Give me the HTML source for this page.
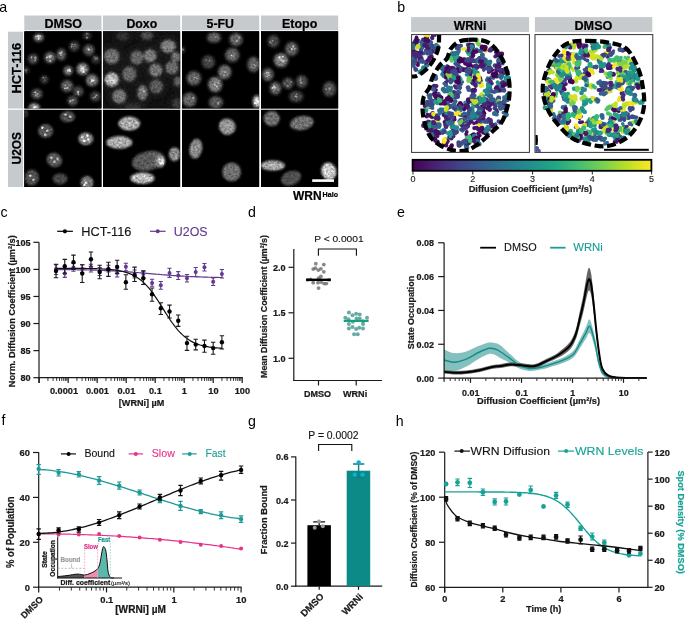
<!DOCTYPE html>
<html><head><meta charset="utf-8"><title>Figure</title>
<style>html,body{margin:0;padding:0;background:#fff;overflow:hidden}svg{display:block;will-change:transform}
text{font-family:"Liberation Sans",sans-serif}</style></head>
<body><svg width="685" height="622" viewBox="0 0 685 622">
<rect width="685" height="622" fill="#fff"/>
<text x="-0.70" y="12.20" font-size="14.2" >a</text>
<rect x="24.30" y="15.5" width="77.20" height="14.8" fill="#c7cacd"/>
<text x="63.20" y="27.90" font-size="13.0" font-weight="bold" text-anchor="middle" stroke="#000" stroke-width="0.22" textLength="37.6" lengthAdjust="spacingAndGlyphs" >DMSO</text>
<rect x="103.00" y="15.5" width="77.20" height="14.8" fill="#c7cacd"/>
<text x="141.85" y="27.90" font-size="13.0" font-weight="bold" text-anchor="middle" stroke="#000" stroke-width="0.22" textLength="30.8" lengthAdjust="spacingAndGlyphs" >Doxo</text>
<rect x="182.00" y="15.5" width="77.20" height="14.8" fill="#c7cacd"/>
<text x="220.30" y="27.90" font-size="13.0" font-weight="bold" text-anchor="middle" stroke="#000" stroke-width="0.22" textLength="27.4" lengthAdjust="spacingAndGlyphs" >5-FU</text>
<rect x="261.00" y="15.5" width="77.20" height="14.8" fill="#c7cacd"/>
<text x="299.65" y="27.90" font-size="13.0" font-weight="bold" text-anchor="middle" stroke="#000" stroke-width="0.22" textLength="35.4" lengthAdjust="spacingAndGlyphs" >Etopo</text>
<rect x="8" y="31.70" width="15" height="76.80" fill="#c7cacd"/>
<rect x="8" y="109.80" width="15" height="77.20" fill="#c7cacd"/>
<text x="21.00" y="68.10" font-size="12.8" font-weight="bold" text-anchor="middle" stroke="#000" stroke-width="0.22" textLength="50.6" lengthAdjust="spacingAndGlyphs" transform="rotate(-90 21.00 68.10)" >HCT-116</text>
<text x="20.60" y="148.20" font-size="12.6" font-weight="bold" text-anchor="middle" stroke="#000" stroke-width="0.22" textLength="32.5" lengthAdjust="spacingAndGlyphs" transform="rotate(-90 20.60 148.20)" >U2OS</text>
<defs><filter id="bl" x="-50%" y="-50%" width="200%" height="200%"><feGaussianBlur stdDeviation="1.5"/></filter><filter id="tex" x="0" y="0" width="100%" height="100%" color-interpolation-filters="sRGB"><feTurbulence type="fractalNoise" baseFrequency="0.45" numOctaves="2" seed="7" result="n"/><feColorMatrix in="n" type="matrix" values="1 0 0 0 0  1 0 0 0 0  1 0 0 0 0  0 0 0 0 1" result="nm"/><feComposite in="SourceGraphic" in2="nm" operator="arithmetic" k1="0.95" k2="0.53" k3="0" k4="0"/></filter><filter id="blD" x="-50%" y="-50%" width="200%" height="200%"><feGaussianBlur stdDeviation="1.15"/></filter><filter id="blU" x="-50%" y="-50%" width="200%" height="200%"><feGaussianBlur stdDeviation="1.3"/></filter><filter id="bl2" x="-50%" y="-50%" width="200%" height="200%"><feGaussianBlur stdDeviation="0.7"/></filter><filter id="bl3" x="-50%" y="-50%" width="200%" height="200%"><feGaussianBlur stdDeviation="3"/></filter></defs>
<clipPath id="c00"><rect x="24.30" y="31.30" width="77.20" height="77.20"/></clipPath>
<rect x="24.30" y="31.30" width="77.20" height="77.20" fill="#000"/>
<g clip-path="url(#c00)"><g filter="url(#tex)"><rect x="24.30" y="31.30" width="77.20" height="77.20" fill="#000"/>
<g filter="url(#bl)"><ellipse cx="38.70" cy="37.60" rx="5.00" ry="4.00" fill="rgb(122,122,122)"/><ellipse cx="87.00" cy="35.70" rx="4.00" ry="3.50" fill="rgb(57,57,57)"/><ellipse cx="74.30" cy="46.30" rx="5.00" ry="5.00" fill="rgb(69,69,69)"/><ellipse cx="88.90" cy="50.10" rx="5.50" ry="5.50" fill="rgb(90,90,90)"/><ellipse cx="50.00" cy="57.60" rx="5.50" ry="5.50" fill="rgb(106,106,106)"/><ellipse cx="61.30" cy="54.50" rx="4.50" ry="6.00" fill="rgb(94,94,94)"/><ellipse cx="33.10" cy="58.90" rx="5.00" ry="5.00" fill="rgb(77,77,77)"/><ellipse cx="95.80" cy="59.50" rx="4.00" ry="4.00" fill="rgb(57,57,57)"/><ellipse cx="26.20" cy="70.20" rx="3.00" ry="3.50" fill="rgb(49,49,49)"/><ellipse cx="68.20" cy="70.80" rx="4.50" ry="4.50" fill="rgb(122,122,122)"/><ellipse cx="82.60" cy="68.90" rx="6.00" ry="6.00" fill="rgb(139,139,139)"/><ellipse cx="92.10" cy="80.20" rx="6.00" ry="6.00" fill="rgb(122,122,122)"/><ellipse cx="44.30" cy="79.60" rx="4.00" ry="4.00" fill="rgb(57,57,57)"/><ellipse cx="67.00" cy="85.90" rx="6.00" ry="6.00" fill="rgb(94,94,94)"/><ellipse cx="78.30" cy="91.50" rx="5.00" ry="5.00" fill="rgb(77,77,77)"/><ellipse cx="36.80" cy="94.00" rx="5.50" ry="5.00" fill="rgb(90,90,90)"/><ellipse cx="95.20" cy="96.50" rx="5.00" ry="5.00" fill="rgb(69,69,69)"/><ellipse cx="72.60" cy="100.90" rx="5.00" ry="5.00" fill="rgb(77,77,77)"/><ellipse cx="34.30" cy="107.30" rx="5.50" ry="4.00" fill="rgb(147,147,147)"/></g>
<g filter="url(#bl2)"><circle cx="40.08" cy="35.97" r="0.87" fill="rgb(255,255,255)" fill-opacity="0.7"/><circle cx="38.61" cy="38.93" r="0.86" fill="rgb(255,255,255)" fill-opacity="0.7"/><circle cx="38.91" cy="36.83" r="0.89" fill="rgb(255,255,255)" fill-opacity="0.7"/><circle cx="36.14" cy="36.42" r="0.90" fill="rgb(255,255,255)" fill-opacity="0.7"/><circle cx="86.61" cy="37.39" r="0.95" fill="rgb(133,133,133)" fill-opacity="0.7"/><circle cx="86.99" cy="37.77" r="1.09" fill="rgb(133,133,133)" fill-opacity="0.7"/><circle cx="87.87" cy="33.79" r="0.82" fill="rgb(133,133,133)" fill-opacity="0.7"/><circle cx="86.70" cy="33.67" r="0.97" fill="rgb(133,133,133)" fill-opacity="0.7"/><circle cx="73.98" cy="46.36" r="0.87" fill="rgb(161,161,161)" fill-opacity="0.7"/><circle cx="72.02" cy="44.40" r="1.09" fill="rgb(161,161,161)" fill-opacity="0.7"/><circle cx="71.52" cy="46.71" r="0.80" fill="rgb(161,161,161)" fill-opacity="0.7"/><circle cx="74.90" cy="44.62" r="0.71" fill="rgb(161,161,161)" fill-opacity="0.7"/><circle cx="88.63" cy="48.70" r="1.03" fill="rgb(209,209,209)" fill-opacity="0.7"/><circle cx="88.90" cy="50.10" r="0.90" fill="rgb(209,209,209)" fill-opacity="0.7"/><circle cx="89.49" cy="49.46" r="0.83" fill="rgb(209,209,209)" fill-opacity="0.7"/><circle cx="89.37" cy="49.60" r="0.93" fill="rgb(209,209,209)" fill-opacity="0.7"/><circle cx="50.25" cy="61.05" r="1.02" fill="rgb(247,247,247)" fill-opacity="0.7"/><circle cx="49.73" cy="57.69" r="0.83" fill="rgb(247,247,247)" fill-opacity="0.7"/><circle cx="46.67" cy="57.43" r="0.74" fill="rgb(247,247,247)" fill-opacity="0.7"/><circle cx="47.60" cy="56.80" r="0.92" fill="rgb(247,247,247)" fill-opacity="0.7"/><circle cx="61.92" cy="52.56" r="1.09" fill="rgb(218,218,218)" fill-opacity="0.7"/><circle cx="59.93" cy="53.12" r="0.88" fill="rgb(218,218,218)" fill-opacity="0.7"/><circle cx="60.37" cy="53.65" r="0.93" fill="rgb(218,218,218)" fill-opacity="0.7"/><circle cx="61.16" cy="55.22" r="0.77" fill="rgb(218,218,218)" fill-opacity="0.7"/><circle cx="31.48" cy="57.51" r="0.89" fill="rgb(180,180,180)" fill-opacity="0.7"/><circle cx="35.18" cy="60.22" r="1.05" fill="rgb(180,180,180)" fill-opacity="0.7"/><circle cx="35.53" cy="57.63" r="1.06" fill="rgb(180,180,180)" fill-opacity="0.7"/><circle cx="34.66" cy="58.08" r="0.86" fill="rgb(180,180,180)" fill-opacity="0.7"/><circle cx="95.60" cy="58.81" r="1.02" fill="rgb(133,133,133)" fill-opacity="0.7"/><circle cx="97.16" cy="57.61" r="0.94" fill="rgb(133,133,133)" fill-opacity="0.7"/><circle cx="97.23" cy="59.03" r="0.88" fill="rgb(133,133,133)" fill-opacity="0.7"/><circle cx="94.42" cy="57.31" r="1.07" fill="rgb(133,133,133)" fill-opacity="0.7"/><circle cx="26.24" cy="70.02" r="0.95" fill="rgb(114,114,114)" fill-opacity="0.7"/><circle cx="24.98" cy="70.32" r="1.04" fill="rgb(114,114,114)" fill-opacity="0.7"/><circle cx="26.26" cy="71.86" r="0.75" fill="rgb(114,114,114)" fill-opacity="0.7"/><circle cx="26.49" cy="71.98" r="0.83" fill="rgb(114,114,114)" fill-opacity="0.7"/><circle cx="68.32" cy="70.53" r="0.76" fill="rgb(255,255,255)" fill-opacity="0.7"/><circle cx="68.16" cy="70.67" r="0.93" fill="rgb(255,255,255)" fill-opacity="0.7"/><circle cx="69.52" cy="69.96" r="0.97" fill="rgb(255,255,255)" fill-opacity="0.7"/><circle cx="70.03" cy="71.11" r="0.94" fill="rgb(255,255,255)" fill-opacity="0.7"/><circle cx="81.24" cy="68.20" r="0.85" fill="rgb(255,255,255)" fill-opacity="0.7"/><circle cx="82.74" cy="68.88" r="0.71" fill="rgb(255,255,255)" fill-opacity="0.7"/><circle cx="83.30" cy="68.73" r="0.75" fill="rgb(255,255,255)" fill-opacity="0.7"/><circle cx="83.37" cy="71.93" r="1.07" fill="rgb(255,255,255)" fill-opacity="0.7"/><circle cx="93.74" cy="80.44" r="0.74" fill="rgb(255,255,255)" fill-opacity="0.7"/><circle cx="92.05" cy="81.06" r="0.96" fill="rgb(255,255,255)" fill-opacity="0.7"/><circle cx="91.69" cy="80.77" r="0.90" fill="rgb(255,255,255)" fill-opacity="0.7"/><circle cx="92.48" cy="80.30" r="1.10" fill="rgb(255,255,255)" fill-opacity="0.7"/><circle cx="44.59" cy="80.49" r="0.99" fill="rgb(133,133,133)" fill-opacity="0.7"/><circle cx="45.56" cy="77.57" r="0.77" fill="rgb(133,133,133)" fill-opacity="0.7"/><circle cx="43.13" cy="77.38" r="0.72" fill="rgb(133,133,133)" fill-opacity="0.7"/><circle cx="43.32" cy="77.63" r="0.84" fill="rgb(133,133,133)" fill-opacity="0.7"/><circle cx="66.99" cy="88.23" r="0.88" fill="rgb(218,218,218)" fill-opacity="0.7"/><circle cx="67.84" cy="87.54" r="0.86" fill="rgb(218,218,218)" fill-opacity="0.7"/><circle cx="65.20" cy="85.07" r="0.82" fill="rgb(218,218,218)" fill-opacity="0.7"/><circle cx="64.96" cy="88.45" r="0.80" fill="rgb(218,218,218)" fill-opacity="0.7"/><circle cx="78.26" cy="91.48" r="1.00" fill="rgb(180,180,180)" fill-opacity="0.7"/><circle cx="78.22" cy="91.63" r="0.81" fill="rgb(180,180,180)" fill-opacity="0.7"/><circle cx="78.49" cy="94.59" r="0.84" fill="rgb(180,180,180)" fill-opacity="0.7"/><circle cx="78.02" cy="92.63" r="1.08" fill="rgb(180,180,180)" fill-opacity="0.7"/><circle cx="35.32" cy="92.50" r="0.99" fill="rgb(209,209,209)" fill-opacity="0.7"/><circle cx="35.67" cy="94.87" r="0.96" fill="rgb(209,209,209)" fill-opacity="0.7"/><circle cx="37.49" cy="94.01" r="0.83" fill="rgb(209,209,209)" fill-opacity="0.7"/><circle cx="36.95" cy="96.07" r="0.85" fill="rgb(209,209,209)" fill-opacity="0.7"/><circle cx="96.51" cy="95.20" r="0.87" fill="rgb(161,161,161)" fill-opacity="0.7"/><circle cx="93.34" cy="97.81" r="0.87" fill="rgb(161,161,161)" fill-opacity="0.7"/><circle cx="95.12" cy="96.37" r="0.88" fill="rgb(161,161,161)" fill-opacity="0.7"/><circle cx="95.17" cy="97.01" r="0.91" fill="rgb(161,161,161)" fill-opacity="0.7"/><circle cx="70.78" cy="101.05" r="1.00" fill="rgb(180,180,180)" fill-opacity="0.7"/><circle cx="73.80" cy="99.83" r="0.82" fill="rgb(180,180,180)" fill-opacity="0.7"/><circle cx="70.03" cy="101.44" r="1.05" fill="rgb(180,180,180)" fill-opacity="0.7"/><circle cx="72.83" cy="100.34" r="1.10" fill="rgb(180,180,180)" fill-opacity="0.7"/><circle cx="34.10" cy="107.14" r="0.99" fill="rgb(255,255,255)" fill-opacity="0.7"/><circle cx="35.73" cy="107.21" r="0.97" fill="rgb(255,255,255)" fill-opacity="0.7"/><circle cx="33.99" cy="107.81" r="0.99" fill="rgb(255,255,255)" fill-opacity="0.7"/><circle cx="37.24" cy="107.33" r="0.91" fill="rgb(255,255,255)" fill-opacity="0.7"/><circle cx="82.30" cy="67.30" r="1.3" fill="rgb(220,220,220)" fill-opacity="0.95"/><circle cx="84.30" cy="70.30" r="1.3" fill="rgb(210,210,210)" fill-opacity="0.95"/><circle cx="81.30" cy="70.30" r="1.3" fill="rgb(200,200,200)" fill-opacity="0.95"/><circle cx="92.30" cy="80.30" r="1.3" fill="rgb(200,200,200)" fill-opacity="0.95"/><circle cx="68.30" cy="70.30" r="1.3" fill="rgb(200,200,200)" fill-opacity="0.95"/><circle cx="50.30" cy="56.30" r="1.3" fill="rgb(190,190,190)" fill-opacity="0.95"/><circle cx="38.30" cy="36.30" r="1.3" fill="rgb(190,190,190)" fill-opacity="0.95"/><circle cx="35.30" cy="107.30" r="1.3" fill="rgb(230,230,230)" fill-opacity="0.95"/></g>
</g></g>
<clipPath id="c10"><rect x="103.00" y="31.30" width="77.20" height="77.20"/></clipPath>
<rect x="103.00" y="31.30" width="77.20" height="77.20" fill="#101010"/>
<g clip-path="url(#c10)"><g filter="url(#tex)"><rect x="103.00" y="31.30" width="77.20" height="77.20" fill="#101010"/>
<g filter="url(#bl3)"><ellipse cx="111.80" cy="56.40" rx="11.25" ry="11.25" fill="rgb(30,30,30)"/><ellipse cx="136.90" cy="57.60" rx="9.75" ry="10.50" fill="rgb(30,30,30)"/><ellipse cx="150.00" cy="55.80" rx="9.75" ry="9.75" fill="rgb(30,30,30)"/><ellipse cx="168.20" cy="46.30" rx="11.25" ry="9.75" fill="rgb(30,30,30)"/><ellipse cx="175.80" cy="57.00" rx="6.75" ry="7.50" fill="rgb(30,30,30)"/><ellipse cx="146.90" cy="35.70" rx="9.00" ry="6.00" fill="rgb(30,30,30)"/><ellipse cx="123.00" cy="36.30" rx="9.00" ry="6.00" fill="rgb(30,30,30)"/><ellipse cx="155.70" cy="70.20" rx="9.75" ry="9.75" fill="rgb(30,30,30)"/><ellipse cx="172.00" cy="67.70" rx="9.75" ry="9.75" fill="rgb(30,30,30)"/><ellipse cx="129.30" cy="74.00" rx="10.50" ry="11.25" fill="rgb(30,30,30)"/><ellipse cx="111.80" cy="79.60" rx="10.50" ry="10.50" fill="rgb(30,30,30)"/><ellipse cx="156.30" cy="86.50" rx="9.75" ry="10.50" fill="rgb(30,30,30)"/><ellipse cx="177.70" cy="81.50" rx="6.00" ry="7.50" fill="rgb(30,30,30)"/><ellipse cx="142.50" cy="92.80" rx="7.50" ry="11.25" fill="rgb(30,30,30)"/><ellipse cx="119.30" cy="96.50" rx="10.50" ry="10.50" fill="rgb(30,30,30)"/><ellipse cx="177.00" cy="103.30" rx="7.50" ry="7.50" fill="rgb(30,30,30)"/><ellipse cx="133.00" cy="107.30" rx="12.00" ry="6.00" fill="rgb(30,30,30)"/></g>
<g filter="url(#blD)"><ellipse cx="111.80" cy="56.40" rx="7.50" ry="7.50" fill="rgb(110,110,110)"/><ellipse cx="136.90" cy="57.60" rx="6.50" ry="7.00" fill="rgb(100,100,100)"/><ellipse cx="150.00" cy="55.80" rx="6.50" ry="6.50" fill="rgb(120,120,120)"/><ellipse cx="168.20" cy="46.30" rx="7.50" ry="6.50" fill="rgb(125,125,125)"/><ellipse cx="175.80" cy="57.00" rx="4.50" ry="5.00" fill="rgb(110,110,110)"/><ellipse cx="146.90" cy="35.70" rx="6.00" ry="4.00" fill="rgb(75,75,75)"/><ellipse cx="123.00" cy="36.30" rx="6.00" ry="4.00" fill="rgb(50,50,50)"/><ellipse cx="155.70" cy="70.20" rx="6.50" ry="6.50" fill="rgb(115,115,115)"/><ellipse cx="172.00" cy="67.70" rx="6.50" ry="6.50" fill="rgb(105,105,105)"/><ellipse cx="129.30" cy="74.00" rx="7.00" ry="7.50" fill="rgb(100,100,100)"/><ellipse cx="111.80" cy="79.60" rx="7.00" ry="7.00" fill="rgb(180,180,180)"/><ellipse cx="156.30" cy="86.50" rx="6.50" ry="7.00" fill="rgb(90,90,90)"/><ellipse cx="177.70" cy="81.50" rx="4.00" ry="5.00" fill="rgb(90,90,90)"/><ellipse cx="142.50" cy="92.80" rx="5.00" ry="7.50" fill="rgb(115,115,115)"/><ellipse cx="119.30" cy="96.50" rx="7.00" ry="7.00" fill="rgb(115,115,115)"/><ellipse cx="177.00" cy="103.30" rx="5.00" ry="5.00" fill="rgb(55,55,55)"/><ellipse cx="133.00" cy="107.30" rx="8.00" ry="4.00" fill="rgb(45,45,45)"/></g>
<g filter="url(#bl2)"><circle cx="112.00" cy="80.30" r="1.3" fill="rgb(220,220,220)" fill-opacity="0.95"/><circle cx="111.00" cy="78.30" r="1.3" fill="rgb(210,210,210)" fill-opacity="0.95"/><circle cx="144.00" cy="91.30" r="1.3" fill="rgb(170,170,170)" fill-opacity="0.95"/></g>
</g></g>
<clipPath id="c20"><rect x="182.00" y="31.30" width="77.20" height="77.20"/></clipPath>
<rect x="182.00" y="31.30" width="77.20" height="77.20" fill="#000"/>
<g clip-path="url(#c20)"><g filter="url(#tex)"><rect x="182.00" y="31.30" width="77.20" height="77.20" fill="#000"/>
<g filter="url(#bl)"><ellipse cx="214.00" cy="37.60" rx="7.00" ry="5.00" fill="rgb(95,95,95)"/><ellipse cx="236.00" cy="39.50" rx="6.50" ry="6.50" fill="rgb(100,100,100)"/><ellipse cx="232.20" cy="55.10" rx="7.00" ry="7.00" fill="rgb(100,100,100)"/><ellipse cx="208.30" cy="62.00" rx="6.50" ry="6.50" fill="rgb(70,70,70)"/><ellipse cx="253.50" cy="64.50" rx="6.00" ry="7.50" fill="rgb(100,100,100)"/><ellipse cx="224.70" cy="72.10" rx="6.50" ry="7.00" fill="rgb(115,115,115)"/><ellipse cx="193.90" cy="78.30" rx="7.00" ry="7.00" fill="rgb(100,100,100)"/><ellipse cx="215.20" cy="84.60" rx="7.00" ry="7.50" fill="rgb(125,125,125)"/><ellipse cx="189.50" cy="99.70" rx="7.00" ry="7.00" fill="rgb(100,100,100)"/><ellipse cx="215.90" cy="102.20" rx="7.00" ry="6.00" fill="rgb(90,90,90)"/><ellipse cx="257.00" cy="101.60" rx="4.00" ry="6.00" fill="rgb(210,210,210)"/><ellipse cx="182.60" cy="50.10" rx="2.00" ry="3.00" fill="rgb(70,70,70)"/></g>
<g filter="url(#bl2)"><circle cx="216.59" cy="36.35" r="1.01" fill="rgb(180,180,180)" fill-opacity="0.7"/><circle cx="214.98" cy="37.12" r="0.95" fill="rgb(180,180,180)" fill-opacity="0.7"/><circle cx="239.05" cy="37.43" r="0.93" fill="rgb(190,190,190)" fill-opacity="0.7"/><circle cx="236.84" cy="41.02" r="1.10" fill="rgb(190,190,190)" fill-opacity="0.7"/><circle cx="233.36" cy="55.98" r="1.08" fill="rgb(190,190,190)" fill-opacity="0.7"/><circle cx="231.30" cy="55.40" r="0.83" fill="rgb(190,190,190)" fill-opacity="0.7"/><circle cx="209.49" cy="61.23" r="0.87" fill="rgb(133,133,133)" fill-opacity="0.7"/><circle cx="205.93" cy="59.55" r="0.90" fill="rgb(133,133,133)" fill-opacity="0.7"/><circle cx="255.45" cy="65.87" r="0.71" fill="rgb(190,190,190)" fill-opacity="0.7"/><circle cx="254.12" cy="65.02" r="0.98" fill="rgb(190,190,190)" fill-opacity="0.7"/><circle cx="224.09" cy="75.17" r="0.77" fill="rgb(218,218,218)" fill-opacity="0.7"/><circle cx="224.77" cy="72.17" r="0.98" fill="rgb(218,218,218)" fill-opacity="0.7"/><circle cx="194.53" cy="77.53" r="0.80" fill="rgb(190,190,190)" fill-opacity="0.7"/><circle cx="196.82" cy="78.54" r="0.82" fill="rgb(190,190,190)" fill-opacity="0.7"/><circle cx="217.12" cy="86.99" r="0.94" fill="rgb(237,237,237)" fill-opacity="0.7"/><circle cx="214.54" cy="84.84" r="0.96" fill="rgb(237,237,237)" fill-opacity="0.7"/><circle cx="187.65" cy="99.02" r="0.77" fill="rgb(190,190,190)" fill-opacity="0.7"/><circle cx="193.04" cy="98.00" r="0.98" fill="rgb(190,190,190)" fill-opacity="0.7"/><circle cx="218.54" cy="102.14" r="0.84" fill="rgb(171,171,171)" fill-opacity="0.7"/><circle cx="217.96" cy="103.78" r="0.91" fill="rgb(171,171,171)" fill-opacity="0.7"/><circle cx="254.62" cy="103.11" r="1.04" fill="rgb(255,255,255)" fill-opacity="0.7"/><circle cx="258.73" cy="103.88" r="0.70" fill="rgb(255,255,255)" fill-opacity="0.7"/><circle cx="182.36" cy="49.60" r="0.99" fill="rgb(133,133,133)" fill-opacity="0.7"/><circle cx="183.26" cy="49.80" r="1.01" fill="rgb(133,133,133)" fill-opacity="0.7"/><circle cx="258.00" cy="101.30" r="1.3" fill="rgb(240,240,240)" fill-opacity="0.95"/><circle cx="215.00" cy="83.30" r="1.3" fill="rgb(160,160,160)" fill-opacity="0.95"/></g>
</g></g>
<clipPath id="c30"><rect x="261.00" y="31.30" width="77.20" height="77.20"/></clipPath>
<rect x="261.00" y="31.30" width="77.20" height="77.20" fill="#000"/>
<g clip-path="url(#c30)"><g filter="url(#tex)"><rect x="261.00" y="31.30" width="77.20" height="77.20" fill="#000"/>
<g filter="url(#bl)"><ellipse cx="273.50" cy="41.30" rx="5.60" ry="6.30" fill="rgb(70,70,70)"/><ellipse cx="291.70" cy="48.90" rx="6.50" ry="7.00" fill="rgb(96,96,96)"/><ellipse cx="281.00" cy="60.20" rx="7.00" ry="7.00" fill="rgb(127,127,127)"/><ellipse cx="267.90" cy="74.60" rx="5.60" ry="6.30" fill="rgb(105,105,105)"/><ellipse cx="288.00" cy="83.30" rx="5.60" ry="5.60" fill="rgb(79,79,79)"/><ellipse cx="301.80" cy="81.50" rx="5.60" ry="6.30" fill="rgb(79,79,79)"/><ellipse cx="275.40" cy="88.30" rx="5.60" ry="6.30" fill="rgb(105,105,105)"/><ellipse cx="296.10" cy="96.50" rx="7.00" ry="5.60" fill="rgb(70,70,70)"/><ellipse cx="329.40" cy="89.00" rx="6.50" ry="7.50" fill="rgb(79,79,79)"/></g>
<g filter="url(#bl2)"><circle cx="272.48" cy="41.01" r="0.71" fill="rgb(152,152,152)" fill-opacity="0.7"/><circle cx="273.06" cy="40.59" r="0.80" fill="rgb(152,152,152)" fill-opacity="0.7"/><circle cx="271.64" cy="42.88" r="1.10" fill="rgb(152,152,152)" fill-opacity="0.7"/><circle cx="269.99" cy="42.27" r="1.10" fill="rgb(152,152,152)" fill-opacity="0.7"/><circle cx="291.71" cy="49.23" r="0.76" fill="rgb(209,209,209)" fill-opacity="0.7"/><circle cx="293.08" cy="46.61" r="1.07" fill="rgb(209,209,209)" fill-opacity="0.7"/><circle cx="294.42" cy="48.38" r="0.91" fill="rgb(209,209,209)" fill-opacity="0.7"/><circle cx="291.79" cy="48.94" r="1.02" fill="rgb(209,209,209)" fill-opacity="0.7"/><circle cx="279.36" cy="57.14" r="0.93" fill="rgb(255,255,255)" fill-opacity="0.7"/><circle cx="279.66" cy="57.62" r="1.06" fill="rgb(255,255,255)" fill-opacity="0.7"/><circle cx="282.72" cy="61.65" r="0.82" fill="rgb(255,255,255)" fill-opacity="0.7"/><circle cx="282.91" cy="56.69" r="0.80" fill="rgb(255,255,255)" fill-opacity="0.7"/><circle cx="268.67" cy="75.08" r="0.83" fill="rgb(228,228,228)" fill-opacity="0.7"/><circle cx="268.08" cy="72.93" r="1.00" fill="rgb(228,228,228)" fill-opacity="0.7"/><circle cx="267.30" cy="76.64" r="0.77" fill="rgb(228,228,228)" fill-opacity="0.7"/><circle cx="266.76" cy="72.94" r="1.05" fill="rgb(228,228,228)" fill-opacity="0.7"/><circle cx="289.79" cy="82.70" r="0.73" fill="rgb(171,171,171)" fill-opacity="0.7"/><circle cx="291.18" cy="81.98" r="0.89" fill="rgb(171,171,171)" fill-opacity="0.7"/><circle cx="284.62" cy="83.61" r="0.80" fill="rgb(171,171,171)" fill-opacity="0.7"/><circle cx="287.91" cy="85.83" r="0.97" fill="rgb(171,171,171)" fill-opacity="0.7"/><circle cx="300.62" cy="78.38" r="0.90" fill="rgb(171,171,171)" fill-opacity="0.7"/><circle cx="301.08" cy="81.94" r="0.79" fill="rgb(171,171,171)" fill-opacity="0.7"/><circle cx="300.73" cy="82.79" r="1.00" fill="rgb(171,171,171)" fill-opacity="0.7"/><circle cx="300.44" cy="80.07" r="0.85" fill="rgb(171,171,171)" fill-opacity="0.7"/><circle cx="274.42" cy="87.19" r="1.02" fill="rgb(228,228,228)" fill-opacity="0.7"/><circle cx="273.83" cy="86.07" r="0.85" fill="rgb(228,228,228)" fill-opacity="0.7"/><circle cx="272.79" cy="87.97" r="1.08" fill="rgb(228,228,228)" fill-opacity="0.7"/><circle cx="274.25" cy="88.06" r="0.98" fill="rgb(228,228,228)" fill-opacity="0.7"/><circle cx="297.21" cy="97.33" r="0.71" fill="rgb(152,152,152)" fill-opacity="0.7"/><circle cx="295.01" cy="96.20" r="0.86" fill="rgb(152,152,152)" fill-opacity="0.7"/><circle cx="296.77" cy="94.25" r="0.71" fill="rgb(152,152,152)" fill-opacity="0.7"/><circle cx="296.07" cy="96.51" r="1.03" fill="rgb(152,152,152)" fill-opacity="0.7"/><circle cx="325.81" cy="89.09" r="0.81" fill="rgb(171,171,171)" fill-opacity="0.7"/><circle cx="329.66" cy="88.39" r="1.05" fill="rgb(171,171,171)" fill-opacity="0.7"/><circle cx="329.16" cy="89.23" r="1.07" fill="rgb(171,171,171)" fill-opacity="0.7"/><circle cx="329.82" cy="88.19" r="0.93" fill="rgb(171,171,171)" fill-opacity="0.7"/><circle cx="281.00" cy="59.30" r="1.3" fill="rgb(190,190,190)" fill-opacity="0.95"/><circle cx="283.00" cy="61.30" r="1.3" fill="rgb(180,180,180)" fill-opacity="0.95"/><circle cx="268.00" cy="74.30" r="1.3" fill="rgb(170,170,170)" fill-opacity="0.95"/><circle cx="275.00" cy="88.30" r="1.3" fill="rgb(170,170,170)" fill-opacity="0.95"/></g>
</g></g>
<clipPath id="c01"><rect x="24.30" y="109.80" width="77.20" height="77.20"/></clipPath>
<rect x="24.30" y="109.80" width="77.20" height="77.20" fill="#000"/>
<g clip-path="url(#c01)"><g filter="url(#tex)"><rect x="24.30" y="109.80" width="77.20" height="77.20" fill="#000"/>
<g filter="url(#blU)"><ellipse cx="67.60" cy="116.70" rx="7.50" ry="5.60" fill="rgb(80,80,80)"/><ellipse cx="45.60" cy="131.10" rx="7.50" ry="7.00" fill="rgb(84,84,84)"/><ellipse cx="85.80" cy="138.70" rx="7.50" ry="6.30" fill="rgb(136,136,136)"/><ellipse cx="54.40" cy="160.00" rx="8.00" ry="7.00" fill="rgb(88,88,88)" transform="rotate(30 54.40 160.00)"/><ellipse cx="31.80" cy="177.60" rx="7.00" ry="8.00" fill="rgb(80,80,80)"/><ellipse cx="60.10" cy="178.80" rx="7.50" ry="5.60" fill="rgb(68,68,68)"/><ellipse cx="87.00" cy="182.60" rx="6.50" ry="6.50" fill="rgb(120,120,120)"/><ellipse cx="25.60" cy="113.60" rx="2.50" ry="4.00" fill="rgb(48,48,48)"/></g>
<g filter="url(#bl2)"><circle cx="82.30" cy="136.80" r="1.3" fill="rgb(250,250,250)" fill-opacity="0.95"/><circle cx="87.30" cy="135.80" r="1.3" fill="rgb(250,250,250)" fill-opacity="0.95"/><circle cx="84.30" cy="140.80" r="1.3" fill="rgb(240,240,240)" fill-opacity="0.95"/><circle cx="88.30" cy="139.80" r="1.3" fill="rgb(235,235,235)" fill-opacity="0.95"/><circle cx="42.30" cy="127.80" r="1.3" fill="rgb(220,220,220)" fill-opacity="0.95"/><circle cx="47.30" cy="130.80" r="1.3" fill="rgb(210,210,210)" fill-opacity="0.95"/><circle cx="45.30" cy="134.80" r="1.3" fill="rgb(200,200,200)" fill-opacity="0.95"/><circle cx="51.30" cy="157.80" r="1.3" fill="rgb(210,210,210)" fill-opacity="0.95"/><circle cx="54.30" cy="161.80" r="1.3" fill="rgb(210,210,210)" fill-opacity="0.95"/><circle cx="57.30" cy="158.80" r="1.3" fill="rgb(190,190,190)" fill-opacity="0.95"/><circle cx="86.30" cy="182.80" r="1.3" fill="rgb(230,230,230)" fill-opacity="0.95"/><circle cx="84.30" cy="184.80" r="1.3" fill="rgb(220,220,220)" fill-opacity="0.95"/><circle cx="30.30" cy="175.80" r="1.3" fill="rgb(200,200,200)" fill-opacity="0.95"/><circle cx="33.30" cy="179.80" r="1.3" fill="rgb(190,190,190)" fill-opacity="0.95"/><circle cx="65.30" cy="114.80" r="1.3" fill="rgb(200,200,200)" fill-opacity="0.95"/><circle cx="70.30" cy="116.80" r="1.3" fill="rgb(190,190,190)" fill-opacity="0.95"/></g>
</g></g>
<clipPath id="c11"><rect x="103.00" y="109.80" width="77.20" height="77.20"/></clipPath>
<rect x="103.00" y="109.80" width="77.20" height="77.20" fill="#000"/>
<g clip-path="url(#c11)"><g filter="url(#tex)"><rect x="103.00" y="109.80" width="77.20" height="77.20" fill="#000"/>
<g filter="url(#blU)"><ellipse cx="129.30" cy="123.60" rx="11.00" ry="7.00" fill="rgb(170,170,170)"/><ellipse cx="119.30" cy="142.40" rx="13.00" ry="6.30" fill="rgb(170,170,170)"/><ellipse cx="174.50" cy="154.30" rx="5.60" ry="7.00" fill="rgb(140,140,140)"/><ellipse cx="148.20" cy="160.80" rx="16.50" ry="9.60" fill="rgb(88,88,88)" transform="rotate(-12 148.20 160.80)"/><ellipse cx="159.50" cy="161.30" rx="5.50" ry="6.50" fill="rgb(120,120,120)"/><ellipse cx="161.50" cy="161.40" rx="3.20" ry="3.80" fill="rgb(215,215,215)"/><ellipse cx="142.50" cy="178.20" rx="12.00" ry="5.60" fill="rgb(185,185,185)"/></g>
<g filter="url(#bl2)"><circle cx="160.00" cy="159.80" r="1.3" fill="rgb(240,240,240)" fill-opacity="0.95"/><circle cx="162.50" cy="163.30" r="1.3" fill="rgb(235,235,235)" fill-opacity="0.95"/></g>
</g></g>
<clipPath id="c21"><rect x="182.00" y="109.80" width="77.20" height="77.20"/></clipPath>
<rect x="182.00" y="109.80" width="77.20" height="77.20" fill="#000"/>
<g clip-path="url(#c21)"><g filter="url(#tex)"><rect x="182.00" y="109.80" width="77.20" height="77.20" fill="#000"/>
<g filter="url(#blU)"><ellipse cx="227.20" cy="126.70" rx="8.50" ry="8.00" fill="rgb(150,150,150)" transform="rotate(30 227.20 126.70)"/><ellipse cx="195.80" cy="148.70" rx="6.30" ry="10.00" fill="rgb(140,140,140)" transform="rotate(10 195.80 148.70)"/><ellipse cx="231.60" cy="171.90" rx="9.40" ry="9.40" fill="rgb(110,110,110)"/></g>
</g></g>
<clipPath id="c31"><rect x="261.00" y="109.80" width="77.20" height="77.20"/></clipPath>
<rect x="261.00" y="109.80" width="77.20" height="77.20" fill="#000"/>
<g clip-path="url(#c31)"><g filter="url(#tex)"><rect x="261.00" y="109.80" width="77.20" height="77.20" fill="#000"/>
<g filter="url(#blU)"><ellipse cx="271.70" cy="118.60" rx="8.00" ry="7.50" fill="rgb(110,110,110)"/><ellipse cx="301.80" cy="123.00" rx="12.00" ry="7.00" fill="rgb(110,110,110)" transform="rotate(-10 301.80 123.00)"/><ellipse cx="272.90" cy="165.60" rx="12.00" ry="5.00" fill="rgb(170,170,170)"/><ellipse cx="291.10" cy="178.20" rx="10.50" ry="7.00" fill="rgb(80,80,80)" transform="rotate(-20 291.10 178.20)"/><ellipse cx="328.80" cy="171.30" rx="7.50" ry="8.80" fill="rgb(200,200,200)" transform="rotate(-20 328.80 171.30)"/></g>
<g filter="url(#bl2)"><circle cx="329.00" cy="171.80" r="1.3" fill="rgb(230,230,230)" fill-opacity="0.95"/></g>
</g></g>
<rect x="312.2" y="179.3" width="21.8" height="2.6" fill="#fff"/>
<text x="293.00" y="200.40" font-size="12.6" font-weight="bold" stroke="#000" stroke-width="0.22" textLength="28.6" lengthAdjust="spacingAndGlyphs" >WRN</text>
<text x="322.60" y="196.60" font-size="7.4" font-weight="bold" stroke="#000" stroke-width="0.22" textLength="15.4" lengthAdjust="spacingAndGlyphs" >Halo</text>
<text x="397.20" y="11.90" font-size="14.2" >b</text>
<rect x="411.1" y="17.1" width="118" height="14.9" fill="#c7cacd"/>
<rect x="534.9" y="17.1" width="117.4" height="14.9" fill="#c7cacd"/>
<text x="470.00" y="30.00" font-size="13.0" font-weight="bold" text-anchor="middle" stroke="#000" stroke-width="0.22" textLength="32.6" lengthAdjust="spacingAndGlyphs" >WRNi</text>
<text x="593.45" y="30.00" font-size="13.0" font-weight="bold" text-anchor="middle" stroke="#000" stroke-width="0.22" textLength="38.0" lengthAdjust="spacingAndGlyphs" >DMSO</text>
<rect x="411.6" y="34.6" width="117.8" height="117.8" fill="#fff" stroke="#333" stroke-width="1"/>
<rect x="535.0" y="34.6" width="117.8" height="117.8" fill="#fff" stroke="#333" stroke-width="1"/>
<clipPath id="bx1"><rect x="412.1" y="35.1" width="116.8" height="116.8"/></clipPath>
<clipPath id="bx2"><rect x="535.5" y="35.1" width="116.8" height="116.8"/></clipPath>
<g clip-path="url(#bx1)">
<g fill="#26838d"><circle cx="435.2" cy="132.6" r="2.4"/><circle cx="432.9" cy="133.0" r="2.0"/><circle cx="433.5" cy="135.3" r="2.1"/></g><g fill="#21978a"><circle cx="456.6" cy="106.8" r="2.3"/><circle cx="457.0" cy="109.1" r="2.5"/><circle cx="458.8" cy="107.8" r="1.6"/></g><g fill="#3f4888"><circle cx="469.4" cy="142.5" r="2.3"/><circle cx="467.1" cy="142.1" r="2.4"/><circle cx="469.3" cy="141.3" r="2.2"/></g><g fill="#f8e625"><circle cx="480.8" cy="123.3" r="2.4"/><circle cx="478.6" cy="122.5" r="2.2"/><circle cx="479.5" cy="124.7" r="2.6"/></g><g fill="#34628d"><circle cx="434.1" cy="77.3" r="2.1"/><circle cx="436.0" cy="76.0" r="1.8"/><circle cx="435.5" cy="78.3" r="2.6"/></g><g fill="#228e8c"><circle cx="502.9" cy="83.8" r="2.4"/><circle cx="501.0" cy="85.0" r="1.8"/><circle cx="498.8" cy="84.3" r="2.3"/><circle cx="497.7" cy="82.2" r="2.0"/></g><g fill="#3b518a"><circle cx="466.6" cy="125.2" r="2.3"/><circle cx="464.4" cy="125.7" r="1.9"/><circle cx="465.7" cy="123.8" r="2.2"/></g><g fill="#440255"><circle cx="478.3" cy="59.6" r="2.1"/><circle cx="479.7" cy="57.9" r="1.8"/></g><g fill="#3e4a88"><circle cx="503.9" cy="103.6" r="2.2"/><circle cx="503.6" cy="101.4" r="2.0"/><circle cx="505.0" cy="99.6" r="2.6"/><circle cx="507.2" cy="98.7" r="2.1"/></g><g fill="#dce326"><circle cx="489.2" cy="63.6" r="2.2"/><circle cx="489.9" cy="65.8" r="2.1"/><circle cx="487.6" cy="66.0" r="2.0"/></g><g fill="#3a558b"><circle cx="469.1" cy="108.6" r="2.4"/><circle cx="467.6" cy="106.8" r="2.2"/></g><g fill="#22a187"><circle cx="431.6" cy="100.8" r="2.4"/><circle cx="430.5" cy="98.7" r="1.7"/></g><g fill="#45085b"><circle cx="476.4" cy="78.5" r="2.6"/><circle cx="475.1" cy="76.6" r="2.2"/><circle cx="474.5" cy="78.8" r="2.3"/><circle cx="472.2" cy="78.9" r="1.7"/></g><g fill="#450d5f"><circle cx="452.7" cy="127.1" r="2.1"/><circle cx="453.3" cy="129.4" r="2.2"/><circle cx="454.3" cy="127.3" r="1.6"/><circle cx="456.6" cy="127.5" r="1.7"/></g><g fill="#38598c"><circle cx="437.4" cy="117.3" r="2.6"/><circle cx="435.8" cy="115.6" r="2.3"/></g><g fill="#32678d"><circle cx="467.9" cy="44.8" r="2.2"/><circle cx="470.1" cy="45.6" r="1.9"/><circle cx="472.3" cy="45.2" r="2.5"/><circle cx="471.5" cy="47.3" r="2.5"/></g><g fill="#472978"><circle cx="458.9" cy="68.6" r="2.2"/><circle cx="459.3" cy="70.9" r="2.5"/></g><g fill="#450a5d"><circle cx="489.4" cy="108.5" r="1.8"/><circle cx="488.4" cy="106.5" r="2.0"/></g><g fill="#471869"><circle cx="432.7" cy="113.1" r="2.2"/><circle cx="430.8" cy="114.4" r="1.9"/><circle cx="432.1" cy="116.4" r="2.5"/></g><g fill="#3e4a88"><circle cx="471.2" cy="56.0" r="2.4"/><circle cx="473.3" cy="55.1" r="1.9"/></g><g fill="#cce126"><circle cx="481.6" cy="93.6" r="1.6"/><circle cx="483.2" cy="95.3" r="1.8"/><circle cx="480.9" cy="94.8" r="1.9"/><circle cx="479.8" cy="96.8" r="2.1"/></g><g fill="#462b79"><circle cx="452.4" cy="53.7" r="2.5"/><circle cx="453.9" cy="55.5" r="2.2"/><circle cx="455.7" cy="56.9" r="1.6"/><circle cx="457.8" cy="57.9" r="2.5"/></g><g fill="#32668d"><circle cx="493.5" cy="78.2" r="1.7"/><circle cx="491.3" cy="77.4" r="2.2"/><circle cx="493.5" cy="76.8" r="2.0"/></g><g fill="#30b27c"><circle cx="468.8" cy="53.8" r="2.4"/><circle cx="471.1" cy="54.0" r="2.3"/></g><g fill="#450c5e"><circle cx="433.6" cy="136.7" r="2.0"/><circle cx="435.3" cy="138.2" r="1.8"/><circle cx="435.4" cy="140.5" r="2.3"/><circle cx="437.3" cy="141.9" r="2.5"/></g><g fill="#424185"><circle cx="448.6" cy="68.7" r="1.9"/><circle cx="450.9" cy="69.1" r="2.4"/><circle cx="452.9" cy="68.1" r="2.3"/><circle cx="451.9" cy="70.2" r="2.0"/></g><g fill="#482575"><circle cx="474.4" cy="90.5" r="2.5"/><circle cx="472.2" cy="91.0" r="2.0"/><circle cx="473.1" cy="93.1" r="1.8"/><circle cx="473.8" cy="95.3" r="2.0"/></g><g fill="#471b6d"><circle cx="431.4" cy="122.5" r="2.5"/><circle cx="429.6" cy="124.0" r="1.9"/><circle cx="428.6" cy="126.0" r="1.9"/></g><g fill="#471a6b"><circle cx="499.0" cy="74.1" r="2.4"/><circle cx="500.9" cy="75.3" r="1.8"/><circle cx="501.7" cy="73.2" r="2.0"/><circle cx="501.4" cy="75.5" r="2.5"/></g><g fill="#30698d"><circle cx="487.0" cy="80.1" r="2.1"/><circle cx="487.6" cy="77.9" r="1.7"/></g><g fill="#f2e625"><circle cx="438.5" cy="125.0" r="1.9"/><circle cx="437.9" cy="122.8" r="2.4"/><circle cx="436.0" cy="121.4" r="1.7"/></g><g fill="#219c88"><circle cx="469.7" cy="119.2" r="2.4"/><circle cx="471.6" cy="118.0" r="2.4"/><circle cx="471.6" cy="115.7" r="2.3"/><circle cx="472.6" cy="117.7" r="2.0"/></g><g fill="#440457"><circle cx="483.9" cy="113.3" r="2.4"/><circle cx="481.8" cy="112.6" r="2.1"/><circle cx="483.1" cy="110.8" r="2.1"/></g><g fill="#471e70"><circle cx="452.4" cy="69.2" r="2.6"/><circle cx="454.6" cy="69.5" r="2.3"/><circle cx="452.6" cy="68.4" r="2.2"/></g><g fill="#471769"><circle cx="471.3" cy="60.0" r="2.1"/><circle cx="469.0" cy="60.0" r="2.2"/></g><g fill="#471869"><circle cx="481.6" cy="120.2" r="2.6"/><circle cx="481.0" cy="117.9" r="1.9"/><circle cx="479.3" cy="116.4" r="2.3"/></g><g fill="#32668d"><circle cx="478.1" cy="81.1" r="1.9"/><circle cx="477.3" cy="79.0" r="2.4"/></g><g fill="#30698d"><circle cx="482.8" cy="120.7" r="2.6"/><circle cx="480.7" cy="119.7" r="1.8"/><circle cx="480.7" cy="122.0" r="1.8"/><circle cx="478.6" cy="121.0" r="2.4"/></g><g fill="#47186a"><circle cx="481.2" cy="118.6" r="2.1"/><circle cx="483.5" cy="118.5" r="2.1"/></g><g fill="#fbe725"><circle cx="485.8" cy="50.5" r="2.4"/><circle cx="484.6" cy="48.6" r="2.3"/><circle cx="482.4" cy="49.3" r="2.5"/><circle cx="484.7" cy="48.9" r="2.0"/></g><g fill="#450759"><circle cx="460.3" cy="59.2" r="2.6"/><circle cx="462.0" cy="60.8" r="2.2"/><circle cx="460.0" cy="62.0" r="1.7"/></g><g fill="#450a5c"><circle cx="444.8" cy="122.1" r="2.2"/><circle cx="447.0" cy="122.6" r="2.6"/><circle cx="447.1" cy="124.9" r="1.9"/></g><g fill="#238c8c"><circle cx="450.0" cy="123.0" r="2.1"/><circle cx="447.7" cy="123.1" r="2.5"/></g><g fill="#450659"><circle cx="471.8" cy="82.7" r="1.7"/><circle cx="471.8" cy="80.4" r="2.1"/></g><g fill="#3d4d89"><circle cx="435.4" cy="95.3" r="2.3"/><circle cx="435.5" cy="93.0" r="1.9"/><circle cx="437.1" cy="94.6" r="2.3"/><circle cx="435.8" cy="96.5" r="2.1"/></g><g fill="#472a78"><circle cx="485.3" cy="103.0" r="1.8"/><circle cx="487.6" cy="103.0" r="1.9"/><circle cx="485.7" cy="101.7" r="2.5"/></g><g fill="#31688d"><circle cx="466.8" cy="147.7" r="2.5"/><circle cx="466.3" cy="145.4" r="2.6"/><circle cx="465.6" cy="143.2" r="2.0"/></g><g fill="#375b8c"><circle cx="440.5" cy="98.1" r="1.9"/><circle cx="438.8" cy="96.5" r="2.6"/><circle cx="438.1" cy="94.3" r="2.6"/></g><g fill="#482273"><circle cx="505.1" cy="72.8" r="2.2"/><circle cx="507.3" cy="71.9" r="2.4"/></g><g fill="#3c4f89"><circle cx="488.4" cy="129.2" r="2.4"/><circle cx="486.4" cy="130.4" r="2.3"/><circle cx="485.7" cy="132.6" r="2.1"/></g><g fill="#450558"><circle cx="438.2" cy="96.4" r="2.0"/><circle cx="436.7" cy="98.2" r="2.3"/><circle cx="439.0" cy="98.5" r="2.1"/><circle cx="441.2" cy="97.7" r="2.3"/></g><g fill="#450a5d"><circle cx="481.8" cy="106.6" r="1.9"/><circle cx="483.8" cy="107.6" r="2.4"/><circle cx="481.5" cy="107.3" r="2.0"/></g><g fill="#34628d"><circle cx="485.8" cy="59.6" r="1.9"/><circle cx="484.0" cy="58.2" r="1.8"/><circle cx="481.9" cy="57.3" r="1.8"/><circle cx="482.4" cy="55.1" r="2.5"/></g><g fill="#472978"><circle cx="483.3" cy="132.3" r="2.0"/><circle cx="485.3" cy="131.2" r="2.5"/><circle cx="485.4" cy="133.5" r="1.9"/><circle cx="487.4" cy="134.6" r="2.3"/></g><g fill="#33b37a"><circle cx="472.6" cy="104.0" r="2.1"/><circle cx="473.8" cy="106.0" r="2.4"/><circle cx="475.6" cy="104.6" r="2.0"/></g><g fill="#482071"><circle cx="457.6" cy="53.9" r="1.7"/><circle cx="455.7" cy="55.3" r="2.1"/></g><g fill="#440355"><circle cx="474.1" cy="137.1" r="2.1"/><circle cx="473.7" cy="134.8" r="2.5"/><circle cx="471.6" cy="135.7" r="2.3"/><circle cx="471.2" cy="137.9" r="2.2"/></g><g fill="#33648d"><circle cx="442.6" cy="66.6" r="1.8"/><circle cx="442.1" cy="68.8" r="2.1"/></g><g fill="#424286"><circle cx="461.8" cy="69.2" r="2.6"/><circle cx="464.0" cy="69.9" r="2.4"/></g><g fill="#2f6c8e"><circle cx="450.7" cy="82.7" r="1.8"/><circle cx="451.8" cy="80.6" r="2.2"/><circle cx="452.4" cy="78.4" r="1.6"/></g><g fill="#3e4a88"><circle cx="497.5" cy="99.9" r="2.1"/><circle cx="498.7" cy="97.9" r="2.5"/></g><g fill="#21968a"><circle cx="426.2" cy="110.1" r="2.3"/><circle cx="424.5" cy="111.5" r="2.2"/></g><g fill="#462b79"><circle cx="477.8" cy="67.6" r="1.8"/><circle cx="475.7" cy="68.6" r="2.3"/><circle cx="474.2" cy="66.9" r="2.6"/><circle cx="476.1" cy="65.6" r="2.1"/></g><g fill="#2eb07d"><circle cx="483.7" cy="99.2" r="2.3"/><circle cx="483.3" cy="96.9" r="2.4"/><circle cx="483.2" cy="99.2" r="2.6"/></g><g fill="#3c508a"><circle cx="431.6" cy="128.9" r="1.6"/><circle cx="429.3" cy="128.5" r="2.0"/><circle cx="430.9" cy="130.2" r="2.0"/></g><g fill="#297c8e"><circle cx="468.0" cy="51.2" r="2.5"/><circle cx="470.1" cy="52.0" r="1.9"/></g><g fill="#482071"><circle cx="445.8" cy="82.4" r="2.0"/><circle cx="445.8" cy="84.7" r="2.2"/></g><g fill="#e2e425"><circle cx="452.4" cy="125.8" r="1.7"/><circle cx="453.3" cy="123.7" r="2.1"/></g><g fill="#433c83"><circle cx="494.8" cy="104.0" r="2.3"/><circle cx="495.5" cy="106.2" r="2.0"/><circle cx="494.5" cy="108.3" r="2.0"/></g><g fill="#3d4d89"><circle cx="491.0" cy="98.9" r="1.9"/><circle cx="491.0" cy="96.6" r="2.1"/><circle cx="488.7" cy="96.2" r="1.7"/></g><g fill="#462d7a"><circle cx="451.3" cy="76.7" r="2.1"/><circle cx="449.7" cy="78.5" r="2.3"/><circle cx="448.1" cy="80.0" r="2.5"/></g><g fill="#471769"><circle cx="472.5" cy="47.5" r="2.4"/><circle cx="471.9" cy="45.3" r="2.3"/><circle cx="470.4" cy="47.1" r="2.5"/></g><g fill="#dfe325"><circle cx="457.7" cy="91.5" r="1.6"/><circle cx="457.7" cy="93.8" r="1.8"/></g><g fill="#5cc762"><circle cx="433.4" cy="123.9" r="2.6"/><circle cx="432.4" cy="121.8" r="2.3"/></g><g fill="#30698d"><circle cx="429.5" cy="102.9" r="2.2"/><circle cx="430.6" cy="105.0" r="2.5"/></g><g fill="#3e4b89"><circle cx="454.8" cy="132.7" r="2.2"/><circle cx="456.3" cy="130.9" r="2.5"/></g><g fill="#f0e525"><circle cx="480.7" cy="100.1" r="1.7"/><circle cx="481.9" cy="98.1" r="2.6"/><circle cx="480.0" cy="99.4" r="1.6"/><circle cx="477.7" cy="98.9" r="2.0"/></g><g fill="#375b8c"><circle cx="430.3" cy="107.7" r="1.6"/><circle cx="431.7" cy="105.9" r="2.1"/><circle cx="432.5" cy="108.0" r="1.9"/></g><g fill="#22a286"><circle cx="449.3" cy="136.9" r="2.2"/><circle cx="451.6" cy="136.8" r="1.9"/><circle cx="449.7" cy="138.0" r="2.5"/><circle cx="451.7" cy="137.0" r="2.1"/></g><g fill="#461567"><circle cx="472.7" cy="90.2" r="2.1"/><circle cx="475.0" cy="89.8" r="1.8"/></g><g fill="#2f6d8e"><circle cx="471.4" cy="81.1" r="1.6"/><circle cx="473.4" cy="82.4" r="1.7"/><circle cx="475.7" cy="82.4" r="1.9"/><circle cx="475.4" cy="84.7" r="2.4"/></g><g fill="#32678d"><circle cx="495.5" cy="124.2" r="2.0"/><circle cx="493.5" cy="125.3" r="1.6"/><circle cx="494.6" cy="127.4" r="1.9"/></g><g fill="#cee126"><circle cx="473.4" cy="72.4" r="1.9"/><circle cx="471.4" cy="73.5" r="1.9"/><circle cx="470.2" cy="75.4" r="2.5"/><circle cx="470.7" cy="77.7" r="2.4"/></g><g fill="#450a5d"><circle cx="457.7" cy="87.2" r="1.8"/><circle cx="459.9" cy="87.6" r="1.9"/></g><g fill="#31688d"><circle cx="503.9" cy="84.4" r="2.0"/><circle cx="506.1" cy="83.8" r="1.7"/></g><g fill="#2f6d8e"><circle cx="459.3" cy="46.5" r="2.2"/><circle cx="457.3" cy="47.7" r="2.3"/><circle cx="459.0" cy="49.2" r="1.9"/><circle cx="458.6" cy="51.5" r="2.1"/></g><g fill="#35608d"><circle cx="480.8" cy="50.9" r="2.3"/><circle cx="478.5" cy="50.9" r="2.0"/><circle cx="476.6" cy="49.5" r="2.1"/></g><g fill="#450d5f"><circle cx="475.4" cy="117.0" r="2.5"/><circle cx="477.7" cy="116.9" r="1.9"/><circle cx="475.4" cy="117.0" r="2.5"/><circle cx="473.2" cy="116.4" r="1.8"/></g><g fill="#462d7a"><circle cx="452.2" cy="93.8" r="1.9"/><circle cx="453.9" cy="92.2" r="2.3"/><circle cx="456.1" cy="93.0" r="2.2"/><circle cx="455.4" cy="95.2" r="2.5"/></g><g fill="#45085a"><circle cx="466.6" cy="70.6" r="1.8"/><circle cx="464.4" cy="69.7" r="2.2"/><circle cx="466.7" cy="69.1" r="2.1"/></g><g fill="#482172"><circle cx="436.4" cy="86.0" r="2.1"/><circle cx="434.1" cy="86.0" r="2.2"/><circle cx="434.2" cy="88.3" r="1.8"/></g><g fill="#414487"><circle cx="486.0" cy="103.9" r="1.9"/><circle cx="485.2" cy="101.8" r="2.2"/><circle cx="486.0" cy="99.7" r="2.5"/><circle cx="485.1" cy="101.8" r="2.1"/></g><g fill="#34618d"><circle cx="469.2" cy="117.1" r="2.2"/><circle cx="466.9" cy="117.1" r="2.3"/></g><g fill="#219c88"><circle cx="451.4" cy="124.7" r="1.7"/><circle cx="451.8" cy="127.0" r="2.3"/></g><g fill="#433c82"><circle cx="452.6" cy="106.2" r="1.9"/><circle cx="454.3" cy="107.7" r="2.5"/><circle cx="455.7" cy="109.5" r="2.2"/></g><g fill="#3c4f8a"><circle cx="449.1" cy="68.3" r="1.7"/><circle cx="447.2" cy="69.6" r="2.5"/></g><g fill="#47186a"><circle cx="444.2" cy="114.6" r="2.6"/><circle cx="446.0" cy="116.1" r="2.5"/><circle cx="446.6" cy="113.9" r="2.3"/></g><g fill="#471b6d"><circle cx="501.8" cy="70.6" r="2.1"/><circle cx="499.7" cy="69.7" r="2.1"/><circle cx="497.9" cy="71.2" r="2.5"/><circle cx="496.3" cy="69.5" r="2.1"/></g><g fill="#461567"><circle cx="466.6" cy="60.3" r="1.6"/><circle cx="464.4" cy="59.8" r="2.5"/><circle cx="464.2" cy="62.1" r="1.7"/><circle cx="463.6" cy="59.8" r="2.3"/></g><g fill="#32678d"><circle cx="506.0" cy="80.6" r="2.3"/><circle cx="508.3" cy="81.0" r="1.9"/><circle cx="507.3" cy="78.9" r="1.8"/><circle cx="509.3" cy="77.7" r="1.7"/></g><g fill="#25878d"><circle cx="442.1" cy="132.0" r="1.8"/><circle cx="443.4" cy="130.1" r="2.0"/><circle cx="441.3" cy="131.0" r="1.7"/></g><g fill="#21938b"><circle cx="446.6" cy="113.2" r="2.1"/><circle cx="448.9" cy="113.4" r="2.4"/></g><g fill="#461264"><circle cx="460.2" cy="114.6" r="2.2"/><circle cx="462.4" cy="115.3" r="2.1"/><circle cx="464.6" cy="115.8" r="2.3"/></g><g fill="#450d60"><circle cx="435.6" cy="96.1" r="2.5"/><circle cx="434.3" cy="94.2" r="2.4"/><circle cx="435.3" cy="92.2" r="1.8"/><circle cx="436.1" cy="90.0" r="1.8"/></g><g fill="#22a087"><circle cx="454.0" cy="58.6" r="2.0"/><circle cx="453.6" cy="56.3" r="1.9"/><circle cx="452.0" cy="54.6" r="2.5"/></g><g fill="#482374"><circle cx="475.7" cy="86.1" r="2.0"/><circle cx="475.0" cy="83.9" r="2.2"/><circle cx="472.7" cy="83.7" r="1.7"/></g><g fill="#39568b"><circle cx="498.8" cy="60.0" r="2.4"/><circle cx="500.4" cy="61.6" r="2.2"/><circle cx="498.2" cy="61.9" r="1.8"/></g><g fill="#450c5f"><circle cx="504.0" cy="84.2" r="2.3"/><circle cx="504.5" cy="82.0" r="2.1"/><circle cx="502.2" cy="82.4" r="2.1"/></g><g fill="#38598c"><circle cx="484.7" cy="62.3" r="2.1"/><circle cx="484.4" cy="64.6" r="1.7"/><circle cx="486.7" cy="64.8" r="2.0"/><circle cx="487.4" cy="62.6" r="2.3"/></g><g fill="#31678d"><circle cx="462.4" cy="82.0" r="1.8"/><circle cx="460.2" cy="81.7" r="1.7"/></g><g fill="#32668d"><circle cx="462.9" cy="128.7" r="2.1"/><circle cx="461.1" cy="130.2" r="1.6"/></g><g fill="#482475"><circle cx="479.5" cy="78.3" r="2.6"/><circle cx="480.6" cy="80.4" r="2.2"/><circle cx="478.3" cy="80.2" r="2.0"/><circle cx="478.9" cy="78.0" r="2.5"/></g><g fill="#38598c"><circle cx="482.7" cy="115.8" r="2.0"/><circle cx="480.5" cy="116.3" r="2.2"/></g><g fill="#472877"><circle cx="467.5" cy="125.1" r="1.9"/><circle cx="465.5" cy="126.3" r="2.2"/><circle cx="467.8" cy="126.1" r="2.3"/></g><g fill="#3b528a"><circle cx="468.8" cy="89.8" r="2.3"/><circle cx="468.1" cy="87.6" r="2.4"/></g><g fill="#450e60"><circle cx="447.3" cy="141.3" r="2.4"/><circle cx="445.6" cy="139.7" r="2.3"/></g><g fill="#414487"><circle cx="453.2" cy="71.5" r="2.6"/><circle cx="453.6" cy="73.8" r="1.7"/></g><g fill="#3f4988"><circle cx="475.9" cy="99.9" r="2.2"/><circle cx="474.1" cy="101.4" r="1.8"/></g><g fill="#482374"><circle cx="430.4" cy="126.1" r="2.0"/><circle cx="431.9" cy="127.8" r="2.2"/><circle cx="430.8" cy="125.8" r="2.1"/></g><g fill="#482273"><circle cx="495.3" cy="56.5" r="2.0"/><circle cx="496.5" cy="54.5" r="1.8"/><circle cx="495.9" cy="52.3" r="1.9"/></g><g fill="#461668"><circle cx="431.3" cy="130.5" r="2.4"/><circle cx="429.7" cy="128.9" r="1.7"/><circle cx="428.1" cy="130.5" r="2.0"/></g><g fill="#45075a"><circle cx="428.3" cy="125.5" r="2.4"/><circle cx="430.0" cy="127.0" r="2.0"/><circle cx="428.1" cy="125.8" r="2.3"/><circle cx="425.8" cy="125.8" r="2.0"/></g><g fill="#31678d"><circle cx="503.5" cy="112.6" r="1.9"/><circle cx="505.8" cy="112.6" r="1.7"/><circle cx="506.5" cy="114.8" r="2.4"/><circle cx="504.8" cy="116.4" r="2.1"/></g><g fill="#2f6d8e"><circle cx="446.4" cy="110.2" r="1.8"/><circle cx="444.4" cy="111.4" r="1.9"/><circle cx="443.2" cy="109.4" r="2.0"/><circle cx="440.9" cy="109.5" r="2.3"/></g><g fill="#33638d"><circle cx="487.2" cy="94.0" r="2.5"/><circle cx="489.1" cy="95.3" r="2.3"/><circle cx="491.3" cy="95.9" r="2.0"/></g><g fill="#47186a"><circle cx="504.3" cy="105.5" r="2.0"/><circle cx="504.5" cy="107.8" r="2.3"/><circle cx="502.6" cy="106.6" r="2.4"/><circle cx="504.8" cy="106.4" r="1.9"/></g><g fill="#75cf54"><circle cx="427.6" cy="107.2" r="2.1"/><circle cx="425.6" cy="106.0" r="1.7"/><circle cx="427.2" cy="104.3" r="2.2"/></g><g fill="#3d4c89"><circle cx="457.5" cy="96.5" r="2.5"/><circle cx="455.2" cy="97.0" r="2.5"/><circle cx="453.1" cy="96.2" r="2.5"/></g><g fill="#45085a"><circle cx="459.8" cy="104.8" r="2.2"/><circle cx="462.1" cy="104.8" r="1.7"/><circle cx="460.3" cy="103.3" r="2.4"/><circle cx="458.8" cy="105.1" r="2.0"/></g><g fill="#47196b"><circle cx="425.9" cy="104.1" r="2.5"/><circle cx="424.7" cy="106.0" r="2.0"/></g><g fill="#355e8d"><circle cx="477.5" cy="104.2" r="2.0"/><circle cx="475.2" cy="104.2" r="2.4"/><circle cx="477.4" cy="104.2" r="1.8"/><circle cx="476.4" cy="106.3" r="1.8"/></g><g fill="#22a386"><circle cx="450.5" cy="96.2" r="2.2"/><circle cx="452.8" cy="96.7" r="1.7"/><circle cx="451.2" cy="95.1" r="2.4"/></g><g fill="#365d8d"><circle cx="505.3" cy="100.7" r="2.3"/><circle cx="507.2" cy="99.4" r="2.6"/></g><g fill="#3f4988"><circle cx="434.5" cy="100.7" r="1.9"/><circle cx="432.2" cy="101.0" r="2.3"/></g><g fill="#472b79"><circle cx="493.0" cy="49.6" r="1.7"/><circle cx="490.8" cy="50.4" r="2.0"/><circle cx="490.8" cy="48.1" r="1.6"/><circle cx="489.8" cy="50.2" r="2.3"/></g><g fill="#306a8d"><circle cx="427.3" cy="104.8" r="1.8"/><circle cx="429.2" cy="103.5" r="1.8"/><circle cx="427.2" cy="102.3" r="2.6"/></g><g fill="#24888d"><circle cx="484.5" cy="90.8" r="1.9"/><circle cx="486.8" cy="90.3" r="2.3"/><circle cx="487.2" cy="92.5" r="2.5"/></g><g fill="#482475"><circle cx="445.2" cy="100.9" r="2.1"/><circle cx="446.2" cy="102.9" r="2.5"/></g><g fill="#3d4d89"><circle cx="461.1" cy="67.6" r="1.7"/><circle cx="459.2" cy="66.3" r="1.8"/><circle cx="457.6" cy="64.7" r="2.6"/><circle cx="455.6" cy="63.6" r="2.2"/></g><g fill="#375b8c"><circle cx="464.8" cy="141.5" r="2.6"/><circle cx="462.7" cy="142.5" r="2.3"/><circle cx="461.5" cy="144.4" r="1.7"/><circle cx="459.5" cy="145.5" r="2.3"/></g><g fill="#39568b"><circle cx="471.2" cy="100.7" r="2.3"/><circle cx="473.2" cy="99.4" r="2.4"/><circle cx="471.3" cy="98.0" r="1.8"/><circle cx="471.1" cy="100.3" r="2.4"/></g><g fill="#3e4a88"><circle cx="488.2" cy="84.1" r="2.2"/><circle cx="490.4" cy="84.8" r="2.1"/></g><g fill="#2f6d8e"><circle cx="443.4" cy="89.3" r="2.6"/><circle cx="444.8" cy="91.1" r="2.5"/><circle cx="447.0" cy="91.8" r="1.7"/><circle cx="448.6" cy="90.2" r="2.5"/></g><g fill="#461062"><circle cx="469.4" cy="47.3" r="2.2"/><circle cx="469.9" cy="45.1" r="2.5"/><circle cx="470.5" cy="47.3" r="1.7"/></g><g fill="#e4e425"><circle cx="434.7" cy="115.8" r="1.6"/><circle cx="433.3" cy="114.0" r="2.3"/></g><g fill="#3d4c89"><circle cx="487.5" cy="122.1" r="2.0"/><circle cx="485.2" cy="121.8" r="2.1"/><circle cx="486.7" cy="120.1" r="1.7"/></g><g fill="#355e8d"><circle cx="502.7" cy="106.9" r="2.3"/><circle cx="501.0" cy="108.5" r="2.2"/></g><g fill="#482173"><circle cx="449.0" cy="118.8" r="1.9"/><circle cx="446.7" cy="118.8" r="2.3"/><circle cx="449.0" cy="119.3" r="2.0"/><circle cx="446.8" cy="118.5" r="2.5"/></g><g fill="#3e4c89"><circle cx="450.6" cy="106.4" r="2.3"/><circle cx="448.5" cy="107.4" r="2.4"/><circle cx="448.5" cy="105.1" r="2.2"/><circle cx="450.3" cy="106.6" r="1.8"/></g><g fill="#297a8e"><circle cx="501.8" cy="88.5" r="2.1"/><circle cx="499.5" cy="88.3" r="1.7"/><circle cx="501.5" cy="87.2" r="2.6"/><circle cx="503.6" cy="88.2" r="1.6"/></g><g fill="#440154"><circle cx="485.4" cy="133.2" r="1.9"/><circle cx="485.9" cy="131.0" r="2.2"/><circle cx="483.7" cy="130.1" r="2.1"/><circle cx="483.5" cy="132.4" r="2.2"/></g><g fill="#423e84"><circle cx="498.6" cy="61.1" r="2.3"/><circle cx="500.8" cy="61.6" r="1.9"/><circle cx="502.5" cy="63.2" r="2.2"/><circle cx="500.2" cy="63.1" r="1.7"/></g><g fill="#297b8e"><circle cx="442.8" cy="74.2" r="2.5"/><circle cx="444.2" cy="76.0" r="2.4"/><circle cx="445.5" cy="77.9" r="1.6"/></g><g fill="#32668d"><circle cx="452.8" cy="104.9" r="1.8"/><circle cx="455.0" cy="105.7" r="1.7"/><circle cx="454.7" cy="103.4" r="1.7"/><circle cx="455.2" cy="101.2" r="2.3"/></g><g fill="#21988a"><circle cx="483.9" cy="98.2" r="1.9"/><circle cx="484.7" cy="100.4" r="1.9"/><circle cx="482.5" cy="101.0" r="2.5"/><circle cx="481.2" cy="99.1" r="2.2"/></g><g fill="#472776"><circle cx="456.4" cy="87.3" r="2.5"/><circle cx="454.6" cy="85.9" r="1.7"/><circle cx="456.6" cy="86.9" r="2.4"/></g><g fill="#6acc5a"><circle cx="468.6" cy="140.5" r="2.0"/><circle cx="467.1" cy="142.3" r="1.9"/><circle cx="469.3" cy="141.7" r="2.1"/></g><g fill="#471a6c"><circle cx="449.3" cy="74.0" r="1.7"/><circle cx="447.1" cy="74.6" r="2.2"/><circle cx="448.6" cy="76.3" r="1.7"/><circle cx="446.9" cy="74.8" r="1.8"/></g><g fill="#461466"><circle cx="438.3" cy="133.6" r="2.0"/><circle cx="436.1" cy="134.3" r="1.7"/><circle cx="437.4" cy="136.2" r="1.9"/><circle cx="436.5" cy="134.1" r="2.1"/></g><g fill="#462b79"><circle cx="478.5" cy="120.6" r="2.5"/><circle cx="478.9" cy="118.3" r="2.2"/><circle cx="477.8" cy="116.4" r="1.9"/></g><g fill="#cae126"><circle cx="446.7" cy="107.5" r="2.4"/><circle cx="445.9" cy="109.7" r="2.2"/></g><g fill="#471b6c"><circle cx="488.8" cy="66.4" r="1.7"/><circle cx="490.3" cy="68.1" r="2.0"/></g><g fill="#53c467"><circle cx="450.1" cy="96.4" r="2.4"/><circle cx="451.6" cy="94.7" r="2.0"/><circle cx="449.3" cy="94.5" r="1.8"/><circle cx="450.8" cy="92.8" r="1.8"/></g><g fill="#482475"><circle cx="447.2" cy="66.1" r="1.8"/><circle cx="445.7" cy="67.9" r="1.6"/></g><g fill="#297c8e"><circle cx="475.1" cy="114.4" r="2.3"/><circle cx="473.3" cy="113.0" r="1.8"/><circle cx="472.4" cy="110.9" r="2.4"/><circle cx="471.8" cy="108.7" r="2.5"/></g><g fill="#75cf54"><circle cx="498.6" cy="100.9" r="2.2"/><circle cx="500.2" cy="102.6" r="1.7"/><circle cx="499.2" cy="104.7" r="2.3"/></g><g fill="#3b528a"><circle cx="498.7" cy="103.1" r="1.9"/><circle cx="501.0" cy="103.0" r="2.2"/></g><g fill="#229e87"><circle cx="442.9" cy="69.7" r="2.0"/><circle cx="445.2" cy="69.9" r="1.8"/><circle cx="444.6" cy="72.1" r="1.7"/></g><g fill="#21988a"><circle cx="475.4" cy="71.4" r="2.2"/><circle cx="473.6" cy="70.0" r="2.3"/><circle cx="472.6" cy="72.0" r="2.0"/></g><g fill="#248a8d"><circle cx="467.8" cy="102.5" r="1.8"/><circle cx="465.5" cy="102.8" r="2.3"/><circle cx="467.7" cy="103.3" r="2.2"/></g><g fill="#39568b"><circle cx="429.8" cy="97.4" r="2.5"/><circle cx="430.5" cy="95.1" r="2.2"/><circle cx="428.2" cy="95.2" r="1.6"/></g><g fill="#471c6d"><circle cx="471.1" cy="121.3" r="2.4"/><circle cx="469.6" cy="123.0" r="2.0"/></g><g fill="#238c8c"><circle cx="478.1" cy="100.3" r="1.8"/><circle cx="479.6" cy="102.0" r="2.5"/><circle cx="481.8" cy="102.7" r="2.0"/></g><g fill="#375b8c"><circle cx="491.8" cy="102.7" r="1.7"/><circle cx="490.5" cy="100.8" r="2.1"/><circle cx="492.8" cy="100.6" r="2.6"/><circle cx="494.4" cy="102.2" r="1.9"/></g><g fill="#5bc763"><circle cx="451.6" cy="60.9" r="1.8"/><circle cx="451.0" cy="58.7" r="2.1"/><circle cx="448.7" cy="58.5" r="1.9"/></g><g fill="#27818d"><circle cx="466.5" cy="74.7" r="1.8"/><circle cx="468.8" cy="74.8" r="2.6"/><circle cx="470.5" cy="76.4" r="2.0"/><circle cx="469.2" cy="74.5" r="2.3"/></g><g fill="#31688d"><circle cx="460.8" cy="129.2" r="1.7"/><circle cx="462.6" cy="130.6" r="2.1"/></g><g fill="#365c8c"><circle cx="457.3" cy="92.6" r="1.8"/><circle cx="459.5" cy="92.2" r="2.0"/><circle cx="457.8" cy="93.7" r="2.5"/><circle cx="458.1" cy="91.4" r="1.8"/></g><g fill="#32668d"><circle cx="439.1" cy="124.9" r="2.6"/><circle cx="436.9" cy="124.2" r="2.0"/></g><g fill="#33648d"><circle cx="452.1" cy="121.7" r="2.5"/><circle cx="449.8" cy="122.2" r="2.1"/><circle cx="451.0" cy="124.2" r="2.1"/></g><g fill="#414487"><circle cx="498.5" cy="121.2" r="1.9"/><circle cx="500.0" cy="122.9" r="1.8"/></g><g fill="#3a538a"><circle cx="478.5" cy="58.2" r="1.8"/><circle cx="476.8" cy="59.9" r="1.9"/><circle cx="476.4" cy="62.1" r="1.6"/></g><g fill="#471b6d"><circle cx="461.3" cy="121.2" r="2.4"/><circle cx="460.7" cy="123.4" r="1.7"/><circle cx="461.7" cy="125.5" r="1.8"/></g><g fill="#2f6d8e"><circle cx="507.5" cy="94.7" r="2.3"/><circle cx="506.5" cy="96.7" r="2.2"/><circle cx="504.2" cy="97.3" r="2.1"/></g><g fill="#450a5d"><circle cx="468.9" cy="65.0" r="2.5"/><circle cx="471.1" cy="65.7" r="1.9"/><circle cx="469.4" cy="64.1" r="1.7"/><circle cx="467.4" cy="65.2" r="1.6"/></g><g fill="#27818d"><circle cx="474.3" cy="136.2" r="2.5"/><circle cx="473.4" cy="138.4" r="2.6"/><circle cx="471.7" cy="139.9" r="2.4"/></g><g fill="#306b8d"><circle cx="453.3" cy="125.8" r="1.7"/><circle cx="451.6" cy="124.3" r="2.0"/></g><g fill="#287c8e"><circle cx="448.6" cy="88.2" r="2.6"/><circle cx="450.3" cy="89.7" r="2.4"/><circle cx="451.3" cy="87.6" r="1.8"/></g><g fill="#22a186"><circle cx="455.5" cy="76.5" r="2.6"/><circle cx="457.6" cy="75.7" r="1.8"/><circle cx="458.9" cy="77.6" r="2.6"/><circle cx="460.1" cy="79.6" r="2.6"/></g><g fill="#461062"><circle cx="473.0" cy="55.5" r="2.3"/><circle cx="472.1" cy="57.6" r="1.7"/><circle cx="470.6" cy="59.3" r="1.8"/><circle cx="470.9" cy="61.6" r="2.1"/></g><g fill="#461163"><circle cx="468.7" cy="102.2" r="1.9"/><circle cx="468.5" cy="99.9" r="2.6"/></g><g fill="#32668d"><circle cx="440.5" cy="67.4" r="2.3"/><circle cx="442.7" cy="68.0" r="2.4"/><circle cx="443.5" cy="70.1" r="2.4"/><circle cx="444.4" cy="68.0" r="2.4"/></g><g fill="#2d708e"><circle cx="457.5" cy="52.8" r="2.3"/><circle cx="455.2" cy="53.0" r="1.9"/><circle cx="453.2" cy="54.0" r="2.2"/><circle cx="455.2" cy="53.0" r="2.0"/></g><g fill="#32668d"><circle cx="444.1" cy="67.4" r="2.2"/><circle cx="446.2" cy="68.2" r="2.4"/><circle cx="447.2" cy="66.1" r="1.6"/></g><g fill="#21978a"><circle cx="489.9" cy="86.2" r="2.0"/><circle cx="487.9" cy="87.4" r="1.9"/><circle cx="487.9" cy="85.1" r="2.1"/><circle cx="489.5" cy="86.7" r="2.5"/></g><g fill="#462c79"><circle cx="496.3" cy="109.9" r="2.0"/><circle cx="497.6" cy="111.7" r="1.6"/></g><g fill="#e3e425"><circle cx="464.5" cy="122.2" r="2.1"/><circle cx="462.6" cy="120.8" r="1.7"/></g><g fill="#2f6c8e"><circle cx="477.9" cy="100.1" r="2.0"/><circle cx="479.1" cy="98.1" r="1.9"/><circle cx="480.8" cy="99.6" r="1.8"/><circle cx="479.0" cy="98.2" r="2.3"/></g><g fill="#482072"><circle cx="453.7" cy="136.5" r="1.7"/><circle cx="451.4" cy="136.3" r="2.5"/><circle cx="451.6" cy="138.6" r="1.9"/><circle cx="449.9" cy="137.1" r="2.2"/></g><g fill="#3e4b89"><circle cx="456.8" cy="45.9" r="2.1"/><circle cx="457.3" cy="48.1" r="2.5"/><circle cx="458.8" cy="46.5" r="2.4"/><circle cx="461.0" cy="45.7" r="2.0"/></g><g fill="#3e4c89"><circle cx="467.1" cy="121.6" r="1.8"/><circle cx="464.8" cy="121.5" r="2.3"/><circle cx="464.9" cy="119.2" r="2.3"/><circle cx="462.9" cy="120.4" r="2.3"/></g><g fill="#440457"><circle cx="464.0" cy="109.3" r="2.1"/><circle cx="465.0" cy="107.2" r="1.7"/></g><g fill="#f5e625"><circle cx="494.9" cy="74.8" r="1.7"/><circle cx="497.2" cy="74.7" r="2.6"/></g><g fill="#53c467"><circle cx="461.3" cy="120.0" r="2.3"/><circle cx="463.6" cy="120.2" r="1.8"/></g><g fill="#471e70"><circle cx="492.0" cy="125.9" r="2.6"/><circle cx="491.1" cy="123.8" r="2.2"/><circle cx="492.9" cy="125.3" r="2.3"/><circle cx="491.1" cy="123.9" r="2.2"/></g><g fill="#38598c"><circle cx="501.8" cy="89.6" r="2.5"/><circle cx="504.1" cy="90.2" r="1.8"/><circle cx="502.4" cy="88.7" r="2.4"/><circle cx="504.1" cy="90.2" r="2.1"/></g><g fill="#450b5d"><circle cx="440.7" cy="98.9" r="2.0"/><circle cx="439.9" cy="96.7" r="2.2"/><circle cx="439.7" cy="99.0" r="1.7"/><circle cx="437.6" cy="97.9" r="1.8"/></g><g fill="#471d6e"><circle cx="446.2" cy="141.9" r="2.4"/><circle cx="444.1" cy="142.9" r="2.4"/><circle cx="446.2" cy="143.9" r="1.8"/></g><g fill="#414487"><circle cx="458.7" cy="142.7" r="2.4"/><circle cx="459.0" cy="145.0" r="2.5"/></g><g fill="#450d5f"><circle cx="496.8" cy="76.1" r="2.5"/><circle cx="496.1" cy="73.9" r="2.0"/><circle cx="493.9" cy="74.2" r="2.3"/><circle cx="495.9" cy="73.2" r="2.2"/></g><g fill="#462d7a"><circle cx="446.0" cy="126.8" r="2.4"/><circle cx="445.1" cy="124.7" r="2.0"/></g><g fill="#287e8e"><circle cx="488.4" cy="90.7" r="2.2"/><circle cx="490.2" cy="89.1" r="2.3"/><circle cx="488.0" cy="90.0" r="2.1"/></g><g fill="#461163"><circle cx="444.3" cy="103.3" r="2.5"/><circle cx="442.7" cy="101.6" r="2.2"/><circle cx="440.9" cy="103.0" r="2.6"/><circle cx="442.1" cy="101.0" r="1.6"/></g><g fill="#461365"><circle cx="496.9" cy="87.3" r="2.2"/><circle cx="497.6" cy="89.5" r="1.9"/><circle cx="495.7" cy="88.2" r="1.9"/></g><g fill="#482173"><circle cx="432.9" cy="125.7" r="2.5"/><circle cx="434.7" cy="124.3" r="1.6"/><circle cx="433.5" cy="122.4" r="2.5"/></g><g fill="#482576"><circle cx="462.1" cy="122.2" r="2.3"/><circle cx="460.4" cy="123.8" r="2.1"/><circle cx="459.9" cy="121.5" r="2.4"/></g><g fill="#228f8c"><circle cx="456.8" cy="127.7" r="2.4"/><circle cx="454.8" cy="128.9" r="1.7"/><circle cx="453.8" cy="126.9" r="2.5"/></g><g fill="#440457"><circle cx="475.2" cy="78.9" r="2.2"/><circle cx="473.8" cy="80.7" r="1.7"/></g><g fill="#229f87"><circle cx="453.9" cy="76.7" r="2.5"/><circle cx="453.9" cy="79.0" r="2.2"/><circle cx="456.2" cy="78.8" r="2.2"/></g><g fill="#440154"><circle cx="493.7" cy="76.2" r="1.9"/><circle cx="492.5" cy="74.3" r="1.8"/><circle cx="494.7" cy="73.9" r="2.5"/></g><g fill="#22a286"><circle cx="457.4" cy="56.3" r="1.7"/><circle cx="455.7" cy="57.8" r="2.3"/><circle cx="456.9" cy="59.7" r="2.0"/><circle cx="455.0" cy="61.1" r="1.7"/></g><g fill="#462d7a"><circle cx="488.7" cy="119.1" r="2.0"/><circle cx="490.7" cy="120.2" r="1.7"/><circle cx="491.0" cy="122.5" r="2.1"/><circle cx="490.5" cy="120.3" r="2.2"/></g><g fill="#404688"><circle cx="504.0" cy="90.8" r="1.9"/><circle cx="501.7" cy="90.5" r="1.9"/></g><g fill="#472877"><circle cx="501.2" cy="70.1" r="2.4"/><circle cx="503.5" cy="69.7" r="1.6"/><circle cx="505.5" cy="70.8" r="2.1"/><circle cx="504.8" cy="73.0" r="1.8"/></g><g fill="#35608d"><circle cx="500.0" cy="108.5" r="2.0"/><circle cx="499.7" cy="106.2" r="2.2"/></g><g fill="#38b777"><circle cx="438.4" cy="98.7" r="1.6"/><circle cx="439.9" cy="100.5" r="2.5"/></g><g fill="#450e60"><circle cx="469.2" cy="62.4" r="2.6"/><circle cx="467.5" cy="64.0" r="2.0"/><circle cx="465.2" cy="63.6" r="2.1"/></g><g fill="#471d6f"><circle cx="487.7" cy="102.0" r="1.6"/><circle cx="489.9" cy="102.8" r="1.9"/><circle cx="490.4" cy="105.0" r="2.0"/><circle cx="492.0" cy="103.4" r="2.3"/></g><g fill="#461466"><circle cx="429.4" cy="115.6" r="2.1"/><circle cx="427.4" cy="114.4" r="1.8"/><circle cx="426.7" cy="116.5" r="2.0"/></g><g fill="#47196b"><circle cx="467.4" cy="141.8" r="2.1"/><circle cx="468.6" cy="143.8" r="1.7"/><circle cx="466.3" cy="144.0" r="1.7"/><circle cx="467.6" cy="142.1" r="2.5"/></g><g fill="#404587"><circle cx="427.2" cy="104.6" r="2.2"/><circle cx="428.1" cy="102.5" r="2.5"/></g><g fill="#461062"><circle cx="479.6" cy="135.4" r="2.1"/><circle cx="478.3" cy="133.4" r="2.0"/><circle cx="479.8" cy="131.6" r="1.8"/></g><g fill="#32678d"><circle cx="445.7" cy="85.0" r="2.0"/><circle cx="444.1" cy="83.4" r="1.7"/></g><g fill="#461466"><circle cx="474.3" cy="128.1" r="2.1"/><circle cx="476.6" cy="127.8" r="2.1"/><circle cx="478.3" cy="129.3" r="2.2"/><circle cx="480.5" cy="128.5" r="1.8"/></g><g fill="#471b6d"><circle cx="467.9" cy="107.6" r="2.3"/><circle cx="467.4" cy="105.4" r="2.3"/><circle cx="465.1" cy="105.6" r="2.0"/></g><g fill="#440558"><circle cx="445.3" cy="72.3" r="2.1"/><circle cx="446.3" cy="74.4" r="1.9"/><circle cx="448.3" cy="75.5" r="2.1"/><circle cx="446.4" cy="76.9" r="2.4"/></g><g fill="#31698d"><circle cx="496.6" cy="114.4" r="2.2"/><circle cx="494.5" cy="113.6" r="2.5"/></g><g fill="#34618d"><circle cx="450.0" cy="99.3" r="2.1"/><circle cx="448.8" cy="101.2" r="2.4"/></g><g fill="#433d83"><circle cx="462.1" cy="129.3" r="1.8"/><circle cx="464.2" cy="128.4" r="2.3"/><circle cx="466.4" cy="128.0" r="2.0"/></g><g fill="#38588b"><circle cx="474.7" cy="118.4" r="2.0"/><circle cx="472.6" cy="117.5" r="1.6"/><circle cx="470.4" cy="117.9" r="2.3"/></g><g fill="#32658d"><circle cx="499.3" cy="58.7" r="2.1"/><circle cx="500.4" cy="60.8" r="2.6"/><circle cx="500.3" cy="58.5" r="1.9"/><circle cx="499.0" cy="60.4" r="2.3"/></g><g fill="#471a6b"><circle cx="470.2" cy="72.3" r="2.3"/><circle cx="470.6" cy="74.6" r="1.6"/><circle cx="469.3" cy="72.6" r="1.9"/><circle cx="471.0" cy="71.0" r="1.8"/></g><g fill="#482676"><circle cx="491.2" cy="68.6" r="1.8"/><circle cx="492.9" cy="70.1" r="1.7"/></g><g fill="#433c82"><circle cx="463.3" cy="120.0" r="1.7"/><circle cx="461.0" cy="120.4" r="2.3"/><circle cx="461.6" cy="122.6" r="2.2"/></g><g fill="#482676"><circle cx="502.6" cy="83.3" r="2.2"/><circle cx="504.9" cy="83.2" r="2.0"/><circle cx="506.8" cy="81.9" r="2.3"/></g><g fill="#461163"><circle cx="439.6" cy="133.7" r="1.7"/><circle cx="437.7" cy="132.4" r="2.6"/><circle cx="435.6" cy="131.4" r="2.6"/></g><g fill="#450a5d"><circle cx="484.3" cy="132.0" r="1.8"/><circle cx="482.6" cy="130.4" r="2.5"/><circle cx="482.1" cy="128.2" r="2.4"/><circle cx="481.4" cy="130.4" r="2.4"/></g><g fill="#433d83"><circle cx="457.5" cy="94.1" r="1.6"/><circle cx="457.5" cy="96.4" r="1.8"/></g><g fill="#3c4e89"><circle cx="466.8" cy="70.8" r="2.5"/><circle cx="468.8" cy="71.9" r="2.2"/><circle cx="469.2" cy="69.7" r="2.5"/></g><g fill="#440255"><circle cx="463.4" cy="60.4" r="1.8"/><circle cx="461.1" cy="61.0" r="2.3"/><circle cx="458.9" cy="60.8" r="2.3"/></g><g fill="#21978a"><circle cx="481.1" cy="101.4" r="1.8"/><circle cx="480.8" cy="99.1" r="1.9"/><circle cx="479.9" cy="97.0" r="1.6"/></g><g fill="#229e88"><circle cx="477.4" cy="72.7" r="2.3"/><circle cx="475.3" cy="73.6" r="2.2"/></g><g fill="#21978a"><circle cx="450.4" cy="136.5" r="1.7"/><circle cx="451.3" cy="134.4" r="2.0"/><circle cx="450.4" cy="132.3" r="2.3"/><circle cx="448.4" cy="133.3" r="2.3"/></g><g fill="#461365"><circle cx="473.9" cy="123.5" r="1.7"/><circle cx="476.1" cy="122.6" r="1.9"/></g><g fill="#228d8c"><circle cx="458.4" cy="110.9" r="2.2"/><circle cx="460.7" cy="110.6" r="1.9"/><circle cx="459.7" cy="108.5" r="2.4"/></g><g fill="#45095b"><circle cx="502.9" cy="85.8" r="2.2"/><circle cx="504.9" cy="84.8" r="2.2"/><circle cx="507.2" cy="84.3" r="1.7"/></g><g fill="#3e4a88"><circle cx="430.5" cy="104.8" r="2.3"/><circle cx="431.3" cy="102.6" r="2.3"/><circle cx="432.5" cy="104.5" r="2.2"/></g><g fill="#450659"><circle cx="446.9" cy="69.0" r="2.5"/><circle cx="448.2" cy="67.0" r="2.1"/><circle cx="449.5" cy="68.9" r="1.8"/><circle cx="449.7" cy="71.2" r="1.8"/></g><g fill="#45085a"><circle cx="472.5" cy="53.8" r="1.7"/><circle cx="473.8" cy="51.8" r="2.5"/><circle cx="476.1" cy="51.5" r="2.2"/></g><g fill="#229e88"><circle cx="437.3" cy="103.2" r="2.0"/><circle cx="435.5" cy="101.8" r="2.4"/></g><g fill="#423f84"><circle cx="471.4" cy="59.9" r="2.4"/><circle cx="473.6" cy="60.6" r="1.6"/><circle cx="471.5" cy="59.6" r="1.7"/><circle cx="473.5" cy="60.8" r="2.5"/></g><g fill="#80d24d"><circle cx="447.5" cy="74.3" r="2.1"/><circle cx="449.2" cy="75.8" r="2.6"/><circle cx="449.6" cy="78.1" r="2.2"/></g><g fill="#42bd71"><circle cx="466.7" cy="136.7" r="2.0"/><circle cx="469.0" cy="136.6" r="2.4"/><circle cx="470.3" cy="138.5" r="1.7"/><circle cx="470.3" cy="140.8" r="2.4"/></g><g fill="#bddf26"><circle cx="476.0" cy="101.5" r="2.4"/><circle cx="474.6" cy="103.3" r="1.7"/><circle cx="473.5" cy="101.3" r="2.0"/><circle cx="471.8" cy="99.7" r="1.7"/></g><g fill="#450a5d"><circle cx="448.7" cy="96.9" r="1.8"/><circle cx="447.4" cy="98.8" r="2.5"/><circle cx="449.7" cy="98.8" r="2.4"/><circle cx="451.2" cy="100.5" r="2.4"/></g><g fill="#461466"><circle cx="491.1" cy="71.2" r="1.7"/><circle cx="488.9" cy="72.0" r="2.1"/></g><g fill="#450c5f"><circle cx="454.6" cy="117.1" r="1.6"/><circle cx="454.5" cy="119.4" r="2.1"/></g><g fill="#73cf55"><circle cx="468.9" cy="78.3" r="2.3"/><circle cx="468.8" cy="80.6" r="2.5"/></g><g fill="#482676"><circle cx="481.7" cy="115.5" r="1.7"/><circle cx="484.0" cy="115.6" r="2.0"/></g><g fill="#f0e525"><circle cx="481.4" cy="85.6" r="2.5"/><circle cx="481.4" cy="83.3" r="1.9"/><circle cx="480.0" cy="85.2" r="1.7"/></g><g fill="#3c4f89"><circle cx="494.9" cy="65.5" r="2.3"/><circle cx="496.7" cy="66.9" r="2.1"/><circle cx="498.8" cy="67.7" r="2.2"/></g><g fill="#461365"><circle cx="497.9" cy="88.7" r="1.7"/><circle cx="499.2" cy="90.6" r="2.2"/></g><g fill="#3b528a"><circle cx="463.7" cy="141.9" r="2.5"/><circle cx="465.6" cy="140.6" r="2.3"/><circle cx="466.1" cy="142.8" r="1.9"/><circle cx="464.0" cy="142.0" r="1.6"/></g><g fill="#3d4c89"><circle cx="490.1" cy="68.5" r="2.0"/><circle cx="487.8" cy="68.2" r="1.8"/></g><g fill="#460f61"><circle cx="466.1" cy="134.1" r="1.9"/><circle cx="466.8" cy="131.9" r="1.9"/></g><g fill="#f2e625"><circle cx="456.4" cy="113.9" r="2.3"/><circle cx="458.2" cy="112.5" r="2.0"/><circle cx="460.2" cy="113.8" r="1.8"/></g><g fill="#482576"><circle cx="428.2" cy="121.7" r="2.2"/><circle cx="427.2" cy="123.8" r="2.5"/><circle cx="425.9" cy="125.7" r="2.2"/><circle cx="423.6" cy="125.4" r="2.5"/></g><g fill="#78d052"><circle cx="478.7" cy="44.3" r="2.4"/><circle cx="477.0" cy="42.7" r="1.8"/><circle cx="477.6" cy="40.5" r="1.9"/></g><g fill="#2f6c8e"><circle cx="479.3" cy="82.4" r="1.9"/><circle cx="477.4" cy="81.2" r="2.1"/></g><g fill="#238a8d"><circle cx="466.9" cy="51.1" r="1.8"/><circle cx="469.0" cy="50.3" r="2.1"/><circle cx="470.2" cy="48.3" r="2.5"/><circle cx="471.7" cy="46.6" r="2.4"/></g><g fill="#440255"><circle cx="457.1" cy="69.0" r="1.8"/><circle cx="457.1" cy="71.3" r="2.0"/></g><g fill="#31678d"><circle cx="432.3" cy="126.4" r="1.8"/><circle cx="434.6" cy="127.0" r="2.0"/><circle cx="436.8" cy="127.1" r="2.1"/><circle cx="439.1" cy="127.1" r="2.0"/></g><g fill="#482475"><circle cx="437.5" cy="116.4" r="2.2"/><circle cx="435.9" cy="118.0" r="2.2"/><circle cx="438.1" cy="118.4" r="2.5"/><circle cx="437.2" cy="116.3" r="2.3"/></g><g fill="#27808d"><circle cx="488.1" cy="127.3" r="2.5"/><circle cx="486.3" cy="128.7" r="2.0"/><circle cx="487.5" cy="130.7" r="1.7"/><circle cx="485.4" cy="131.3" r="2.1"/></g><g fill="#31688d"><circle cx="479.7" cy="62.1" r="2.3"/><circle cx="478.0" cy="60.6" r="2.5"/></g><g fill="#3e4b89"><circle cx="483.7" cy="70.1" r="1.8"/><circle cx="485.2" cy="68.3" r="2.1"/><circle cx="487.5" cy="68.6" r="1.8"/><circle cx="488.6" cy="70.6" r="1.9"/></g><g fill="#3e4a88"><circle cx="478.1" cy="106.9" r="1.9"/><circle cx="480.3" cy="107.5" r="1.6"/><circle cx="481.6" cy="109.4" r="2.1"/><circle cx="479.5" cy="110.3" r="2.6"/></g><g fill="#472a78"><circle cx="489.3" cy="79.8" r="2.1"/><circle cx="490.6" cy="81.7" r="2.2"/><circle cx="492.1" cy="83.5" r="1.7"/></g><g fill="#297a8e"><circle cx="489.0" cy="63.9" r="2.4"/><circle cx="490.1" cy="61.9" r="2.3"/><circle cx="487.8" cy="61.9" r="2.0"/></g><g fill="#67cb5c"><circle cx="460.1" cy="122.6" r="2.3"/><circle cx="461.6" cy="120.9" r="1.9"/></g><g fill="#3b518a"><circle cx="452.2" cy="80.8" r="1.7"/><circle cx="450.4" cy="79.3" r="1.7"/><circle cx="450.7" cy="81.6" r="2.3"/></g><g fill="#461163"><circle cx="481.5" cy="65.2" r="2.0"/><circle cx="481.8" cy="62.9" r="1.8"/><circle cx="480.3" cy="61.2" r="2.1"/><circle cx="482.5" cy="60.6" r="1.6"/></g><g fill="#461264"><circle cx="446.9" cy="143.1" r="1.7"/><circle cx="446.0" cy="145.2" r="2.3"/></g><g fill="#482676"><circle cx="484.2" cy="104.9" r="2.5"/><circle cx="486.2" cy="103.8" r="1.8"/></g><g fill="#365c8c"><circle cx="489.6" cy="99.7" r="1.8"/><circle cx="491.6" cy="100.7" r="1.8"/><circle cx="493.5" cy="99.4" r="2.2"/></g><g fill="#22a087"><circle cx="429.4" cy="124.3" r="2.0"/><circle cx="429.0" cy="126.5" r="2.3"/></g><g fill="#471c6d"><circle cx="483.6" cy="65.2" r="2.3"/><circle cx="482.0" cy="66.9" r="2.0"/><circle cx="479.9" cy="66.1" r="2.0"/></g><g fill="#39558b"><circle cx="496.4" cy="91.3" r="2.0"/><circle cx="494.2" cy="91.9" r="2.1"/><circle cx="491.9" cy="91.4" r="2.2"/></g><g fill="#228f8c"><circle cx="479.7" cy="112.1" r="2.4"/><circle cx="477.4" cy="112.2" r="1.7"/><circle cx="478.1" cy="114.4" r="2.3"/><circle cx="477.3" cy="116.5" r="1.9"/></g><g fill="#47186a"><circle cx="451.3" cy="67.7" r="2.0"/><circle cx="452.4" cy="69.7" r="2.4"/><circle cx="450.2" cy="69.5" r="2.5"/><circle cx="448.6" cy="71.2" r="2.5"/></g><g fill="#3f4988"><circle cx="478.1" cy="113.1" r="2.2"/><circle cx="480.3" cy="113.8" r="2.4"/></g><g fill="#f7e625"><circle cx="478.3" cy="75.4" r="2.4"/><circle cx="479.3" cy="77.5" r="1.7"/><circle cx="479.2" cy="79.8" r="2.1"/></g><g fill="#f3e625"><circle cx="466.9" cy="49.1" r="1.8"/><circle cx="464.7" cy="48.7" r="1.8"/><circle cx="462.4" cy="49.0" r="1.8"/></g><g fill="#3d4c89"><circle cx="468.4" cy="113.3" r="2.4"/><circle cx="469.2" cy="111.1" r="2.2"/><circle cx="470.0" cy="109.0" r="1.8"/></g><g fill="#47196b"><circle cx="487.7" cy="108.5" r="2.1"/><circle cx="489.7" cy="109.6" r="2.3"/></g><g fill="#33648d"><circle cx="500.3" cy="75.9" r="2.6"/><circle cx="501.2" cy="78.0" r="2.0"/><circle cx="502.4" cy="76.1" r="1.7"/></g><g fill="#424085"><circle cx="453.8" cy="131.2" r="1.9"/><circle cx="454.9" cy="133.2" r="2.3"/><circle cx="457.0" cy="132.4" r="1.8"/></g><g fill="#440255"><circle cx="451.8" cy="145.5" r="2.2"/><circle cx="450.8" cy="147.6" r="2.3"/></g><g fill="#440457"><circle cx="473.8" cy="138.7" r="1.8"/><circle cx="475.7" cy="137.4" r="1.6"/><circle cx="478.0" cy="137.3" r="2.0"/><circle cx="477.7" cy="139.5" r="2.5"/></g><g fill="#3f4988"><circle cx="456.3" cy="74.3" r="2.2"/><circle cx="454.2" cy="73.4" r="1.6"/><circle cx="455.0" cy="71.2" r="2.6"/><circle cx="452.7" cy="71.6" r="2.4"/></g><g fill="#471e70"><circle cx="474.1" cy="141.4" r="1.8"/><circle cx="475.7" cy="143.1" r="1.7"/><circle cx="474.9" cy="140.9" r="2.6"/><circle cx="475.7" cy="143.1" r="1.7"/></g><g fill="#450e60"><circle cx="497.7" cy="55.2" r="2.0"/><circle cx="499.5" cy="53.8" r="2.3"/><circle cx="501.8" cy="53.9" r="2.4"/></g><g fill="#3b518a"><circle cx="460.3" cy="84.3" r="2.4"/><circle cx="458.9" cy="86.1" r="2.5"/><circle cx="459.8" cy="88.2" r="1.9"/></g><g fill="#440154"><circle cx="482.3" cy="47.2" r="2.6"/><circle cx="484.6" cy="47.2" r="2.4"/><circle cx="484.7" cy="49.5" r="2.3"/><circle cx="485.4" cy="47.4" r="2.3"/></g><g fill="#404687"><circle cx="442.6" cy="133.2" r="1.8"/><circle cx="444.3" cy="131.6" r="2.5"/></g><g fill="#471a6c"><circle cx="499.1" cy="66.3" r="2.4"/><circle cx="498.5" cy="64.1" r="2.0"/><circle cx="497.1" cy="65.9" r="2.5"/></g><g fill="#2f6d8e"><circle cx="432.4" cy="133.9" r="1.7"/><circle cx="430.2" cy="134.5" r="1.8"/><circle cx="432.3" cy="135.4" r="2.2"/><circle cx="431.2" cy="137.5" r="2.4"/></g><g fill="#404687"><circle cx="460.1" cy="108.2" r="1.9"/><circle cx="459.9" cy="106.0" r="1.9"/><circle cx="461.6" cy="107.5" r="1.9"/></g><g fill="#404687"><circle cx="449.4" cy="113.4" r="2.1"/><circle cx="451.7" cy="114.0" r="2.4"/><circle cx="450.8" cy="116.2" r="2.6"/><circle cx="452.6" cy="117.6" r="2.2"/></g><g fill="#2f6c8e"><circle cx="439.0" cy="110.4" r="2.0"/><circle cx="440.5" cy="112.1" r="2.4"/><circle cx="439.0" cy="113.9" r="1.9"/></g><g fill="#34618d"><circle cx="431.4" cy="88.5" r="2.0"/><circle cx="433.5" cy="89.4" r="2.3"/></g><g fill="#404687"><circle cx="468.6" cy="61.4" r="1.8"/><circle cx="468.0" cy="59.2" r="2.1"/><circle cx="466.1" cy="60.4" r="2.0"/></g><g fill="#471a6c"><circle cx="468.6" cy="47.6" r="1.7"/><circle cx="468.4" cy="49.9" r="2.0"/></g><g fill="#21918c"><circle cx="505.6" cy="79.7" r="2.1"/><circle cx="505.3" cy="77.5" r="1.9"/><circle cx="507.4" cy="76.5" r="2.3"/><circle cx="507.3" cy="74.2" r="2.0"/></g><g fill="#34618d"><circle cx="464.4" cy="113.8" r="2.3"/><circle cx="462.4" cy="114.9" r="1.8"/></g><g fill="#fbe725"><circle cx="444.5" cy="139.7" r="2.5"/><circle cx="444.0" cy="142.0" r="2.1"/></g><g fill="#3c508a"><circle cx="472.0" cy="96.3" r="1.6"/><circle cx="474.3" cy="95.8" r="2.3"/><circle cx="472.6" cy="94.2" r="1.8"/><circle cx="472.0" cy="96.4" r="2.5"/></g><g fill="#31698d"><circle cx="477.9" cy="140.8" r="2.1"/><circle cx="477.9" cy="143.1" r="2.1"/><circle cx="477.3" cy="145.3" r="2.1"/><circle cx="479.1" cy="143.9" r="2.5"/></g><g fill="#27828d"><circle cx="473.7" cy="116.0" r="2.0"/><circle cx="471.7" cy="117.1" r="2.5"/><circle cx="472.8" cy="115.1" r="2.6"/></g><g fill="#440457"><circle cx="456.4" cy="81.7" r="2.3"/><circle cx="458.6" cy="82.3" r="2.4"/><circle cx="458.7" cy="80.0" r="2.1"/><circle cx="458.3" cy="77.8" r="2.3"/></g>
<g fill="#365d8c"><circle cx="427.5" cy="44.6" r="2.3"/><circle cx="429.8" cy="44.6" r="2.2"/><circle cx="430.6" cy="42.4" r="2.5"/><circle cx="428.3" cy="42.3" r="2.0"/></g><g fill="#24888d"><circle cx="422.1" cy="70.8" r="2.5"/><circle cx="420.0" cy="71.9" r="2.5"/><circle cx="421.2" cy="73.8" r="1.8"/></g><g fill="#375a8c"><circle cx="422.3" cy="46.9" r="2.4"/><circle cx="422.1" cy="44.6" r="2.5"/><circle cx="422.3" cy="42.3" r="2.4"/></g><g fill="#39568b"><circle cx="429.0" cy="51.4" r="2.1"/><circle cx="430.1" cy="49.4" r="2.0"/><circle cx="431.8" cy="47.8" r="2.5"/></g><g fill="#461062"><circle cx="429.3" cy="52.5" r="2.4"/><circle cx="430.9" cy="50.9" r="2.2"/><circle cx="431.2" cy="48.6" r="2.1"/><circle cx="430.5" cy="50.8" r="2.4"/></g><g fill="#3b528a"><circle cx="424.0" cy="53.4" r="1.8"/><circle cx="421.7" cy="53.2" r="2.5"/><circle cx="420.1" cy="51.6" r="1.7"/><circle cx="421.1" cy="49.6" r="2.3"/></g><g fill="#287d8e"><circle cx="414.6" cy="41.0" r="1.7"/><circle cx="414.4" cy="43.3" r="2.4"/><circle cx="416.6" cy="42.5" r="1.7"/><circle cx="418.4" cy="41.1" r="2.4"/></g><g fill="#450659"><circle cx="417.5" cy="42.0" r="1.6"/><circle cx="417.2" cy="39.7" r="1.6"/></g><g fill="#482072"><circle cx="432.2" cy="37.9" r="2.2"/><circle cx="432.8" cy="35.7" r="1.8"/><circle cx="435.1" cy="35.3" r="1.6"/></g><g fill="#471769"><circle cx="426.1" cy="64.0" r="2.0"/><circle cx="426.4" cy="61.7" r="2.3"/><circle cx="428.3" cy="60.4" r="2.4"/></g><g fill="#471f70"><circle cx="428.7" cy="51.9" r="2.4"/><circle cx="430.9" cy="52.2" r="2.4"/><circle cx="433.1" cy="51.5" r="2.1"/></g><g fill="#24878d"><circle cx="421.6" cy="45.5" r="2.2"/><circle cx="419.6" cy="46.6" r="1.6"/><circle cx="417.4" cy="45.8" r="1.7"/></g><g fill="#471c6d"><circle cx="413.3" cy="50.6" r="2.4"/><circle cx="411.7" cy="49.0" r="2.0"/><circle cx="410.7" cy="46.9" r="1.9"/><circle cx="410.8" cy="44.6" r="1.8"/></g><g fill="#3b508a"><circle cx="427.5" cy="51.0" r="2.5"/><circle cx="429.7" cy="50.5" r="2.3"/><circle cx="427.6" cy="51.5" r="2.1"/><circle cx="425.6" cy="50.3" r="1.7"/></g><g fill="#482576"><circle cx="422.8" cy="39.0" r="1.6"/><circle cx="425.0" cy="38.4" r="1.7"/><circle cx="423.5" cy="40.2" r="2.3"/></g><g fill="#424185"><circle cx="415.8" cy="69.6" r="2.4"/><circle cx="414.7" cy="67.6" r="1.6"/></g><g fill="#471c6d"><circle cx="419.1" cy="52.5" r="1.6"/><circle cx="421.4" cy="52.8" r="1.9"/></g><g fill="#461264"><circle cx="412.9" cy="52.7" r="2.1"/><circle cx="412.9" cy="50.4" r="2.0"/><circle cx="414.6" cy="52.0" r="1.7"/><circle cx="416.6" cy="53.1" r="2.5"/></g><g fill="#32668d"><circle cx="421.9" cy="46.8" r="2.1"/><circle cx="423.5" cy="45.1" r="2.3"/><circle cx="423.1" cy="42.8" r="2.0"/></g><g fill="#471c6e"><circle cx="427.9" cy="48.4" r="2.0"/><circle cx="426.9" cy="46.4" r="2.5"/><circle cx="424.9" cy="45.2" r="2.4"/><circle cx="426.8" cy="46.5" r="2.0"/></g><g fill="#450c5e"><circle cx="426.8" cy="36.7" r="2.5"/><circle cx="425.7" cy="38.7" r="1.8"/><circle cx="425.2" cy="40.9" r="1.8"/><circle cx="427.5" cy="40.7" r="2.6"/></g><g fill="#414587"><circle cx="416.4" cy="42.0" r="2.1"/><circle cx="415.8" cy="39.8" r="2.0"/></g><g fill="#461567"><circle cx="431.2" cy="56.3" r="2.4"/><circle cx="429.5" cy="57.9" r="2.3"/></g><g fill="#355f8d"><circle cx="414.0" cy="63.3" r="2.6"/><circle cx="412.9" cy="65.3" r="2.3"/><circle cx="411.6" cy="63.4" r="2.4"/></g><g fill="#35608d"><circle cx="413.1" cy="58.4" r="2.5"/><circle cx="412.2" cy="60.6" r="2.1"/><circle cx="414.1" cy="59.3" r="2.1"/><circle cx="415.1" cy="61.4" r="1.7"/></g><g fill="#3f4888"><circle cx="412.8" cy="56.1" r="2.0"/><circle cx="410.6" cy="55.3" r="2.4"/></g><g fill="#482071"><circle cx="421.7" cy="58.0" r="1.9"/><circle cx="419.6" cy="57.1" r="2.1"/><circle cx="420.2" cy="59.3" r="2.6"/></g><g fill="#3d4e89"><circle cx="430.3" cy="52.4" r="2.5"/><circle cx="428.0" cy="53.0" r="2.6"/><circle cx="426.3" cy="51.5" r="1.9"/></g><g fill="#21988a"><circle cx="414.0" cy="58.6" r="1.8"/><circle cx="412.4" cy="60.2" r="2.1"/></g><g fill="#3b518a"><circle cx="437.2" cy="47.2" r="1.8"/><circle cx="436.1" cy="45.1" r="2.1"/><circle cx="437.7" cy="46.8" r="2.3"/></g><g fill="#461062"><circle cx="415.6" cy="42.4" r="2.3"/><circle cx="413.8" cy="43.8" r="2.4"/><circle cx="415.7" cy="45.1" r="2.2"/></g><g fill="#21948b"><circle cx="423.0" cy="68.6" r="1.6"/><circle cx="425.2" cy="67.9" r="2.2"/><circle cx="422.9" cy="67.5" r="1.7"/></g><g fill="#27828d"><circle cx="427.7" cy="65.8" r="1.7"/><circle cx="425.5" cy="66.4" r="1.8"/><circle cx="423.3" cy="67.2" r="1.9"/></g><g fill="#2f6d8e"><circle cx="435.7" cy="50.5" r="1.8"/><circle cx="437.4" cy="49.0" r="2.1"/><circle cx="437.5" cy="46.7" r="2.4"/></g><g fill="#482676"><circle cx="414.5" cy="55.3" r="1.9"/><circle cx="416.1" cy="53.7" r="2.5"/><circle cx="413.8" cy="53.7" r="2.3"/><circle cx="416.0" cy="53.0" r="2.3"/></g><g fill="#3c508a"><circle cx="415.2" cy="58.5" r="2.1"/><circle cx="415.1" cy="60.8" r="2.5"/><circle cx="413.0" cy="61.6" r="1.7"/></g><g fill="#c4e026"><circle cx="416.0" cy="47.7" r="2.0"/><circle cx="418.0" cy="46.6" r="2.5"/></g><g fill="#472777"><circle cx="419.9" cy="55.0" r="2.1"/><circle cx="417.7" cy="55.4" r="2.5"/><circle cx="416.2" cy="57.2" r="1.8"/></g><g fill="#440558"><circle cx="416.5" cy="37.2" r="1.8"/><circle cx="416.7" cy="39.5" r="2.2"/></g><g fill="#45085a"><circle cx="417.9" cy="64.9" r="2.0"/><circle cx="418.3" cy="62.7" r="1.7"/></g><g fill="#21938b"><circle cx="433.2" cy="45.9" r="1.8"/><circle cx="435.4" cy="46.7" r="2.4"/><circle cx="433.1" cy="46.8" r="2.5"/></g><g fill="#3b528a"><circle cx="422.3" cy="60.4" r="2.1"/><circle cx="420.4" cy="61.6" r="2.1"/><circle cx="422.6" cy="62.2" r="1.7"/><circle cx="424.9" cy="62.2" r="1.7"/></g><g fill="#e7e425"><circle cx="427.5" cy="35.1" r="2.5"/><circle cx="425.2" cy="35.4" r="1.7"/></g><g fill="#3f4988"><circle cx="432.2" cy="45.9" r="2.1"/><circle cx="433.8" cy="47.6" r="1.7"/><circle cx="435.5" cy="49.1" r="1.8"/></g><g fill="#30698d"><circle cx="412.7" cy="47.7" r="2.1"/><circle cx="413.2" cy="45.5" r="2.3"/><circle cx="410.9" cy="45.3" r="2.4"/><circle cx="412.2" cy="47.2" r="2.6"/></g>
<path d="M468.4,39.8 C472.3,39.6 478.1,39.6 482.0,40.4 C485.9,41.2 488.8,42.4 491.7,44.7 C494.6,47.0 497.2,50.9 499.5,54.4 C501.8,57.9 503.7,61.5 505.3,66.0 C506.9,70.5 508.6,76.4 509.2,81.6 C509.8,86.8 509.7,92.3 509.2,97.2 C508.7,102.1 507.6,106.6 506.3,110.8 C505.0,115.0 503.8,118.9 501.4,122.5 C499.0,126.1 494.9,129.1 491.7,132.2 C488.5,135.3 485.9,138.1 482.0,141.0 C478.1,143.9 472.9,148.1 468.4,149.7 C463.8,151.3 459.2,151.3 454.7,150.7 C450.1,150.0 445.0,147.9 441.1,145.8 C437.2,143.7 434.0,141.2 431.4,138.0 C428.8,134.8 427.1,130.9 425.6,126.4 C424.1,121.9 422.9,115.7 422.6,110.8 C422.3,105.9 422.5,101.1 423.6,97.2 C424.8,93.3 428.0,90.8 429.5,87.5 C431.0,84.2 430.8,81.3 432.4,77.7 C434.0,74.1 436.8,69.2 439.2,66.0 C441.6,62.8 445.1,61.2 447.0,58.3 C448.9,55.4 449.0,51.4 450.9,48.6 C452.8,45.9 455.7,43.3 458.6,41.8 C461.5,40.3 464.5,40.0 468.4,39.8 Z" fill="none" stroke="#000" stroke-width="4.2" stroke-dasharray="9 3.6"/>
<path d="M439.2,33.5 C439.0,36.0 439.2,44.1 438.2,48.6 C437.2,53.1 435.4,56.6 433.3,60.2 C431.2,63.8 428.4,67.4 425.6,70.0 C422.9,72.6 419.3,74.7 416.8,75.8 C414.3,76.9 411.6,76.4 410.5,76.5" fill="none" stroke="#000" stroke-width="4.2" stroke-dasharray="9 3.6"/>
</g>
<g clip-path="url(#bx2)">
<g fill="#365d8c"><circle cx="567.6" cy="97.8" r="2.2"/><circle cx="565.8" cy="96.4" r="2.5"/><circle cx="563.5" cy="96.8" r="2.2"/><circle cx="564.3" cy="99.0" r="2.3"/></g><g fill="#414487"><circle cx="598.2" cy="82.8" r="2.0"/><circle cx="600.5" cy="83.0" r="2.4"/><circle cx="601.7" cy="85.0" r="2.6"/><circle cx="603.9" cy="85.6" r="2.4"/></g><g fill="#cee126"><circle cx="570.7" cy="102.9" r="2.0"/><circle cx="571.4" cy="100.8" r="2.0"/><circle cx="573.5" cy="99.9" r="2.5"/></g><g fill="#d2e226"><circle cx="557.6" cy="64.5" r="2.5"/><circle cx="555.5" cy="65.6" r="2.4"/><circle cx="553.5" cy="64.5" r="2.1"/><circle cx="551.6" cy="65.8" r="1.8"/></g><g fill="#70ce57"><circle cx="571.7" cy="104.1" r="2.6"/><circle cx="573.6" cy="102.8" r="2.2"/><circle cx="573.0" cy="100.5" r="1.8"/></g><g fill="#472877"><circle cx="600.5" cy="71.4" r="1.7"/><circle cx="601.2" cy="69.2" r="2.0"/><circle cx="602.6" cy="71.1" r="1.9"/></g><g fill="#43be71"><circle cx="604.5" cy="46.9" r="2.1"/><circle cx="606.8" cy="46.9" r="1.9"/><circle cx="608.9" cy="48.0" r="2.2"/></g><g fill="#26848d"><circle cx="563.6" cy="83.9" r="2.6"/><circle cx="562.4" cy="85.9" r="2.0"/></g><g fill="#cee126"><circle cx="628.8" cy="80.7" r="2.3"/><circle cx="630.6" cy="82.1" r="2.6"/><circle cx="631.5" cy="80.0" r="1.9"/><circle cx="630.0" cy="78.3" r="2.3"/></g><g fill="#3c4e89"><circle cx="587.2" cy="68.7" r="2.6"/><circle cx="586.2" cy="70.8" r="2.0"/><circle cx="584.3" cy="69.6" r="1.7"/></g><g fill="#dfe325"><circle cx="576.8" cy="78.3" r="2.3"/><circle cx="579.1" cy="78.6" r="1.7"/><circle cx="578.1" cy="76.6" r="2.6"/></g><g fill="#365c8c"><circle cx="579.9" cy="74.2" r="2.4"/><circle cx="581.8" cy="75.6" r="2.4"/><circle cx="584.0" cy="75.2" r="2.3"/></g><g fill="#30b27c"><circle cx="576.4" cy="111.4" r="1.9"/><circle cx="575.2" cy="113.4" r="2.4"/><circle cx="573.1" cy="114.3" r="2.5"/><circle cx="574.2" cy="116.3" r="1.9"/></g><g fill="#414286"><circle cx="631.1" cy="88.3" r="2.6"/><circle cx="630.2" cy="90.4" r="2.4"/><circle cx="628.1" cy="89.4" r="2.5"/><circle cx="626.9" cy="91.3" r="2.4"/></g><g fill="#219989"><circle cx="595.1" cy="128.9" r="2.0"/><circle cx="593.2" cy="130.2" r="2.5"/><circle cx="594.4" cy="132.1" r="1.6"/></g><g fill="#c1e026"><circle cx="586.8" cy="139.1" r="2.1"/><circle cx="586.9" cy="136.8" r="2.3"/><circle cx="589.1" cy="136.3" r="2.1"/><circle cx="590.9" cy="134.8" r="2.5"/></g><g fill="#d8e226"><circle cx="568.2" cy="45.9" r="2.5"/><circle cx="570.1" cy="44.6" r="2.2"/></g><g fill="#35608d"><circle cx="617.4" cy="59.9" r="2.1"/><circle cx="619.5" cy="60.6" r="2.5"/><circle cx="621.3" cy="62.1" r="1.7"/><circle cx="623.5" cy="61.7" r="2.1"/></g><g fill="#306b8d"><circle cx="555.9" cy="66.8" r="2.4"/><circle cx="558.2" cy="66.9" r="2.2"/></g><g fill="#38588c"><circle cx="549.1" cy="70.0" r="1.7"/><circle cx="548.1" cy="72.1" r="2.4"/><circle cx="549.5" cy="70.3" r="2.4"/></g><g fill="#482173"><circle cx="549.1" cy="91.5" r="2.1"/><circle cx="548.2" cy="93.6" r="1.9"/><circle cx="546.8" cy="95.5" r="2.2"/><circle cx="544.8" cy="94.3" r="2.0"/></g><g fill="#219c88"><circle cx="576.5" cy="55.0" r="2.4"/><circle cx="574.4" cy="54.0" r="1.6"/><circle cx="572.2" cy="54.6" r="2.3"/></g><g fill="#b4dd2c"><circle cx="606.7" cy="46.8" r="2.1"/><circle cx="606.0" cy="44.6" r="2.0"/><circle cx="605.2" cy="42.4" r="2.1"/><circle cx="605.3" cy="44.7" r="2.1"/></g><g fill="#22a386"><circle cx="551.2" cy="85.6" r="2.0"/><circle cx="553.1" cy="84.3" r="2.4"/><circle cx="552.9" cy="86.6" r="2.1"/></g><g fill="#ede525"><circle cx="624.0" cy="109.8" r="1.7"/><circle cx="623.1" cy="111.9" r="2.1"/><circle cx="623.9" cy="109.8" r="2.3"/><circle cx="621.7" cy="110.2" r="1.8"/></g><g fill="#31678d"><circle cx="596.0" cy="99.8" r="2.4"/><circle cx="597.6" cy="101.4" r="2.4"/><circle cx="596.6" cy="99.4" r="2.4"/></g><g fill="#482475"><circle cx="601.1" cy="123.7" r="2.1"/><circle cx="601.2" cy="126.0" r="2.2"/><circle cx="603.1" cy="127.4" r="2.2"/><circle cx="600.9" cy="126.7" r="2.5"/></g><g fill="#c4e026"><circle cx="607.6" cy="88.6" r="2.0"/><circle cx="606.3" cy="90.5" r="2.0"/><circle cx="608.3" cy="91.6" r="2.1"/><circle cx="610.5" cy="91.2" r="2.0"/></g><g fill="#6ccc59"><circle cx="560.0" cy="112.7" r="2.3"/><circle cx="561.3" cy="114.6" r="2.0"/><circle cx="563.0" cy="113.1" r="1.8"/><circle cx="560.7" cy="113.2" r="2.1"/></g><g fill="#bbde28"><circle cx="637.5" cy="102.1" r="1.7"/><circle cx="635.2" cy="101.9" r="2.5"/></g><g fill="#85d34a"><circle cx="597.0" cy="121.8" r="2.5"/><circle cx="595.0" cy="120.6" r="1.9"/><circle cx="595.5" cy="122.8" r="1.6"/><circle cx="593.2" cy="123.1" r="2.0"/></g><g fill="#34b479"><circle cx="579.6" cy="75.2" r="2.1"/><circle cx="577.7" cy="73.8" r="2.1"/><circle cx="578.9" cy="71.8" r="2.4"/><circle cx="576.7" cy="71.0" r="2.1"/></g><g fill="#95d73f"><circle cx="628.3" cy="83.1" r="2.5"/><circle cx="630.1" cy="81.7" r="2.2"/><circle cx="630.5" cy="79.4" r="1.7"/></g><g fill="#34b47a"><circle cx="569.2" cy="133.0" r="2.3"/><circle cx="570.6" cy="131.2" r="2.5"/><circle cx="570.5" cy="133.5" r="2.5"/><circle cx="569.6" cy="135.7" r="2.0"/></g><g fill="#375b8c"><circle cx="626.1" cy="72.1" r="1.9"/><circle cx="628.3" cy="72.5" r="1.9"/><circle cx="626.7" cy="74.1" r="1.7"/><circle cx="625.2" cy="72.3" r="2.3"/></g><g fill="#b6dd2b"><circle cx="556.5" cy="74.8" r="1.7"/><circle cx="558.3" cy="73.3" r="2.5"/><circle cx="560.2" cy="74.7" r="2.5"/></g><g fill="#34608d"><circle cx="620.0" cy="119.5" r="2.5"/><circle cx="621.0" cy="117.4" r="1.7"/><circle cx="623.1" cy="116.6" r="1.9"/><circle cx="621.0" cy="115.7" r="2.1"/></g><g fill="#33638d"><circle cx="594.1" cy="48.4" r="1.8"/><circle cx="592.7" cy="46.6" r="2.2"/><circle cx="593.7" cy="48.7" r="2.5"/><circle cx="592.4" cy="46.8" r="1.7"/></g><g fill="#63c95e"><circle cx="558.1" cy="76.1" r="1.9"/><circle cx="559.0" cy="78.3" r="2.1"/><circle cx="559.4" cy="76.0" r="2.3"/><circle cx="561.2" cy="77.4" r="1.8"/></g><g fill="#461769"><circle cx="570.8" cy="47.8" r="1.8"/><circle cx="571.1" cy="45.5" r="2.0"/><circle cx="569.9" cy="47.5" r="2.0"/></g><g fill="#b9de29"><circle cx="620.0" cy="78.3" r="2.2"/><circle cx="619.0" cy="76.2" r="2.2"/><circle cx="620.9" cy="75.0" r="1.7"/></g><g fill="#dae326"><circle cx="603.9" cy="129.9" r="2.2"/><circle cx="604.6" cy="132.1" r="1.9"/></g><g fill="#98d73e"><circle cx="581.8" cy="98.6" r="2.3"/><circle cx="583.6" cy="97.2" r="2.3"/><circle cx="585.9" cy="97.7" r="1.8"/><circle cx="584.4" cy="96.0" r="1.7"/></g><g fill="#38b777"><circle cx="567.2" cy="60.0" r="1.8"/><circle cx="568.0" cy="57.9" r="2.5"/><circle cx="570.2" cy="57.1" r="1.7"/><circle cx="569.7" cy="59.4" r="2.3"/></g><g fill="#b2dd2d"><circle cx="590.1" cy="51.4" r="1.8"/><circle cx="592.1" cy="52.5" r="2.1"/><circle cx="594.2" cy="51.5" r="1.9"/><circle cx="595.8" cy="49.8" r="2.3"/></g><g fill="#e7e425"><circle cx="628.5" cy="103.6" r="2.6"/><circle cx="630.8" cy="103.6" r="1.8"/><circle cx="632.9" cy="104.5" r="1.8"/><circle cx="632.2" cy="102.3" r="1.8"/></g><g fill="#e6e425"><circle cx="621.5" cy="84.0" r="2.1"/><circle cx="620.7" cy="81.8" r="2.1"/><circle cx="618.7" cy="82.9" r="2.2"/></g><g fill="#25858d"><circle cx="589.8" cy="119.5" r="2.3"/><circle cx="588.3" cy="121.2" r="2.0"/></g><g fill="#450b5d"><circle cx="602.8" cy="65.2" r="1.7"/><circle cx="600.5" cy="65.7" r="1.8"/><circle cx="601.1" cy="68.0" r="1.8"/></g><g fill="#27808d"><circle cx="555.0" cy="59.5" r="2.0"/><circle cx="554.1" cy="61.6" r="1.6"/></g><g fill="#22a485"><circle cx="567.7" cy="46.4" r="1.8"/><circle cx="565.9" cy="47.8" r="1.8"/></g><g fill="#2e708e"><circle cx="602.6" cy="124.6" r="2.4"/><circle cx="604.8" cy="124.1" r="2.1"/><circle cx="602.7" cy="123.2" r="1.6"/></g><g fill="#471d6e"><circle cx="549.8" cy="86.7" r="1.6"/><circle cx="551.7" cy="87.9" r="1.8"/></g><g fill="#d5e226"><circle cx="632.6" cy="62.8" r="2.5"/><circle cx="634.7" cy="62.0" r="1.6"/><circle cx="633.9" cy="64.1" r="2.2"/></g><g fill="#b9de29"><circle cx="552.8" cy="72.3" r="2.1"/><circle cx="550.6" cy="71.7" r="2.4"/><circle cx="548.7" cy="73.0" r="2.4"/></g><g fill="#404687"><circle cx="582.1" cy="137.9" r="2.0"/><circle cx="579.9" cy="138.7" r="2.3"/><circle cx="578.6" cy="140.6" r="2.4"/></g><g fill="#94d640"><circle cx="618.1" cy="135.6" r="1.8"/><circle cx="617.5" cy="133.3" r="1.6"/></g><g fill="#450c5e"><circle cx="618.7" cy="111.4" r="1.7"/><circle cx="616.9" cy="109.9" r="1.6"/><circle cx="614.7" cy="110.3" r="2.5"/><circle cx="613.3" cy="108.5" r="2.6"/></g><g fill="#cae126"><circle cx="563.3" cy="122.5" r="1.7"/><circle cx="565.3" cy="123.6" r="2.2"/><circle cx="565.5" cy="125.9" r="1.6"/></g><g fill="#229f87"><circle cx="565.8" cy="99.7" r="1.9"/><circle cx="567.5" cy="98.1" r="2.4"/><circle cx="565.3" cy="98.6" r="2.2"/><circle cx="567.5" cy="99.2" r="2.4"/></g><g fill="#e4e425"><circle cx="554.9" cy="83.0" r="2.2"/><circle cx="555.1" cy="80.7" r="2.5"/></g><g fill="#c0df26"><circle cx="626.2" cy="102.9" r="1.6"/><circle cx="625.5" cy="105.1" r="2.2"/><circle cx="624.3" cy="107.0" r="1.8"/><circle cx="624.3" cy="104.7" r="2.5"/></g><g fill="#47196a"><circle cx="580.0" cy="122.2" r="2.0"/><circle cx="582.3" cy="122.2" r="1.9"/></g><g fill="#472b79"><circle cx="552.5" cy="64.6" r="1.8"/><circle cx="554.1" cy="62.9" r="2.3"/><circle cx="551.9" cy="63.5" r="2.3"/><circle cx="553.2" cy="61.6" r="2.0"/></g><g fill="#d4e226"><circle cx="605.4" cy="84.1" r="2.5"/><circle cx="604.8" cy="86.3" r="2.5"/><circle cx="605.8" cy="88.4" r="1.7"/><circle cx="605.4" cy="86.1" r="1.9"/></g><g fill="#3ebb73"><circle cx="607.0" cy="46.5" r="1.6"/><circle cx="604.7" cy="47.0" r="1.8"/><circle cx="605.2" cy="44.7" r="1.7"/></g><g fill="#39568b"><circle cx="633.4" cy="87.6" r="1.9"/><circle cx="631.8" cy="89.2" r="2.4"/><circle cx="630.2" cy="87.5" r="2.5"/><circle cx="628.1" cy="88.4" r="2.5"/></g><g fill="#31688d"><circle cx="547.1" cy="80.4" r="1.8"/><circle cx="547.9" cy="78.3" r="1.6"/><circle cx="549.5" cy="79.9" r="2.1"/><circle cx="547.2" cy="79.4" r="1.8"/></g><g fill="#22a784"><circle cx="564.2" cy="120.8" r="2.6"/><circle cx="566.5" cy="121.3" r="1.8"/><circle cx="568.8" cy="121.5" r="2.0"/></g><g fill="#460f61"><circle cx="549.2" cy="98.0" r="2.3"/><circle cx="546.9" cy="98.0" r="2.3"/></g><g fill="#e9e525"><circle cx="618.9" cy="99.8" r="2.1"/><circle cx="620.1" cy="97.8" r="2.2"/><circle cx="619.6" cy="100.0" r="1.8"/></g><g fill="#d4e226"><circle cx="607.3" cy="133.7" r="2.4"/><circle cx="608.8" cy="132.0" r="2.6"/><circle cx="606.5" cy="131.7" r="2.0"/><circle cx="605.0" cy="130.0" r="1.9"/></g><g fill="#3e4b89"><circle cx="587.8" cy="70.7" r="1.8"/><circle cx="586.9" cy="72.8" r="2.1"/><circle cx="584.9" cy="74.0" r="2.5"/><circle cx="586.0" cy="72.0" r="2.5"/></g><g fill="#21938b"><circle cx="547.2" cy="100.9" r="2.4"/><circle cx="547.3" cy="98.6" r="1.9"/><circle cx="545.2" cy="99.5" r="1.7"/></g><g fill="#d3e226"><circle cx="592.0" cy="119.0" r="2.5"/><circle cx="593.0" cy="121.1" r="2.0"/><circle cx="594.1" cy="119.1" r="1.9"/></g><g fill="#b6de2b"><circle cx="557.1" cy="67.9" r="2.6"/><circle cx="556.9" cy="65.6" r="2.3"/></g><g fill="#f4e625"><circle cx="606.3" cy="55.0" r="2.6"/><circle cx="605.5" cy="52.8" r="2.0"/><circle cx="607.7" cy="52.6" r="2.1"/></g><g fill="#25858d"><circle cx="599.1" cy="60.2" r="2.5"/><circle cx="600.1" cy="62.2" r="2.6"/></g><g fill="#482475"><circle cx="607.7" cy="56.9" r="1.9"/><circle cx="606.3" cy="55.0" r="1.7"/></g><g fill="#32658d"><circle cx="595.7" cy="57.8" r="2.0"/><circle cx="597.9" cy="57.7" r="1.9"/><circle cx="599.5" cy="59.4" r="1.7"/></g><g fill="#450a5c"><circle cx="578.8" cy="135.6" r="2.6"/><circle cx="581.1" cy="135.3" r="1.8"/><circle cx="579.7" cy="137.1" r="2.6"/></g><g fill="#461163"><circle cx="613.3" cy="74.3" r="2.5"/><circle cx="611.1" cy="75.1" r="2.0"/><circle cx="608.9" cy="74.5" r="1.9"/><circle cx="610.2" cy="76.4" r="2.1"/></g><g fill="#76d053"><circle cx="618.5" cy="72.5" r="2.6"/><circle cx="619.7" cy="70.5" r="1.8"/><circle cx="619.5" cy="72.8" r="1.8"/></g><g fill="#b9de29"><circle cx="640.2" cy="84.1" r="1.8"/><circle cx="641.9" cy="85.7" r="2.0"/></g><g fill="#21968a"><circle cx="602.2" cy="64.6" r="1.9"/><circle cx="600.7" cy="66.4" r="2.2"/><circle cx="603.0" cy="66.1" r="2.5"/><circle cx="604.5" cy="64.4" r="2.4"/></g><g fill="#43bf70"><circle cx="556.3" cy="93.4" r="1.8"/><circle cx="554.2" cy="94.3" r="1.9"/><circle cx="555.8" cy="96.0" r="1.9"/><circle cx="556.3" cy="93.7" r="1.8"/></g><g fill="#21988a"><circle cx="549.3" cy="84.9" r="1.7"/><circle cx="550.7" cy="83.1" r="2.0"/><circle cx="553.0" cy="82.8" r="2.0"/></g><g fill="#22a386"><circle cx="598.1" cy="132.4" r="2.2"/><circle cx="600.4" cy="132.6" r="2.0"/><circle cx="598.8" cy="134.2" r="2.0"/><circle cx="600.7" cy="133.0" r="2.3"/></g><g fill="#25868d"><circle cx="631.1" cy="63.7" r="2.1"/><circle cx="633.1" cy="62.6" r="2.1"/></g><g fill="#d2e226"><circle cx="625.5" cy="127.7" r="2.2"/><circle cx="623.2" cy="127.5" r="2.5"/><circle cx="623.6" cy="129.8" r="1.7"/><circle cx="622.8" cy="132.0" r="2.2"/></g><g fill="#39568b"><circle cx="586.5" cy="123.4" r="2.1"/><circle cx="588.0" cy="125.2" r="1.8"/></g><g fill="#3e4b89"><circle cx="601.7" cy="139.1" r="2.6"/><circle cx="600.9" cy="136.9" r="1.7"/><circle cx="598.8" cy="137.8" r="2.4"/><circle cx="601.1" cy="137.7" r="1.7"/></g><g fill="#cae126"><circle cx="591.3" cy="85.4" r="2.5"/><circle cx="591.7" cy="87.6" r="1.9"/><circle cx="590.3" cy="85.8" r="2.6"/></g><g fill="#24888d"><circle cx="595.1" cy="134.3" r="1.8"/><circle cx="596.1" cy="132.2" r="2.4"/></g><g fill="#c2e026"><circle cx="583.1" cy="77.4" r="1.9"/><circle cx="584.9" cy="76.0" r="1.7"/><circle cx="582.7" cy="75.6" r="2.2"/><circle cx="581.3" cy="77.4" r="2.4"/></g><g fill="#423e84"><circle cx="628.4" cy="117.5" r="2.5"/><circle cx="626.8" cy="115.9" r="2.1"/><circle cx="628.2" cy="114.0" r="1.8"/></g><g fill="#22a186"><circle cx="589.1" cy="136.9" r="1.8"/><circle cx="591.3" cy="137.4" r="2.1"/><circle cx="589.6" cy="139.0" r="2.5"/></g><g fill="#404587"><circle cx="549.8" cy="83.2" r="1.9"/><circle cx="552.0" cy="84.0" r="2.6"/><circle cx="551.7" cy="81.7" r="1.8"/></g><g fill="#25868d"><circle cx="561.2" cy="59.5" r="2.0"/><circle cx="561.4" cy="61.8" r="2.3"/><circle cx="559.2" cy="61.4" r="2.2"/><circle cx="557.1" cy="62.4" r="1.8"/></g><g fill="#21928c"><circle cx="581.0" cy="50.4" r="2.2"/><circle cx="580.7" cy="52.7" r="2.5"/></g><g fill="#cbe126"><circle cx="566.0" cy="125.6" r="2.1"/><circle cx="567.0" cy="127.7" r="2.3"/><circle cx="565.8" cy="129.6" r="2.3"/><circle cx="563.8" cy="128.5" r="1.7"/></g><g fill="#22a286"><circle cx="627.7" cy="91.0" r="2.0"/><circle cx="630.0" cy="91.6" r="1.9"/><circle cx="628.4" cy="89.9" r="2.2"/></g><g fill="#219b89"><circle cx="640.0" cy="102.8" r="2.1"/><circle cx="642.3" cy="102.6" r="2.4"/><circle cx="642.2" cy="100.3" r="1.9"/></g><g fill="#39568b"><circle cx="610.8" cy="117.2" r="1.8"/><circle cx="610.2" cy="119.4" r="1.8"/><circle cx="611.3" cy="117.5" r="2.3"/><circle cx="610.3" cy="119.5" r="1.8"/></g><g fill="#dbe326"><circle cx="591.9" cy="97.5" r="1.7"/><circle cx="594.1" cy="98.3" r="2.1"/><circle cx="594.8" cy="100.5" r="2.1"/></g><g fill="#f3e625"><circle cx="554.1" cy="97.1" r="1.9"/><circle cx="553.8" cy="99.4" r="2.1"/><circle cx="552.8" cy="97.3" r="1.8"/><circle cx="552.7" cy="99.6" r="1.8"/></g><g fill="#34618d"><circle cx="580.7" cy="57.4" r="2.2"/><circle cx="578.4" cy="57.2" r="1.8"/><circle cx="578.8" cy="59.5" r="2.6"/></g><g fill="#482172"><circle cx="616.2" cy="134.3" r="1.8"/><circle cx="614.0" cy="134.9" r="2.6"/></g><g fill="#3ebb74"><circle cx="619.0" cy="59.2" r="1.7"/><circle cx="620.9" cy="57.8" r="2.0"/><circle cx="618.8" cy="58.8" r="2.2"/><circle cx="616.8" cy="57.8" r="2.6"/></g><g fill="#bcdf27"><circle cx="573.2" cy="70.1" r="1.8"/><circle cx="571.7" cy="68.3" r="1.8"/></g><g fill="#e8e425"><circle cx="593.8" cy="139.4" r="1.9"/><circle cx="592.2" cy="137.8" r="2.2"/><circle cx="594.4" cy="137.3" r="2.0"/></g><g fill="#414286"><circle cx="551.5" cy="85.9" r="2.3"/><circle cx="549.6" cy="84.5" r="1.8"/><circle cx="551.1" cy="86.3" r="2.2"/></g><g fill="#24898d"><circle cx="582.6" cy="88.8" r="2.4"/><circle cx="584.7" cy="89.8" r="2.3"/><circle cx="582.7" cy="90.9" r="1.6"/><circle cx="581.5" cy="92.9" r="2.3"/></g><g fill="#433b82"><circle cx="579.7" cy="46.9" r="2.0"/><circle cx="578.6" cy="44.9" r="1.9"/><circle cx="579.0" cy="47.1" r="2.1"/><circle cx="579.7" cy="45.0" r="1.9"/></g><g fill="#375b8c"><circle cx="585.0" cy="52.1" r="2.3"/><circle cx="585.1" cy="54.4" r="1.7"/><circle cx="583.2" cy="55.7" r="2.2"/><circle cx="583.6" cy="58.0" r="2.1"/></g><g fill="#306b8d"><circle cx="607.0" cy="142.8" r="2.1"/><circle cx="605.0" cy="143.8" r="1.9"/></g><g fill="#472b79"><circle cx="622.2" cy="93.3" r="2.5"/><circle cx="623.6" cy="95.1" r="2.1"/><circle cx="622.7" cy="97.3" r="2.1"/><circle cx="623.1" cy="99.6" r="2.1"/></g><g fill="#2aae7f"><circle cx="623.0" cy="117.8" r="2.1"/><circle cx="625.3" cy="117.8" r="2.3"/></g><g fill="#238b8d"><circle cx="610.5" cy="73.4" r="2.4"/><circle cx="609.7" cy="75.5" r="2.2"/><circle cx="607.8" cy="76.8" r="2.2"/></g><g fill="#461365"><circle cx="611.1" cy="66.6" r="2.4"/><circle cx="608.8" cy="66.4" r="2.2"/><circle cx="610.7" cy="67.6" r="2.3"/><circle cx="608.5" cy="67.4" r="2.6"/></g><g fill="#d1e126"><circle cx="550.9" cy="111.2" r="1.9"/><circle cx="551.4" cy="109.0" r="2.0"/><circle cx="550.1" cy="110.9" r="2.5"/><circle cx="549.1" cy="113.0" r="2.1"/></g><g fill="#424185"><circle cx="621.4" cy="118.5" r="2.3"/><circle cx="623.7" cy="117.9" r="2.1"/><circle cx="624.3" cy="120.1" r="1.9"/></g><g fill="#24888d"><circle cx="567.7" cy="101.9" r="1.9"/><circle cx="566.4" cy="100.0" r="2.5"/></g><g fill="#31678d"><circle cx="586.6" cy="85.3" r="2.3"/><circle cx="586.6" cy="83.0" r="2.0"/><circle cx="586.2" cy="80.7" r="1.9"/></g><g fill="#219989"><circle cx="566.6" cy="62.4" r="2.4"/><circle cx="564.8" cy="61.0" r="2.0"/><circle cx="562.5" cy="61.3" r="2.1"/><circle cx="560.4" cy="60.5" r="2.2"/></g><g fill="#440255"><circle cx="549.9" cy="99.4" r="2.5"/><circle cx="550.6" cy="97.2" r="2.3"/><circle cx="552.9" cy="96.9" r="1.7"/><circle cx="553.3" cy="94.6" r="2.5"/></g><g fill="#30698d"><circle cx="602.6" cy="138.8" r="2.0"/><circle cx="604.0" cy="140.6" r="1.8"/><circle cx="605.1" cy="138.6" r="2.0"/></g><g fill="#433c82"><circle cx="587.7" cy="136.9" r="1.9"/><circle cx="586.0" cy="138.4" r="2.6"/><circle cx="585.5" cy="140.7" r="1.7"/></g><g fill="#c2e026"><circle cx="568.1" cy="64.9" r="1.9"/><circle cx="567.4" cy="67.1" r="1.8"/></g><g fill="#31688d"><circle cx="599.2" cy="82.9" r="2.4"/><circle cx="600.2" cy="80.9" r="1.7"/></g><g fill="#f6e625"><circle cx="564.2" cy="58.1" r="2.2"/><circle cx="565.9" cy="59.7" r="2.0"/><circle cx="568.1" cy="60.5" r="2.5"/><circle cx="567.9" cy="62.8" r="1.9"/></g><g fill="#472978"><circle cx="574.8" cy="110.1" r="2.3"/><circle cx="575.4" cy="107.9" r="2.4"/><circle cx="575.6" cy="110.2" r="2.3"/></g><g fill="#365c8c"><circle cx="556.2" cy="60.0" r="1.9"/><circle cx="557.9" cy="61.5" r="1.9"/></g><g fill="#229e87"><circle cx="592.0" cy="121.7" r="1.6"/><circle cx="592.4" cy="119.4" r="2.0"/><circle cx="593.8" cy="117.6" r="1.9"/></g><g fill="#219b88"><circle cx="563.6" cy="89.3" r="1.6"/><circle cx="561.4" cy="88.7" r="2.1"/><circle cx="559.1" cy="88.7" r="2.1"/><circle cx="556.9" cy="89.1" r="2.3"/></g><g fill="#c4e026"><circle cx="629.3" cy="60.2" r="2.0"/><circle cx="631.6" cy="60.3" r="1.8"/></g><g fill="#21918c"><circle cx="591.8" cy="43.2" r="2.1"/><circle cx="593.8" cy="44.4" r="2.5"/><circle cx="595.7" cy="45.6" r="1.7"/><circle cx="596.8" cy="43.6" r="1.9"/></g><g fill="#34628d"><circle cx="594.3" cy="137.8" r="2.6"/><circle cx="593.6" cy="140.0" r="1.9"/><circle cx="595.8" cy="139.4" r="2.5"/><circle cx="595.1" cy="137.2" r="2.2"/></g><g fill="#44bf70"><circle cx="618.3" cy="86.7" r="2.1"/><circle cx="617.2" cy="84.7" r="1.7"/><circle cx="616.9" cy="82.4" r="2.4"/><circle cx="618.3" cy="80.6" r="1.9"/></g><g fill="#42bd71"><circle cx="587.2" cy="82.1" r="1.9"/><circle cx="587.2" cy="79.8" r="1.8"/><circle cx="585.6" cy="81.4" r="1.8"/></g><g fill="#22a187"><circle cx="574.0" cy="88.8" r="2.2"/><circle cx="576.3" cy="88.9" r="2.3"/></g><g fill="#22a187"><circle cx="549.6" cy="107.6" r="2.2"/><circle cx="547.3" cy="107.7" r="2.1"/><circle cx="545.0" cy="107.8" r="2.4"/></g><g fill="#b5dd2b"><circle cx="621.3" cy="72.7" r="2.4"/><circle cx="619.5" cy="74.2" r="1.8"/><circle cx="620.9" cy="72.3" r="2.3"/></g><g fill="#f8e625"><circle cx="633.3" cy="69.0" r="2.6"/><circle cx="631.0" cy="69.7" r="2.2"/><circle cx="630.5" cy="71.9" r="2.3"/><circle cx="631.4" cy="69.8" r="2.3"/></g><g fill="#365e8d"><circle cx="621.8" cy="74.8" r="2.2"/><circle cx="620.9" cy="77.0" r="2.6"/><circle cx="618.6" cy="77.3" r="1.8"/><circle cx="619.3" cy="79.5" r="1.6"/></g><g fill="#414587"><circle cx="561.8" cy="90.6" r="2.2"/><circle cx="562.0" cy="92.9" r="2.3"/><circle cx="560.4" cy="91.2" r="1.7"/></g><g fill="#306a8d"><circle cx="558.1" cy="71.5" r="2.2"/><circle cx="559.5" cy="73.3" r="2.0"/><circle cx="558.8" cy="71.1" r="1.7"/></g><g fill="#c5e026"><circle cx="612.8" cy="105.3" r="2.0"/><circle cx="615.1" cy="105.4" r="2.6"/><circle cx="615.8" cy="103.2" r="2.0"/></g><g fill="#423f84"><circle cx="611.9" cy="85.5" r="1.6"/><circle cx="611.7" cy="87.8" r="2.0"/><circle cx="609.6" cy="88.8" r="2.3"/></g><g fill="#45bf6f"><circle cx="616.9" cy="137.0" r="1.8"/><circle cx="619.0" cy="136.3" r="2.0"/><circle cx="618.3" cy="134.1" r="1.9"/><circle cx="619.5" cy="136.0" r="2.0"/></g><g fill="#414387"><circle cx="568.2" cy="58.4" r="2.6"/><circle cx="568.4" cy="56.1" r="2.1"/><circle cx="569.4" cy="54.0" r="2.0"/></g><g fill="#3b518a"><circle cx="618.0" cy="83.6" r="2.0"/><circle cx="618.6" cy="85.8" r="2.3"/><circle cx="619.1" cy="88.0" r="2.4"/><circle cx="617.1" cy="87.0" r="2.4"/></g><g fill="#48c06e"><circle cx="574.0" cy="134.5" r="2.4"/><circle cx="575.3" cy="136.4" r="1.9"/><circle cx="577.3" cy="137.4" r="2.6"/><circle cx="576.3" cy="139.5" r="2.2"/></g><g fill="#4ac16c"><circle cx="615.6" cy="62.0" r="2.3"/><circle cx="616.1" cy="64.3" r="1.8"/></g><g fill="#b9de28"><circle cx="570.1" cy="67.5" r="1.7"/><circle cx="568.0" cy="66.5" r="2.5"/><circle cx="566.7" cy="64.6" r="2.2"/><circle cx="568.1" cy="62.7" r="1.6"/></g><g fill="#24898d"><circle cx="605.0" cy="55.1" r="2.4"/><circle cx="602.7" cy="55.5" r="2.4"/></g><g fill="#ebe525"><circle cx="595.6" cy="58.8" r="1.7"/><circle cx="596.6" cy="56.7" r="1.6"/><circle cx="594.5" cy="55.8" r="2.1"/></g><g fill="#41bd72"><circle cx="585.6" cy="132.7" r="2.0"/><circle cx="587.4" cy="131.3" r="2.0"/><circle cx="589.5" cy="132.4" r="2.6"/></g><g fill="#471a6b"><circle cx="569.1" cy="120.9" r="2.2"/><circle cx="567.7" cy="122.8" r="2.4"/></g><g fill="#c0df26"><circle cx="563.5" cy="65.3" r="2.1"/><circle cx="565.4" cy="66.5" r="2.0"/></g><g fill="#b8de29"><circle cx="576.0" cy="81.3" r="2.3"/><circle cx="573.9" cy="80.4" r="1.9"/></g><g fill="#461163"><circle cx="563.6" cy="87.7" r="2.1"/><circle cx="564.9" cy="89.6" r="1.8"/><circle cx="563.4" cy="87.7" r="1.9"/></g><g fill="#423f84"><circle cx="605.3" cy="126.1" r="1.8"/><circle cx="603.6" cy="124.5" r="2.0"/></g><g fill="#45075a"><circle cx="567.4" cy="53.4" r="2.3"/><circle cx="565.3" cy="52.6" r="2.0"/><circle cx="567.5" cy="52.9" r="1.7"/></g><g fill="#dce326"><circle cx="589.5" cy="54.7" r="2.2"/><circle cx="590.7" cy="56.6" r="2.3"/><circle cx="592.4" cy="55.1" r="2.1"/><circle cx="594.3" cy="56.4" r="2.1"/></g><g fill="#dae326"><circle cx="546.8" cy="81.7" r="1.8"/><circle cx="548.9" cy="82.7" r="2.1"/><circle cx="549.7" cy="80.6" r="1.8"/><circle cx="548.7" cy="82.7" r="2.2"/></g><g fill="#27808d"><circle cx="576.8" cy="135.5" r="2.4"/><circle cx="575.4" cy="137.3" r="2.2"/></g><g fill="#450659"><circle cx="579.4" cy="46.0" r="2.3"/><circle cx="577.8" cy="44.4" r="2.1"/><circle cx="580.1" cy="44.5" r="2.5"/></g><g fill="#355f8d"><circle cx="577.9" cy="128.3" r="1.9"/><circle cx="575.9" cy="127.2" r="2.1"/></g><g fill="#39b876"><circle cx="559.5" cy="68.5" r="2.1"/><circle cx="561.4" cy="69.7" r="1.9"/><circle cx="563.5" cy="70.7" r="2.5"/><circle cx="563.2" cy="68.4" r="2.1"/></g><g fill="#4ac16d"><circle cx="568.4" cy="64.9" r="2.2"/><circle cx="567.9" cy="67.1" r="2.3"/><circle cx="570.0" cy="66.4" r="1.8"/><circle cx="569.1" cy="64.3" r="2.3"/></g><g fill="#229d88"><circle cx="567.9" cy="93.9" r="2.2"/><circle cx="566.0" cy="95.3" r="2.0"/><circle cx="563.9" cy="94.4" r="2.6"/></g><g fill="#64ca5e"><circle cx="621.8" cy="73.3" r="1.9"/><circle cx="623.6" cy="74.7" r="2.5"/><circle cx="621.9" cy="76.2" r="2.0"/><circle cx="621.3" cy="74.0" r="1.9"/></g><g fill="#22a386"><circle cx="588.8" cy="100.4" r="2.0"/><circle cx="586.5" cy="100.5" r="2.3"/><circle cx="585.8" cy="102.7" r="2.3"/><circle cx="583.8" cy="101.5" r="1.9"/></g><g fill="#433d83"><circle cx="551.4" cy="102.7" r="2.0"/><circle cx="549.7" cy="104.2" r="2.4"/><circle cx="551.2" cy="102.4" r="2.0"/></g><g fill="#d3e226"><circle cx="618.3" cy="80.7" r="1.8"/><circle cx="617.6" cy="78.6" r="1.8"/></g><g fill="#94d641"><circle cx="610.7" cy="78.2" r="2.2"/><circle cx="609.0" cy="76.6" r="1.9"/><circle cx="607.6" cy="74.8" r="2.2"/><circle cx="605.6" cy="73.6" r="2.1"/></g><g fill="#b2dd2d"><circle cx="564.3" cy="115.0" r="2.5"/><circle cx="566.6" cy="115.1" r="1.8"/><circle cx="565.6" cy="117.2" r="2.1"/></g><g fill="#219a89"><circle cx="588.6" cy="141.0" r="1.8"/><circle cx="588.7" cy="138.7" r="1.7"/></g><g fill="#21958a"><circle cx="568.5" cy="75.3" r="1.8"/><circle cx="570.5" cy="76.3" r="1.7"/><circle cx="569.2" cy="74.4" r="2.3"/></g><g fill="#462b79"><circle cx="626.4" cy="126.7" r="2.0"/><circle cx="625.2" cy="128.7" r="1.7"/><circle cx="626.8" cy="127.1" r="2.0"/></g><g fill="#bade28"><circle cx="561.5" cy="65.4" r="1.9"/><circle cx="559.3" cy="65.9" r="1.9"/><circle cx="561.2" cy="67.2" r="1.7"/><circle cx="563.0" cy="68.6" r="1.7"/></g><g fill="#36b678"><circle cx="567.9" cy="74.6" r="2.3"/><circle cx="568.4" cy="72.3" r="2.1"/><circle cx="567.7" cy="70.1" r="2.5"/><circle cx="568.5" cy="72.3" r="2.2"/></g><g fill="#3cba75"><circle cx="609.7" cy="60.0" r="2.5"/><circle cx="611.9" cy="60.7" r="2.1"/><circle cx="613.8" cy="59.4" r="1.9"/></g><g fill="#f2e625"><circle cx="620.7" cy="87.3" r="2.3"/><circle cx="621.5" cy="89.5" r="2.3"/><circle cx="619.4" cy="88.4" r="2.1"/></g><g fill="#cce126"><circle cx="574.2" cy="62.5" r="2.1"/><circle cx="575.9" cy="64.1" r="2.1"/></g><g fill="#471d6e"><circle cx="609.3" cy="47.5" r="2.5"/><circle cx="608.6" cy="49.7" r="2.5"/></g><g fill="#47196a"><circle cx="587.8" cy="55.5" r="2.2"/><circle cx="585.5" cy="55.3" r="2.3"/><circle cx="587.1" cy="53.6" r="2.0"/></g><g fill="#bade28"><circle cx="621.8" cy="66.1" r="2.6"/><circle cx="623.6" cy="67.6" r="1.7"/><circle cx="625.9" cy="67.8" r="2.0"/><circle cx="627.4" cy="66.0" r="1.9"/></g><g fill="#471f70"><circle cx="622.6" cy="50.3" r="2.4"/><circle cx="624.7" cy="49.5" r="2.3"/></g><g fill="#3a538a"><circle cx="593.9" cy="66.9" r="2.0"/><circle cx="596.2" cy="67.0" r="2.4"/></g><g fill="#27808d"><circle cx="561.2" cy="122.7" r="2.0"/><circle cx="563.4" cy="122.1" r="2.6"/></g><g fill="#24898d"><circle cx="567.8" cy="75.7" r="1.6"/><circle cx="565.8" cy="74.5" r="2.2"/><circle cx="566.7" cy="72.4" r="2.2"/></g><g fill="#57c565"><circle cx="607.7" cy="107.4" r="1.9"/><circle cx="609.9" cy="106.8" r="2.4"/><circle cx="608.6" cy="108.6" r="1.6"/><circle cx="606.4" cy="109.5" r="2.0"/></g><g fill="#33658d"><circle cx="553.8" cy="101.1" r="1.7"/><circle cx="551.6" cy="101.9" r="1.9"/><circle cx="549.3" cy="102.1" r="2.1"/><circle cx="548.7" cy="104.3" r="2.0"/></g><g fill="#21968a"><circle cx="577.9" cy="131.7" r="2.2"/><circle cx="580.1" cy="132.0" r="2.1"/></g><g fill="#365c8c"><circle cx="609.1" cy="126.5" r="2.0"/><circle cx="608.6" cy="124.3" r="2.2"/><circle cx="609.8" cy="122.3" r="2.0"/></g><g fill="#423e84"><circle cx="601.7" cy="57.8" r="2.1"/><circle cx="601.9" cy="55.6" r="1.9"/><circle cx="604.1" cy="54.9" r="2.3"/></g><g fill="#355f8d"><circle cx="546.0" cy="88.3" r="2.5"/><circle cx="547.6" cy="90.0" r="2.3"/><circle cx="546.3" cy="91.9" r="1.7"/></g><g fill="#98d73e"><circle cx="633.4" cy="122.5" r="1.8"/><circle cx="631.1" cy="123.1" r="2.4"/><circle cx="633.4" cy="122.5" r="2.1"/><circle cx="635.3" cy="121.2" r="2.3"/></g><g fill="#375b8c"><circle cx="574.3" cy="107.2" r="2.3"/><circle cx="575.0" cy="109.3" r="2.4"/><circle cx="576.6" cy="111.0" r="2.5"/><circle cx="575.0" cy="109.4" r="1.9"/></g><g fill="#472877"><circle cx="603.1" cy="89.6" r="2.3"/><circle cx="600.9" cy="90.3" r="2.5"/><circle cx="598.6" cy="89.9" r="2.0"/></g><g fill="#472a78"><circle cx="579.5" cy="118.5" r="1.7"/><circle cx="580.8" cy="116.6" r="2.0"/></g><g fill="#32658d"><circle cx="601.9" cy="115.5" r="2.5"/><circle cx="602.5" cy="117.7" r="2.2"/></g><g fill="#32678d"><circle cx="634.2" cy="99.7" r="2.4"/><circle cx="634.6" cy="97.5" r="1.8"/><circle cx="634.7" cy="95.2" r="2.5"/></g><g fill="#32668d"><circle cx="620.3" cy="137.1" r="2.3"/><circle cx="621.9" cy="138.8" r="2.4"/><circle cx="623.7" cy="137.4" r="2.0"/></g><g fill="#22a386"><circle cx="590.1" cy="66.5" r="2.6"/><circle cx="590.0" cy="64.2" r="2.5"/></g><g fill="#f2e625"><circle cx="557.3" cy="81.7" r="2.4"/><circle cx="556.8" cy="79.4" r="2.4"/></g><g fill="#433b82"><circle cx="586.3" cy="45.8" r="2.2"/><circle cx="584.9" cy="47.6" r="2.5"/><circle cx="583.9" cy="45.5" r="2.2"/></g><g fill="#d5e226"><circle cx="613.9" cy="130.8" r="1.7"/><circle cx="616.0" cy="129.9" r="2.2"/><circle cx="614.7" cy="127.9" r="2.4"/><circle cx="617.0" cy="128.0" r="2.5"/></g><g fill="#3e4b89"><circle cx="605.9" cy="83.5" r="2.4"/><circle cx="603.7" cy="83.1" r="1.7"/></g><g fill="#b6de2a"><circle cx="624.1" cy="67.5" r="2.2"/><circle cx="624.9" cy="65.3" r="1.9"/><circle cx="626.4" cy="63.7" r="2.5"/><circle cx="624.2" cy="63.2" r="1.6"/></g><g fill="#58c665"><circle cx="618.5" cy="130.7" r="2.2"/><circle cx="620.8" cy="130.1" r="1.7"/><circle cx="620.0" cy="127.9" r="2.2"/><circle cx="617.7" cy="128.1" r="2.0"/></g><g fill="#f5e625"><circle cx="580.0" cy="117.0" r="2.0"/><circle cx="579.9" cy="114.7" r="2.4"/><circle cx="578.3" cy="116.4" r="2.4"/><circle cx="576.5" cy="117.9" r="1.8"/></g><g fill="#440457"><circle cx="615.3" cy="119.0" r="1.7"/><circle cx="613.1" cy="118.7" r="2.1"/><circle cx="612.8" cy="120.9" r="1.9"/></g><g fill="#22a685"><circle cx="609.4" cy="134.6" r="2.6"/><circle cx="609.4" cy="132.3" r="2.1"/><circle cx="607.1" cy="132.4" r="2.2"/></g><g fill="#b8de29"><circle cx="551.4" cy="97.9" r="2.1"/><circle cx="551.3" cy="100.2" r="2.2"/><circle cx="552.1" cy="98.0" r="2.2"/></g><g fill="#229e88"><circle cx="591.1" cy="123.8" r="2.4"/><circle cx="590.6" cy="126.0" r="2.4"/><circle cx="592.8" cy="125.3" r="2.2"/><circle cx="595.1" cy="125.5" r="1.8"/></g><g fill="#70ce57"><circle cx="585.9" cy="135.8" r="1.9"/><circle cx="585.4" cy="138.1" r="2.0"/></g><g fill="#dfe325"><circle cx="584.5" cy="125.2" r="2.3"/><circle cx="583.5" cy="127.2" r="2.3"/><circle cx="584.6" cy="125.2" r="2.4"/></g><g fill="#87d449"><circle cx="611.8" cy="123.7" r="2.2"/><circle cx="613.3" cy="121.9" r="2.1"/></g><g fill="#7bd150"><circle cx="577.2" cy="90.4" r="1.9"/><circle cx="577.3" cy="88.1" r="2.4"/><circle cx="579.5" cy="88.7" r="1.8"/></g><g fill="#24898d"><circle cx="607.2" cy="45.5" r="1.7"/><circle cx="609.3" cy="44.7" r="2.0"/></g><g fill="#38588b"><circle cx="587.6" cy="75.7" r="2.0"/><circle cx="585.7" cy="77.0" r="2.0"/><circle cx="583.8" cy="78.3" r="2.2"/><circle cx="585.7" cy="79.6" r="2.2"/></g><g fill="#fae725"><circle cx="564.1" cy="51.2" r="2.3"/><circle cx="564.2" cy="53.5" r="2.1"/></g><g fill="#c6e026"><circle cx="570.6" cy="96.6" r="2.4"/><circle cx="572.9" cy="96.9" r="1.9"/></g><g fill="#462e7a"><circle cx="617.7" cy="68.8" r="2.4"/><circle cx="620.0" cy="68.6" r="2.6"/><circle cx="620.4" cy="70.8" r="2.0"/></g><g fill="#238b8c"><circle cx="611.7" cy="135.3" r="1.9"/><circle cx="614.0" cy="134.7" r="2.1"/></g><g fill="#21968a"><circle cx="615.1" cy="138.2" r="2.1"/><circle cx="615.6" cy="135.9" r="1.9"/><circle cx="613.3" cy="135.7" r="2.1"/></g><g fill="#471d6f"><circle cx="583.9" cy="132.4" r="2.0"/><circle cx="585.9" cy="133.5" r="2.5"/></g><g fill="#40bc72"><circle cx="640.7" cy="87.5" r="2.3"/><circle cx="639.8" cy="85.3" r="1.9"/><circle cx="638.5" cy="83.5" r="2.3"/><circle cx="636.2" cy="84.0" r="2.5"/></g><g fill="#35608d"><circle cx="598.3" cy="100.3" r="2.1"/><circle cx="596.1" cy="99.9" r="1.9"/></g><g fill="#f7e625"><circle cx="618.1" cy="64.8" r="1.8"/><circle cx="616.1" cy="63.6" r="1.8"/><circle cx="614.2" cy="64.9" r="1.9"/><circle cx="613.6" cy="67.1" r="1.6"/></g><g fill="#21958b"><circle cx="612.4" cy="125.4" r="2.0"/><circle cx="611.5" cy="123.3" r="2.3"/><circle cx="611.1" cy="121.0" r="2.0"/></g><g fill="#35608d"><circle cx="618.6" cy="109.2" r="1.9"/><circle cx="620.6" cy="108.0" r="2.1"/></g><g fill="#31698d"><circle cx="565.5" cy="106.2" r="1.6"/><circle cx="565.0" cy="108.5" r="2.4"/><circle cx="563.1" cy="107.3" r="2.4"/><circle cx="565.3" cy="106.9" r="1.8"/></g><g fill="#404587"><circle cx="632.2" cy="108.5" r="2.5"/><circle cx="629.9" cy="108.4" r="2.3"/><circle cx="630.3" cy="110.7" r="1.8"/></g><g fill="#219a89"><circle cx="637.9" cy="78.6" r="2.5"/><circle cx="638.0" cy="76.3" r="2.0"/><circle cx="637.9" cy="74.0" r="2.3"/></g><g fill="#76d053"><circle cx="560.6" cy="80.8" r="2.0"/><circle cx="559.7" cy="78.7" r="1.8"/><circle cx="561.7" cy="77.6" r="2.3"/></g><g fill="#404687"><circle cx="558.2" cy="119.8" r="2.6"/><circle cx="559.0" cy="117.7" r="2.0"/><circle cx="559.3" cy="115.4" r="2.0"/><circle cx="558.2" cy="117.4" r="2.0"/></g><g fill="#d4e226"><circle cx="575.3" cy="99.4" r="2.4"/><circle cx="573.3" cy="98.2" r="1.9"/><circle cx="575.0" cy="96.6" r="2.5"/></g><g fill="#471769"><circle cx="617.5" cy="139.9" r="2.4"/><circle cx="616.8" cy="142.1" r="1.8"/><circle cx="614.6" cy="141.5" r="1.8"/></g><g fill="#3dba74"><circle cx="552.0" cy="82.2" r="2.4"/><circle cx="549.7" cy="81.8" r="1.6"/></g><g fill="#dae326"><circle cx="598.0" cy="123.0" r="1.7"/><circle cx="600.1" cy="122.0" r="2.1"/></g><g fill="#3e4b89"><circle cx="634.4" cy="116.9" r="1.9"/><circle cx="636.7" cy="117.2" r="1.7"/><circle cx="634.4" cy="117.3" r="2.0"/><circle cx="632.2" cy="116.7" r="2.5"/></g><g fill="#6fcd58"><circle cx="578.8" cy="112.5" r="2.1"/><circle cx="578.5" cy="110.3" r="1.8"/></g><g fill="#3d4c89"><circle cx="587.3" cy="60.4" r="2.0"/><circle cx="585.2" cy="59.5" r="1.8"/></g><g fill="#482676"><circle cx="563.4" cy="113.7" r="2.3"/><circle cx="563.5" cy="116.0" r="2.5"/><circle cx="561.2" cy="116.1" r="2.3"/></g><g fill="#287e8e"><circle cx="623.8" cy="125.8" r="1.6"/><circle cx="622.7" cy="123.8" r="1.8"/></g><g fill="#26828d"><circle cx="569.6" cy="133.4" r="2.5"/><circle cx="567.5" cy="134.3" r="2.2"/><circle cx="569.2" cy="135.8" r="2.4"/></g><g fill="#461365"><circle cx="584.0" cy="47.4" r="2.1"/><circle cx="585.5" cy="45.7" r="1.8"/></g><g fill="#cde126"><circle cx="567.4" cy="71.6" r="2.4"/><circle cx="566.5" cy="69.5" r="2.2"/><circle cx="566.5" cy="67.2" r="2.1"/></g><g fill="#22a685"><circle cx="590.6" cy="102.1" r="1.9"/><circle cx="589.6" cy="100.0" r="2.0"/><circle cx="591.1" cy="101.7" r="1.8"/></g><g fill="#21918c"><circle cx="636.2" cy="121.2" r="2.1"/><circle cx="638.5" cy="121.3" r="1.7"/><circle cx="636.9" cy="123.0" r="2.3"/></g><g fill="#2e708e"><circle cx="563.4" cy="120.2" r="2.2"/><circle cx="564.8" cy="118.4" r="2.5"/><circle cx="563.7" cy="116.3" r="2.5"/></g><g fill="#26848d"><circle cx="631.0" cy="93.7" r="2.2"/><circle cx="629.7" cy="91.8" r="1.9"/><circle cx="629.6" cy="94.1" r="1.6"/><circle cx="627.7" cy="92.8" r="2.3"/></g><g fill="#33b47a"><circle cx="567.9" cy="118.9" r="2.3"/><circle cx="567.4" cy="116.7" r="1.9"/><circle cx="569.6" cy="116.2" r="2.0"/><circle cx="568.1" cy="114.4" r="2.6"/></g><g fill="#414286"><circle cx="561.5" cy="55.6" r="2.1"/><circle cx="559.2" cy="56.0" r="2.0"/></g><g fill="#eae525"><circle cx="629.3" cy="128.5" r="1.7"/><circle cx="627.4" cy="129.9" r="1.7"/></g><g fill="#37b677"><circle cx="593.3" cy="85.9" r="2.0"/><circle cx="595.0" cy="87.4" r="2.0"/></g><g fill="#3a548b"><circle cx="622.2" cy="49.9" r="1.9"/><circle cx="620.0" cy="49.4" r="2.5"/></g><g fill="#461163"><circle cx="638.2" cy="88.0" r="1.9"/><circle cx="638.7" cy="85.8" r="2.3"/><circle cx="636.8" cy="87.0" r="1.6"/><circle cx="637.0" cy="84.7" r="1.9"/></g><g fill="#38598c"><circle cx="618.1" cy="134.6" r="2.1"/><circle cx="616.7" cy="136.5" r="1.8"/></g><g fill="#355f8d"><circle cx="631.7" cy="125.0" r="1.6"/><circle cx="629.8" cy="123.8" r="2.3"/></g><g fill="#31b27b"><circle cx="609.6" cy="76.1" r="1.9"/><circle cx="609.0" cy="73.9" r="2.3"/></g><g fill="#53c467"><circle cx="553.0" cy="63.4" r="2.4"/><circle cx="550.7" cy="63.7" r="2.1"/></g><g fill="#21968a"><circle cx="558.8" cy="89.2" r="2.4"/><circle cx="559.8" cy="87.1" r="2.5"/><circle cx="557.5" cy="87.7" r="1.7"/><circle cx="559.2" cy="86.1" r="2.4"/></g><g fill="#228d8c"><circle cx="589.3" cy="137.7" r="2.5"/><circle cx="587.8" cy="139.4" r="1.8"/><circle cx="586.6" cy="137.5" r="1.6"/><circle cx="585.2" cy="139.3" r="2.2"/></g><g fill="#b1dc2e"><circle cx="574.0" cy="47.7" r="2.0"/><circle cx="574.5" cy="45.4" r="2.3"/><circle cx="572.6" cy="44.1" r="1.9"/></g><g fill="#482575"><circle cx="617.2" cy="127.7" r="1.9"/><circle cx="616.0" cy="125.7" r="2.5"/><circle cx="616.3" cy="128.0" r="2.6"/><circle cx="615.8" cy="130.3" r="2.3"/></g><g fill="#3a538a"><circle cx="589.7" cy="137.2" r="2.2"/><circle cx="591.9" cy="138.0" r="1.7"/><circle cx="589.7" cy="137.5" r="1.9"/><circle cx="591.8" cy="138.3" r="2.4"/></g><g fill="#3a538a"><circle cx="632.9" cy="79.7" r="2.5"/><circle cx="630.8" cy="78.8" r="1.9"/></g><g fill="#440255"><circle cx="570.0" cy="79.2" r="2.4"/><circle cx="570.1" cy="81.5" r="2.2"/><circle cx="572.3" cy="82.0" r="2.4"/></g><g fill="#22a087"><circle cx="614.9" cy="86.1" r="2.6"/><circle cx="617.2" cy="86.2" r="1.8"/><circle cx="616.8" cy="83.9" r="1.8"/></g><g fill="#25868d"><circle cx="593.4" cy="48.6" r="2.0"/><circle cx="595.5" cy="47.6" r="2.5"/><circle cx="597.1" cy="45.9" r="1.6"/></g><g fill="#b9de28"><circle cx="599.2" cy="57.6" r="1.6"/><circle cx="601.2" cy="58.7" r="2.1"/><circle cx="599.5" cy="57.3" r="2.2"/></g><g fill="#2e6e8e"><circle cx="554.8" cy="116.3" r="1.7"/><circle cx="553.5" cy="118.2" r="1.8"/><circle cx="554.5" cy="116.1" r="1.9"/><circle cx="553.7" cy="113.9" r="1.9"/></g><g fill="#94d640"><circle cx="593.9" cy="122.8" r="2.0"/><circle cx="593.3" cy="120.6" r="2.3"/></g><g fill="#37b678"><circle cx="608.8" cy="127.5" r="1.8"/><circle cx="610.3" cy="125.8" r="2.4"/></g><g fill="#461567"><circle cx="561.2" cy="84.6" r="2.2"/><circle cx="563.4" cy="84.2" r="2.5"/><circle cx="565.7" cy="84.0" r="2.1"/></g><g fill="#34b479"><circle cx="608.8" cy="126.5" r="2.6"/><circle cx="607.2" cy="124.9" r="1.7"/></g><g fill="#3d4e89"><circle cx="610.7" cy="54.3" r="2.6"/><circle cx="612.4" cy="52.8" r="2.4"/><circle cx="613.6" cy="50.8" r="1.6"/></g><g fill="#471b6d"><circle cx="573.1" cy="58.2" r="2.1"/><circle cx="572.5" cy="56.0" r="2.2"/><circle cx="570.2" cy="56.0" r="1.9"/></g><g fill="#440356"><circle cx="588.2" cy="73.2" r="2.5"/><circle cx="589.2" cy="75.2" r="2.0"/><circle cx="587.3" cy="74.0" r="1.9"/></g><g fill="#229d88"><circle cx="622.0" cy="76.3" r="2.1"/><circle cx="623.5" cy="78.0" r="2.3"/><circle cx="625.7" cy="77.6" r="2.6"/><circle cx="628.0" cy="77.7" r="2.1"/></g><g fill="#472777"><circle cx="610.8" cy="85.3" r="2.1"/><circle cx="610.2" cy="83.1" r="2.3"/><circle cx="611.9" cy="84.7" r="2.0"/><circle cx="611.5" cy="82.4" r="1.7"/></g><g fill="#21958b"><circle cx="626.2" cy="77.9" r="1.6"/><circle cx="627.0" cy="80.0" r="2.0"/></g><g fill="#27808d"><circle cx="557.3" cy="86.7" r="1.8"/><circle cx="559.5" cy="87.1" r="1.8"/><circle cx="560.8" cy="85.2" r="1.9"/></g><g fill="#f8e625"><circle cx="576.1" cy="125.2" r="2.0"/><circle cx="577.1" cy="127.3" r="2.1"/></g><g fill="#22a585"><circle cx="614.5" cy="114.2" r="1.9"/><circle cx="616.5" cy="115.3" r="2.5"/><circle cx="618.1" cy="117.0" r="2.4"/></g><g fill="#24898d"><circle cx="634.2" cy="73.7" r="1.7"/><circle cx="634.0" cy="76.0" r="2.6"/><circle cx="634.0" cy="78.3" r="2.4"/></g><g fill="#ede525"><circle cx="573.4" cy="56.3" r="2.2"/><circle cx="573.3" cy="58.6" r="2.5"/><circle cx="573.0" cy="56.4" r="2.5"/><circle cx="573.3" cy="54.1" r="2.0"/></g><g fill="#228f8c"><circle cx="584.1" cy="104.4" r="2.3"/><circle cx="586.2" cy="103.6" r="1.8"/></g><g fill="#472777"><circle cx="607.6" cy="66.0" r="2.1"/><circle cx="608.8" cy="64.0" r="2.1"/></g><g fill="#35608d"><circle cx="600.6" cy="93.7" r="2.0"/><circle cx="602.5" cy="92.3" r="1.8"/><circle cx="603.9" cy="94.1" r="2.4"/><circle cx="606.0" cy="93.0" r="1.9"/></g><g fill="#ece525"><circle cx="566.8" cy="129.4" r="1.6"/><circle cx="565.1" cy="130.9" r="1.9"/></g><g fill="#27808d"><circle cx="626.1" cy="113.3" r="2.4"/><circle cx="624.3" cy="114.7" r="2.1"/><circle cx="622.6" cy="113.1" r="1.7"/><circle cx="623.3" cy="115.3" r="2.1"/></g><g fill="#41bd72"><circle cx="580.7" cy="130.0" r="1.9"/><circle cx="582.0" cy="131.9" r="1.6"/><circle cx="582.3" cy="129.7" r="1.9"/><circle cx="583.8" cy="127.9" r="2.5"/></g><g fill="#c9e026"><circle cx="605.4" cy="128.6" r="2.0"/><circle cx="606.9" cy="126.9" r="1.7"/><circle cx="605.4" cy="128.6" r="2.5"/></g><g fill="#238a8d"><circle cx="632.2" cy="73.2" r="2.2"/><circle cx="633.3" cy="71.2" r="2.2"/><circle cx="634.9" cy="69.5" r="2.6"/></g><g fill="#3e4a88"><circle cx="603.4" cy="83.0" r="2.2"/><circle cx="602.6" cy="85.1" r="2.3"/><circle cx="603.0" cy="87.4" r="2.2"/><circle cx="605.3" cy="87.6" r="2.5"/></g><g fill="#3e4b89"><circle cx="578.3" cy="67.6" r="2.0"/><circle cx="576.0" cy="68.0" r="1.9"/></g><g fill="#3bb975"><circle cx="556.8" cy="65.3" r="2.0"/><circle cx="559.0" cy="64.6" r="2.3"/></g><g fill="#21968a"><circle cx="597.7" cy="44.7" r="1.8"/><circle cx="598.5" cy="46.8" r="2.5"/></g><g fill="#b6de2b"><circle cx="546.1" cy="94.6" r="2.4"/><circle cx="548.3" cy="95.2" r="1.7"/><circle cx="548.7" cy="92.9" r="1.9"/></g><g fill="#3d4d89"><circle cx="623.6" cy="81.3" r="2.2"/><circle cx="622.8" cy="83.5" r="1.8"/><circle cx="620.6" cy="83.9" r="2.0"/><circle cx="618.6" cy="85.2" r="2.6"/></g><g fill="#50c369"><circle cx="628.2" cy="57.2" r="1.8"/><circle cx="626.8" cy="59.0" r="1.7"/><circle cx="625.1" cy="57.4" r="1.7"/></g><g fill="#34608d"><circle cx="548.7" cy="104.8" r="1.6"/><circle cx="550.7" cy="105.9" r="2.5"/></g><g fill="#21938b"><circle cx="582.0" cy="108.4" r="2.4"/><circle cx="582.9" cy="110.6" r="2.5"/><circle cx="584.8" cy="111.9" r="2.2"/></g><g fill="#e9e425"><circle cx="590.0" cy="69.7" r="2.3"/><circle cx="591.9" cy="71.1" r="2.5"/><circle cx="593.0" cy="73.1" r="1.9"/></g><g fill="#450659"><circle cx="565.8" cy="108.6" r="2.0"/><circle cx="565.7" cy="110.9" r="2.3"/></g><g fill="#22a087"><circle cx="629.1" cy="72.8" r="2.4"/><circle cx="631.4" cy="73.3" r="2.3"/></g><g fill="#4cc26c"><circle cx="608.1" cy="113.4" r="2.2"/><circle cx="610.2" cy="114.5" r="1.9"/></g><g fill="#22a485"><circle cx="617.3" cy="135.6" r="1.6"/><circle cx="615.1" cy="134.9" r="1.7"/><circle cx="617.1" cy="136.0" r="2.0"/></g><g fill="#21958b"><circle cx="561.8" cy="75.1" r="2.6"/><circle cx="563.1" cy="73.2" r="1.7"/></g><g fill="#21908c"><circle cx="629.1" cy="74.9" r="2.4"/><circle cx="631.2" cy="75.8" r="1.9"/></g><g fill="#472777"><circle cx="607.6" cy="129.5" r="1.8"/><circle cx="609.9" cy="129.6" r="2.0"/><circle cx="608.0" cy="130.8" r="2.4"/></g><g fill="#24888d"><circle cx="633.7" cy="99.0" r="2.1"/><circle cx="635.7" cy="100.1" r="2.5"/><circle cx="637.8" cy="101.2" r="1.6"/></g><g fill="#46c06f"><circle cx="577.1" cy="65.6" r="2.0"/><circle cx="578.8" cy="64.1" r="2.5"/><circle cx="576.8" cy="63.1" r="2.3"/><circle cx="578.9" cy="62.3" r="2.6"/></g><g fill="#40bc72"><circle cx="586.0" cy="49.8" r="2.2"/><circle cx="586.5" cy="52.0" r="1.7"/></g><g fill="#365e8d"><circle cx="577.2" cy="58.2" r="1.8"/><circle cx="576.3" cy="56.1" r="2.2"/></g><g fill="#38b777"><circle cx="596.7" cy="116.6" r="2.5"/><circle cx="596.1" cy="118.8" r="2.2"/></g><g fill="#287f8d"><circle cx="554.7" cy="85.6" r="2.6"/><circle cx="555.3" cy="87.8" r="1.6"/><circle cx="556.6" cy="89.7" r="1.9"/><circle cx="557.0" cy="87.4" r="1.9"/></g><g fill="#21948b"><circle cx="630.8" cy="68.3" r="2.2"/><circle cx="632.3" cy="66.5" r="1.9"/><circle cx="634.4" cy="67.4" r="2.5"/><circle cx="632.4" cy="66.2" r="2.4"/></g><g fill="#e0e325"><circle cx="619.9" cy="79.1" r="1.8"/><circle cx="621.4" cy="80.9" r="1.9"/><circle cx="621.0" cy="78.6" r="1.9"/></g><g fill="#7dd24f"><circle cx="625.4" cy="62.4" r="2.3"/><circle cx="623.1" cy="61.9" r="2.4"/><circle cx="621.8" cy="63.8" r="2.2"/><circle cx="619.5" cy="63.6" r="2.4"/></g><g fill="#21938b"><circle cx="625.2" cy="130.9" r="2.3"/><circle cx="626.2" cy="132.9" r="2.0"/><circle cx="628.5" cy="133.0" r="2.4"/><circle cx="628.1" cy="130.7" r="2.4"/></g><g fill="#cee126"><circle cx="597.3" cy="56.5" r="2.2"/><circle cx="595.4" cy="57.8" r="1.8"/><circle cx="593.1" cy="58.1" r="2.5"/><circle cx="591.5" cy="56.4" r="1.6"/></g><g fill="#3c4e89"><circle cx="569.2" cy="77.4" r="1.8"/><circle cx="567.0" cy="78.0" r="2.3"/><circle cx="565.3" cy="79.5" r="1.9"/><circle cx="564.4" cy="81.6" r="2.2"/></g><g fill="#30b17c"><circle cx="629.6" cy="84.0" r="2.0"/><circle cx="630.4" cy="81.9" r="1.7"/><circle cx="632.2" cy="80.4" r="2.0"/><circle cx="630.5" cy="81.9" r="1.6"/></g>
<path d="M587.5,40.8 C593.5,40.9 601.5,41.2 608.0,42.5 C614.5,43.8 621.4,44.4 626.4,48.6 C631.4,52.9 635.2,61.5 638.0,68.0 C640.8,74.5 641.9,81.0 642.9,87.5 C643.9,94.0 644.7,100.8 643.9,107.0 C643.1,113.2 640.9,119.2 638.0,124.4 C635.1,129.6 631.2,134.4 626.4,138.0 C621.5,141.6 614.7,144.7 608.9,145.8 C603.1,147.0 597.6,146.2 591.4,144.9 C585.2,143.6 577.8,141.7 571.9,138.0 C566.0,134.3 560.5,127.7 556.3,122.5 C552.1,117.3 548.9,112.8 546.6,107.0 C544.3,101.2 542.4,94.3 542.7,87.5 C543.0,80.7 545.7,72.5 548.6,66.0 C551.5,59.5 556.3,52.6 560.2,48.6 C564.1,44.6 567.4,43.1 571.9,41.8 C576.4,40.5 581.5,40.7 587.5,40.8 Z" fill="none" stroke="#000" stroke-width="4.2" stroke-dasharray="9 3.6"/>
<path d="M535,135 H537.6 Q538.3,140 537.6,145 H535 Z" fill="#000"/>
<g fill="#4a56a0"><circle cx="536.5" cy="148.5" r="2.6"/><circle cx="539" cy="150.8" r="1.9"/><rect x="535" y="146" width="2" height="6.5"/></g>
</g>
<rect x="604" y="148.8" width="44.8" height="2" fill="#000"/>
<defs><linearGradient id="vir" x1="0" x2="1" y1="0" y2="0"><stop offset="0.00" stop-color="#440154"/><stop offset="0.10" stop-color="#482475"/><stop offset="0.20" stop-color="#414487"/><stop offset="0.30" stop-color="#355f8d"/><stop offset="0.40" stop-color="#2a788e"/><stop offset="0.50" stop-color="#21918c"/><stop offset="0.60" stop-color="#22a884"/><stop offset="0.70" stop-color="#44bf70"/><stop offset="0.80" stop-color="#7ad151"/><stop offset="0.90" stop-color="#bddf26"/><stop offset="1.00" stop-color="#fde725"/></linearGradient></defs>
<rect x="412.6" y="159.8" width="238.8" height="11" fill="url(#vir)" stroke="#000" stroke-width="1.8"/>
<line x1="413" y1="171" x2="413" y2="174.5" stroke="#222" stroke-width="1"/>
<text x="413.00" y="181.60" font-size="9" text-anchor="middle" fill="#222" stroke="#222" stroke-width="0.12" >0</text>
<line x1="472.8" y1="171" x2="472.8" y2="174.5" stroke="#222" stroke-width="1"/>
<text x="472.80" y="181.60" font-size="9" text-anchor="middle" fill="#222" stroke="#222" stroke-width="0.12" >2</text>
<line x1="532.6" y1="171" x2="532.6" y2="174.5" stroke="#222" stroke-width="1"/>
<text x="532.60" y="181.60" font-size="9" text-anchor="middle" fill="#222" stroke="#222" stroke-width="0.12" >3</text>
<line x1="592.3" y1="171" x2="592.3" y2="174.5" stroke="#222" stroke-width="1"/>
<text x="592.30" y="181.60" font-size="9" text-anchor="middle" fill="#222" stroke="#222" stroke-width="0.12" >4</text>
<line x1="651.6" y1="171" x2="651.6" y2="174.5" stroke="#222" stroke-width="1"/>
<text x="651.60" y="181.60" font-size="9" text-anchor="middle" fill="#222" stroke="#222" stroke-width="0.12" >5</text>
<text x="530.40" y="192.40" font-size="9" font-weight="bold" text-anchor="middle" fill="#222" stroke="#222" stroke-width="0.22" textLength="123.4" lengthAdjust="spacingAndGlyphs" >Diffusion Coefficient (µm²/s)</text>
<text x="0.50" y="216.90" font-size="14.2" >c</text>
<line x1="39.00" y1="242.30" x2="39.00" y2="383.00" stroke="#1a1a1a" stroke-width="1.2"/>
<line x1="38.50" y1="377.70" x2="242.80" y2="377.70" stroke="#1a1a1a" stroke-width="1.2"/>
<line x1="33.40" y1="377.70" x2="39.00" y2="377.70" stroke="#1a1a1a" stroke-width="1.2"/>
<text x="30.60" y="381.30" font-size="9.1" font-weight="bold" text-anchor="end" fill="#1a1a1a" stroke="#1a1a1a" stroke-width="0.22" >80</text>
<line x1="33.40" y1="350.62" x2="39.00" y2="350.62" stroke="#1a1a1a" stroke-width="1.2"/>
<text x="30.60" y="354.22" font-size="9.1" font-weight="bold" text-anchor="end" fill="#1a1a1a" stroke="#1a1a1a" stroke-width="0.22" >85</text>
<line x1="33.40" y1="323.54" x2="39.00" y2="323.54" stroke="#1a1a1a" stroke-width="1.2"/>
<text x="30.60" y="327.14" font-size="9.1" font-weight="bold" text-anchor="end" fill="#1a1a1a" stroke="#1a1a1a" stroke-width="0.22" >90</text>
<line x1="33.40" y1="296.46" x2="39.00" y2="296.46" stroke="#1a1a1a" stroke-width="1.2"/>
<text x="30.60" y="300.06" font-size="9.1" font-weight="bold" text-anchor="end" fill="#1a1a1a" stroke="#1a1a1a" stroke-width="0.22" >95</text>
<line x1="33.40" y1="269.38" x2="39.00" y2="269.38" stroke="#1a1a1a" stroke-width="1.2"/>
<text x="30.60" y="272.98" font-size="9.1" font-weight="bold" text-anchor="end" fill="#1a1a1a" stroke="#1a1a1a" stroke-width="0.22" >100</text>
<line x1="33.40" y1="242.30" x2="39.00" y2="242.30" stroke="#1a1a1a" stroke-width="1.2"/>
<text x="30.60" y="245.90" font-size="9.1" font-weight="bold" text-anchor="end" fill="#1a1a1a" stroke="#1a1a1a" stroke-width="0.22" >105</text>
<line x1="39.20" y1="377.70" x2="39.20" y2="383.00" stroke="#1a1a1a" stroke-width="1.2"/>
<line x1="47.93" y1="377.70" x2="47.93" y2="380.90" stroke="#1a1a1a" stroke-width="0.9"/>
<line x1="53.04" y1="377.70" x2="53.04" y2="380.90" stroke="#1a1a1a" stroke-width="0.9"/>
<line x1="56.66" y1="377.70" x2="56.66" y2="380.90" stroke="#1a1a1a" stroke-width="0.9"/>
<line x1="59.47" y1="377.70" x2="59.47" y2="380.90" stroke="#1a1a1a" stroke-width="0.9"/>
<line x1="61.77" y1="377.70" x2="61.77" y2="380.90" stroke="#1a1a1a" stroke-width="0.9"/>
<line x1="63.71" y1="377.70" x2="63.71" y2="380.90" stroke="#1a1a1a" stroke-width="0.9"/>
<line x1="65.39" y1="377.70" x2="65.39" y2="380.90" stroke="#1a1a1a" stroke-width="0.9"/>
<line x1="66.87" y1="377.70" x2="66.87" y2="380.90" stroke="#1a1a1a" stroke-width="0.9"/>
<line x1="68.20" y1="377.70" x2="68.20" y2="383.00" stroke="#1a1a1a" stroke-width="1.2"/>
<line x1="76.93" y1="377.70" x2="76.93" y2="380.90" stroke="#1a1a1a" stroke-width="0.9"/>
<line x1="82.04" y1="377.70" x2="82.04" y2="380.90" stroke="#1a1a1a" stroke-width="0.9"/>
<line x1="85.66" y1="377.70" x2="85.66" y2="380.90" stroke="#1a1a1a" stroke-width="0.9"/>
<line x1="88.47" y1="377.70" x2="88.47" y2="380.90" stroke="#1a1a1a" stroke-width="0.9"/>
<line x1="90.77" y1="377.70" x2="90.77" y2="380.90" stroke="#1a1a1a" stroke-width="0.9"/>
<line x1="92.71" y1="377.70" x2="92.71" y2="380.90" stroke="#1a1a1a" stroke-width="0.9"/>
<line x1="94.39" y1="377.70" x2="94.39" y2="380.90" stroke="#1a1a1a" stroke-width="0.9"/>
<line x1="95.87" y1="377.70" x2="95.87" y2="380.90" stroke="#1a1a1a" stroke-width="0.9"/>
<line x1="97.20" y1="377.70" x2="97.20" y2="383.00" stroke="#1a1a1a" stroke-width="1.2"/>
<line x1="105.93" y1="377.70" x2="105.93" y2="380.90" stroke="#1a1a1a" stroke-width="0.9"/>
<line x1="111.04" y1="377.70" x2="111.04" y2="380.90" stroke="#1a1a1a" stroke-width="0.9"/>
<line x1="114.66" y1="377.70" x2="114.66" y2="380.90" stroke="#1a1a1a" stroke-width="0.9"/>
<line x1="117.47" y1="377.70" x2="117.47" y2="380.90" stroke="#1a1a1a" stroke-width="0.9"/>
<line x1="119.77" y1="377.70" x2="119.77" y2="380.90" stroke="#1a1a1a" stroke-width="0.9"/>
<line x1="121.71" y1="377.70" x2="121.71" y2="380.90" stroke="#1a1a1a" stroke-width="0.9"/>
<line x1="123.39" y1="377.70" x2="123.39" y2="380.90" stroke="#1a1a1a" stroke-width="0.9"/>
<line x1="124.87" y1="377.70" x2="124.87" y2="380.90" stroke="#1a1a1a" stroke-width="0.9"/>
<line x1="126.20" y1="377.70" x2="126.20" y2="383.00" stroke="#1a1a1a" stroke-width="1.2"/>
<line x1="134.93" y1="377.70" x2="134.93" y2="380.90" stroke="#1a1a1a" stroke-width="0.9"/>
<line x1="140.04" y1="377.70" x2="140.04" y2="380.90" stroke="#1a1a1a" stroke-width="0.9"/>
<line x1="143.66" y1="377.70" x2="143.66" y2="380.90" stroke="#1a1a1a" stroke-width="0.9"/>
<line x1="146.47" y1="377.70" x2="146.47" y2="380.90" stroke="#1a1a1a" stroke-width="0.9"/>
<line x1="148.77" y1="377.70" x2="148.77" y2="380.90" stroke="#1a1a1a" stroke-width="0.9"/>
<line x1="150.71" y1="377.70" x2="150.71" y2="380.90" stroke="#1a1a1a" stroke-width="0.9"/>
<line x1="152.39" y1="377.70" x2="152.39" y2="380.90" stroke="#1a1a1a" stroke-width="0.9"/>
<line x1="153.87" y1="377.70" x2="153.87" y2="380.90" stroke="#1a1a1a" stroke-width="0.9"/>
<line x1="155.20" y1="377.70" x2="155.20" y2="383.00" stroke="#1a1a1a" stroke-width="1.2"/>
<line x1="163.93" y1="377.70" x2="163.93" y2="380.90" stroke="#1a1a1a" stroke-width="0.9"/>
<line x1="169.04" y1="377.70" x2="169.04" y2="380.90" stroke="#1a1a1a" stroke-width="0.9"/>
<line x1="172.66" y1="377.70" x2="172.66" y2="380.90" stroke="#1a1a1a" stroke-width="0.9"/>
<line x1="175.47" y1="377.70" x2="175.47" y2="380.90" stroke="#1a1a1a" stroke-width="0.9"/>
<line x1="177.77" y1="377.70" x2="177.77" y2="380.90" stroke="#1a1a1a" stroke-width="0.9"/>
<line x1="179.71" y1="377.70" x2="179.71" y2="380.90" stroke="#1a1a1a" stroke-width="0.9"/>
<line x1="181.39" y1="377.70" x2="181.39" y2="380.90" stroke="#1a1a1a" stroke-width="0.9"/>
<line x1="182.87" y1="377.70" x2="182.87" y2="380.90" stroke="#1a1a1a" stroke-width="0.9"/>
<line x1="184.20" y1="377.70" x2="184.20" y2="383.00" stroke="#1a1a1a" stroke-width="1.2"/>
<line x1="192.93" y1="377.70" x2="192.93" y2="380.90" stroke="#1a1a1a" stroke-width="0.9"/>
<line x1="198.04" y1="377.70" x2="198.04" y2="380.90" stroke="#1a1a1a" stroke-width="0.9"/>
<line x1="201.66" y1="377.70" x2="201.66" y2="380.90" stroke="#1a1a1a" stroke-width="0.9"/>
<line x1="204.47" y1="377.70" x2="204.47" y2="380.90" stroke="#1a1a1a" stroke-width="0.9"/>
<line x1="206.77" y1="377.70" x2="206.77" y2="380.90" stroke="#1a1a1a" stroke-width="0.9"/>
<line x1="208.71" y1="377.70" x2="208.71" y2="380.90" stroke="#1a1a1a" stroke-width="0.9"/>
<line x1="210.39" y1="377.70" x2="210.39" y2="380.90" stroke="#1a1a1a" stroke-width="0.9"/>
<line x1="211.87" y1="377.70" x2="211.87" y2="380.90" stroke="#1a1a1a" stroke-width="0.9"/>
<line x1="213.20" y1="377.70" x2="213.20" y2="383.00" stroke="#1a1a1a" stroke-width="1.2"/>
<line x1="221.93" y1="377.70" x2="221.93" y2="380.90" stroke="#1a1a1a" stroke-width="0.9"/>
<line x1="227.04" y1="377.70" x2="227.04" y2="380.90" stroke="#1a1a1a" stroke-width="0.9"/>
<line x1="230.66" y1="377.70" x2="230.66" y2="380.90" stroke="#1a1a1a" stroke-width="0.9"/>
<line x1="233.47" y1="377.70" x2="233.47" y2="380.90" stroke="#1a1a1a" stroke-width="0.9"/>
<line x1="235.77" y1="377.70" x2="235.77" y2="380.90" stroke="#1a1a1a" stroke-width="0.9"/>
<line x1="237.71" y1="377.70" x2="237.71" y2="380.90" stroke="#1a1a1a" stroke-width="0.9"/>
<line x1="239.39" y1="377.70" x2="239.39" y2="380.90" stroke="#1a1a1a" stroke-width="0.9"/>
<line x1="240.87" y1="377.70" x2="240.87" y2="380.90" stroke="#1a1a1a" stroke-width="0.9"/>
<line x1="242.20" y1="377.70" x2="242.20" y2="383.00" stroke="#1a1a1a" stroke-width="1.2"/>
<text x="64.00" y="393.90" font-size="9.2" font-weight="bold" text-anchor="middle" fill="#1a1a1a" stroke="#1a1a1a" stroke-width="0.22" >0.0001</text>
<text x="97.40" y="393.90" font-size="9.2" font-weight="bold" text-anchor="middle" fill="#1a1a1a" stroke="#1a1a1a" stroke-width="0.22" >0.001</text>
<text x="126.40" y="393.90" font-size="9.2" font-weight="bold" text-anchor="middle" fill="#1a1a1a" stroke="#1a1a1a" stroke-width="0.22" >0.01</text>
<text x="155.40" y="393.90" font-size="9.2" font-weight="bold" text-anchor="middle" fill="#1a1a1a" stroke="#1a1a1a" stroke-width="0.22" >0.1</text>
<text x="184.40" y="393.90" font-size="9.2" font-weight="bold" text-anchor="middle" fill="#1a1a1a" stroke="#1a1a1a" stroke-width="0.22" >1</text>
<text x="213.40" y="393.90" font-size="9.2" font-weight="bold" text-anchor="middle" fill="#1a1a1a" stroke="#1a1a1a" stroke-width="0.22" >10</text>
<text x="242.40" y="393.90" font-size="9.2" font-weight="bold" text-anchor="middle" fill="#1a1a1a" stroke="#1a1a1a" stroke-width="0.22" >100</text>
<text x="141.60" y="406.30" font-size="9.1" font-weight="bold" text-anchor="middle" fill="#1a1a1a" stroke="#1a1a1a" stroke-width="0.22" >[WRNi] µM</text>
<text x="15.20" y="311.20" font-size="9" font-weight="bold" text-anchor="middle" fill="#1a1a1a" stroke="#1a1a1a" stroke-width="0.22" textLength="152" lengthAdjust="spacingAndGlyphs" transform="rotate(-90 15.20 311.20)" >Norm. Diffusion Coefficient (µm²/s)</text>
<line x1="57.20" y1="231.30" x2="72.90" y2="231.30" stroke="#000" stroke-width="1.2"/>
<circle cx="64.90" cy="231.30" r="2.1" fill="#000"/>
<text x="81.20" y="235.70" font-size="12.4" fill="#111" stroke="#111" stroke-width="0.12" textLength="50.3" lengthAdjust="spacingAndGlyphs" >HCT-116</text>
<line x1="150.00" y1="231.30" x2="165.60" y2="231.30" stroke="#623a90" stroke-width="1.2"/>
<circle cx="157.70" cy="231.30" r="2.0" fill="#623a90"/>
<text x="173.80" y="235.70" font-size="12.4" fill="#623a90" stroke="#623a90" stroke-width="0.12" textLength="33.8" lengthAdjust="spacingAndGlyphs" >U2OS</text>
<path d="M56.00,269.50 L57.39,269.51 L58.77,269.53 L60.16,269.54 L61.55,269.55 L62.94,269.57 L64.33,269.58 L65.71,269.60 L67.10,269.61 L68.49,269.63 L69.88,269.65 L71.26,269.67 L72.65,269.69 L74.04,269.71 L75.42,269.73 L76.81,269.75 L78.20,269.78 L79.59,269.80 L80.97,269.83 L82.36,269.86 L83.75,269.88 L85.14,269.92 L86.53,269.95 L87.91,269.98 L89.30,270.02 L90.69,270.05 L92.08,270.09 L93.46,270.13 L94.85,270.18 L96.24,270.22 L97.62,270.27 L99.01,270.32 L100.40,270.37 L101.79,270.42 L103.17,270.47 L104.56,270.53 L105.95,270.59 L107.34,270.65 L108.72,270.72 L110.11,270.78 L111.50,270.85 L112.89,270.92 L114.28,271.00 L115.66,271.07 L117.05,271.15 L118.44,271.23 L119.83,271.32 L121.21,271.40 L122.60,271.49 L123.99,271.58 L125.38,271.68 L126.76,271.77 L128.15,271.87 L129.54,271.97 L130.93,272.08 L132.31,272.18 L133.70,272.29 L135.09,272.40 L136.47,272.51 L137.86,272.62 L139.25,272.74 L140.64,272.85 L142.03,272.97 L143.41,273.08 L144.80,273.20 L146.19,273.32 L147.57,273.44 L148.96,273.56 L150.35,273.68 L151.74,273.80 L153.12,273.92 L154.51,274.04 L155.90,274.16 L157.29,274.27 L158.68,274.39 L160.06,274.51 L161.45,274.62 L162.84,274.74 L164.22,274.85 L165.61,274.96 L167.00,275.06 L168.39,275.17 L169.78,275.27 L171.16,275.38 L172.55,275.48 L173.94,275.57 L175.32,275.67 L176.71,275.76 L178.10,275.85 L179.49,275.94 L180.88,276.03 L182.26,276.11 L183.65,276.19 L185.04,276.27 L186.43,276.34 L187.81,276.41 L189.20,276.48 L190.59,276.55 L191.97,276.62 L193.36,276.68 L194.75,276.74 L196.14,276.80 L197.53,276.85 L198.91,276.91 L200.30,276.96 L201.69,277.01 L203.07,277.06 L204.46,277.10 L205.85,277.15 L207.24,277.19 L208.62,277.23 L210.01,277.26 L211.40,277.30 L212.79,277.34 L214.18,277.37 L215.56,277.40 L216.95,277.43 L218.34,277.46 L219.72,277.49 L221.11,277.51 L222.50,277.54" fill="none" stroke="#623a90" stroke-width="1.2"/>
<path d="M53.93,264.80H58.13M56.03,264.80V274.50M53.93,274.50H58.13" fill="none" stroke="#623a90" stroke-width="1.1"/>
<circle cx="56.03" cy="268.90" r="2.0" fill="#623a90"/>
<path d="M62.66,269.40H66.86M64.76,269.40V277.40M62.66,277.40H66.86" fill="none" stroke="#623a90" stroke-width="1.1"/>
<circle cx="64.76" cy="273.50" r="2.0" fill="#623a90"/>
<path d="M71.39,263.50H75.59M73.49,263.50V271.30M71.39,271.30H75.59" fill="none" stroke="#623a90" stroke-width="1.1"/>
<circle cx="73.49" cy="267.40" r="2.0" fill="#623a90"/>
<path d="M80.12,264.80H84.32M82.22,264.80V272.50M80.12,272.50H84.32" fill="none" stroke="#623a90" stroke-width="1.1"/>
<circle cx="82.22" cy="268.90" r="2.0" fill="#623a90"/>
<path d="M88.85,264.30H93.05M90.95,264.30V272.00M88.85,272.00H93.05" fill="none" stroke="#623a90" stroke-width="1.1"/>
<circle cx="90.95" cy="267.90" r="2.0" fill="#623a90"/>
<path d="M97.58,267.50H101.78M99.68,267.50V275.50M97.58,275.50H101.78" fill="none" stroke="#623a90" stroke-width="1.1"/>
<circle cx="99.68" cy="271.50" r="2.0" fill="#623a90"/>
<path d="M106.31,265.30H110.51M108.41,265.30V272.00M106.31,272.00H110.51" fill="none" stroke="#623a90" stroke-width="1.1"/>
<circle cx="108.41" cy="268.40" r="2.0" fill="#623a90"/>
<path d="M115.04,270.00H119.24M117.14,270.00V277.00M115.04,277.00H119.24" fill="none" stroke="#623a90" stroke-width="1.1"/>
<circle cx="117.14" cy="273.00" r="2.0" fill="#623a90"/>
<path d="M123.77,263.30H127.97M125.87,263.30V270.70M123.77,270.70H127.97" fill="none" stroke="#623a90" stroke-width="1.1"/>
<circle cx="125.87" cy="266.80" r="2.0" fill="#623a90"/>
<path d="M132.50,270.00H136.70M134.60,270.00V278.00M132.50,278.00H136.70" fill="none" stroke="#623a90" stroke-width="1.1"/>
<circle cx="134.60" cy="273.90" r="2.0" fill="#623a90"/>
<path d="M141.23,270.50H145.43M143.33,270.50V277.50M141.23,277.50H145.43" fill="none" stroke="#623a90" stroke-width="1.1"/>
<circle cx="143.33" cy="273.90" r="2.0" fill="#623a90"/>
<path d="M149.96,279.20H154.16M152.06,279.20V286.20M149.96,286.20H154.16" fill="none" stroke="#623a90" stroke-width="1.1"/>
<circle cx="152.06" cy="282.90" r="2.0" fill="#623a90"/>
<path d="M158.69,281.50H162.89M160.79,281.50V289.20M158.69,289.20H162.89" fill="none" stroke="#623a90" stroke-width="1.1"/>
<circle cx="160.79" cy="285.30" r="2.0" fill="#623a90"/>
<path d="M167.42,268.20H171.62M169.52,268.20V277.40M167.42,277.40H171.62" fill="none" stroke="#623a90" stroke-width="1.1"/>
<circle cx="169.52" cy="273.00" r="2.0" fill="#623a90"/>
<path d="M176.15,271.60H180.35M178.25,271.60V279.50M176.15,279.50H180.35" fill="none" stroke="#623a90" stroke-width="1.1"/>
<circle cx="178.25" cy="275.60" r="2.0" fill="#623a90"/>
<path d="M184.88,274.50H189.08M186.98,274.50V282.00M184.88,282.00H189.08" fill="none" stroke="#623a90" stroke-width="1.1"/>
<circle cx="186.98" cy="278.30" r="2.0" fill="#623a90"/>
<path d="M193.61,267.50H197.81M195.71,267.50V276.50M193.61,276.50H197.81" fill="none" stroke="#623a90" stroke-width="1.1"/>
<circle cx="195.71" cy="272.10" r="2.0" fill="#623a90"/>
<path d="M202.34,263.50H206.54M204.44,263.50V271.00M202.34,271.00H206.54" fill="none" stroke="#623a90" stroke-width="1.1"/>
<circle cx="204.44" cy="267.30" r="2.0" fill="#623a90"/>
<path d="M211.07,278.00H215.27M213.17,278.00V285.50M211.07,285.50H215.27" fill="none" stroke="#623a90" stroke-width="1.1"/>
<circle cx="213.17" cy="281.80" r="2.0" fill="#623a90"/>
<path d="M219.80,269.50H224.00M221.90,269.50V278.00M219.80,278.00H224.00" fill="none" stroke="#623a90" stroke-width="1.1"/>
<circle cx="221.90" cy="273.90" r="2.0" fill="#623a90"/>
<path d="M56.00,268.32 L57.39,268.32 L58.77,268.32 L60.16,268.32 L61.55,268.33 L62.94,268.33 L64.33,268.33 L65.71,268.34 L67.10,268.34 L68.49,268.34 L69.88,268.35 L71.26,268.36 L72.65,268.36 L74.04,268.37 L75.42,268.38 L76.81,268.39 L78.20,268.40 L79.59,268.41 L80.97,268.42 L82.36,268.43 L83.75,268.45 L85.14,268.47 L86.53,268.49 L87.91,268.51 L89.30,268.53 L90.69,268.56 L92.08,268.59 L93.46,268.62 L94.85,268.66 L96.24,268.70 L97.62,268.75 L99.01,268.80 L100.40,268.86 L101.79,268.92 L103.17,268.99 L104.56,269.07 L105.95,269.16 L107.34,269.26 L108.72,269.37 L110.11,269.49 L111.50,269.63 L112.89,269.78 L114.28,269.95 L115.66,270.14 L117.05,270.35 L118.44,270.58 L119.83,270.84 L121.21,271.12 L122.60,271.44 L123.99,271.79 L125.38,272.17 L126.76,272.60 L128.15,273.07 L129.54,273.59 L130.93,274.16 L132.31,274.79 L133.70,275.48 L135.09,276.23 L136.47,277.06 L137.86,277.95 L139.25,278.93 L140.64,279.99 L142.03,281.13 L143.41,282.37 L144.80,283.69 L146.19,285.11 L147.57,286.63 L148.96,288.23 L150.35,289.93 L151.74,291.72 L153.12,293.59 L154.51,295.55 L155.90,297.57 L157.29,299.65 L158.68,301.79 L160.06,303.97 L161.45,306.17 L162.84,308.39 L164.22,310.61 L165.61,312.82 L167.00,315.00 L168.39,317.15 L169.78,319.25 L171.16,321.29 L172.55,323.25 L173.94,325.15 L175.32,326.96 L176.71,328.68 L178.10,330.30 L179.49,331.84 L180.88,333.28 L182.26,334.63 L183.65,335.88 L185.04,337.05 L186.43,338.13 L187.81,339.12 L189.20,340.04 L190.59,340.88 L191.97,341.65 L193.36,342.35 L194.75,343.00 L196.14,343.58 L197.53,344.11 L198.91,344.59 L200.30,345.03 L201.69,345.43 L203.07,345.78 L204.46,346.11 L205.85,346.40 L207.24,346.66 L208.62,346.90 L210.01,347.11 L211.40,347.31 L212.79,347.48 L214.18,347.64 L215.56,347.78 L216.95,347.90 L218.34,348.02 L219.72,348.12 L221.11,348.21 L222.50,348.29" fill="none" stroke="#111" stroke-width="1.2"/>
<path d="M53.83,264.30H58.23M56.03,264.30V277.80M53.83,277.80H58.23" fill="none" stroke="#1a1a1a" stroke-width="1.1"/>
<circle cx="56.03" cy="270.90" r="2.2" fill="#000"/>
<path d="M62.56,259.40H66.96M64.76,259.40V273.30M62.56,273.30H66.96" fill="none" stroke="#1a1a1a" stroke-width="1.1"/>
<circle cx="64.76" cy="266.30" r="2.2" fill="#000"/>
<path d="M71.29,255.10H75.69M73.49,255.10V269.40M71.29,269.40H75.69" fill="none" stroke="#1a1a1a" stroke-width="1.1"/>
<circle cx="73.49" cy="262.30" r="2.2" fill="#000"/>
<path d="M80.02,264.80H84.42M82.22,264.80V282.50M80.02,282.50H84.42" fill="none" stroke="#1a1a1a" stroke-width="1.1"/>
<circle cx="82.22" cy="273.50" r="2.2" fill="#000"/>
<path d="M88.75,252.00H93.15M90.95,252.00V266.30M88.75,266.30H93.15" fill="none" stroke="#1a1a1a" stroke-width="1.1"/>
<circle cx="90.95" cy="259.20" r="2.2" fill="#000"/>
<path d="M97.48,265.30H101.88M99.68,265.30V278.80M97.48,278.80H101.88" fill="none" stroke="#1a1a1a" stroke-width="1.1"/>
<circle cx="99.68" cy="272.00" r="2.2" fill="#000"/>
<path d="M106.21,262.30H110.61M108.41,262.30V276.40M106.21,276.40H110.61" fill="none" stroke="#1a1a1a" stroke-width="1.1"/>
<circle cx="108.41" cy="269.40" r="2.2" fill="#000"/>
<path d="M114.94,260.20H119.34M117.14,260.20V273.50M114.94,273.50H119.34" fill="none" stroke="#1a1a1a" stroke-width="1.1"/>
<circle cx="117.14" cy="266.90" r="2.2" fill="#000"/>
<path d="M123.67,274.70H128.07M125.87,274.70V289.20M123.67,289.20H128.07" fill="none" stroke="#1a1a1a" stroke-width="1.1"/>
<circle cx="125.87" cy="282.20" r="2.2" fill="#000"/>
<path d="M132.40,267.10H136.80M134.60,267.10V281.50M132.40,281.50H136.80" fill="none" stroke="#1a1a1a" stroke-width="1.1"/>
<circle cx="134.60" cy="275.30" r="2.2" fill="#000"/>
<path d="M141.13,271.20H145.53M143.33,271.20V284.50M141.13,284.50H145.53" fill="none" stroke="#1a1a1a" stroke-width="1.1"/>
<circle cx="143.33" cy="278.30" r="2.2" fill="#000"/>
<path d="M149.86,288.00H154.26M152.06,288.00V301.30M149.86,301.30H154.26" fill="none" stroke="#1a1a1a" stroke-width="1.1"/>
<circle cx="152.06" cy="294.20" r="2.2" fill="#000"/>
<path d="M158.59,302.70H162.99M160.79,302.70V314.50M158.59,314.50H162.99" fill="none" stroke="#1a1a1a" stroke-width="1.1"/>
<circle cx="160.79" cy="308.30" r="2.2" fill="#000"/>
<path d="M167.32,305.10H171.72M169.52,305.10V318.00M167.32,318.00H171.72" fill="none" stroke="#1a1a1a" stroke-width="1.1"/>
<circle cx="169.52" cy="311.50" r="2.2" fill="#000"/>
<path d="M176.05,315.00H180.45M178.25,315.00V326.40M176.05,326.40H180.45" fill="none" stroke="#1a1a1a" stroke-width="1.1"/>
<circle cx="178.25" cy="320.70" r="2.2" fill="#000"/>
<path d="M184.78,336.20H189.18M186.98,336.20V350.40M184.78,350.40H189.18" fill="none" stroke="#1a1a1a" stroke-width="1.1"/>
<circle cx="186.98" cy="343.10" r="2.2" fill="#000"/>
<path d="M193.51,339.30H197.91M195.71,339.30V349.90M193.51,349.90H197.91" fill="none" stroke="#1a1a1a" stroke-width="1.1"/>
<circle cx="195.71" cy="344.60" r="2.2" fill="#000"/>
<path d="M202.24,340.10H206.64M204.44,340.10V352.20M202.24,352.20H206.64" fill="none" stroke="#1a1a1a" stroke-width="1.1"/>
<circle cx="204.44" cy="346.00" r="2.2" fill="#000"/>
<path d="M210.97,342.30H215.37M213.17,342.30V354.30M210.97,354.30H215.37" fill="none" stroke="#1a1a1a" stroke-width="1.1"/>
<circle cx="213.17" cy="348.10" r="2.2" fill="#000"/>
<path d="M219.70,335.70H224.10M221.90,335.70V349.00M219.70,349.00H224.10" fill="none" stroke="#1a1a1a" stroke-width="1.1"/>
<circle cx="221.90" cy="342.30" r="2.2" fill="#000"/>
<text x="247.90" y="216.70" font-size="14.2" >d</text>
<line x1="293.80" y1="249.00" x2="293.80" y2="381.00" stroke="#1a1a1a" stroke-width="1.2"/>
<line x1="293.30" y1="380.50" x2="381.90" y2="380.50" stroke="#1a1a1a" stroke-width="1.2"/>
<line x1="288.50" y1="267.30" x2="293.80" y2="267.30" stroke="#1a1a1a" stroke-width="1.2"/>
<text x="285.70" y="270.90" font-size="9.1" font-weight="bold" text-anchor="end" fill="#1a1a1a" stroke="#1a1a1a" stroke-width="0.22" >2.0</text>
<line x1="288.50" y1="312.80" x2="293.80" y2="312.80" stroke="#1a1a1a" stroke-width="1.2"/>
<text x="285.70" y="316.40" font-size="9.1" font-weight="bold" text-anchor="end" fill="#1a1a1a" stroke="#1a1a1a" stroke-width="0.22" >1.5</text>
<line x1="288.50" y1="358.30" x2="293.80" y2="358.30" stroke="#1a1a1a" stroke-width="1.2"/>
<text x="285.70" y="361.90" font-size="9.1" font-weight="bold" text-anchor="end" fill="#1a1a1a" stroke="#1a1a1a" stroke-width="0.22" >1.0</text>
<line x1="318.50" y1="380.50" x2="318.50" y2="385.50" stroke="#1a1a1a" stroke-width="1.2"/>
<line x1="356.20" y1="380.50" x2="356.20" y2="385.50" stroke="#1a1a1a" stroke-width="1.2"/>
<text x="317.50" y="396.60" font-size="8.8" font-weight="bold" text-anchor="middle" fill="#1a1a1a" stroke="#1a1a1a" stroke-width="0.22" textLength="27" lengthAdjust="spacingAndGlyphs" >DMSO</text>
<text x="355.10" y="396.60" font-size="8.8" font-weight="bold" text-anchor="middle" fill="#1a1a1a" stroke="#1a1a1a" stroke-width="0.22" textLength="24.2" lengthAdjust="spacingAndGlyphs" >WRNi</text>
<text x="267.30" y="306.50" font-size="9" font-weight="bold" text-anchor="middle" fill="#1a1a1a" stroke="#1a1a1a" stroke-width="0.22" textLength="142.8" lengthAdjust="spacingAndGlyphs" transform="rotate(-90 267.30 306.50)" >Mean Diffusion Coefficient (µm²/s)</text>
<text x="314.20" y="242.00" font-size="9.3" fill="#111" stroke="#111" stroke-width="0.12" textLength="49.4" lengthAdjust="spacingAndGlyphs" >P &lt; 0.0001</text>
<path d="M318.4,255.7V249H356.4V255.7" fill="none" stroke="#111" stroke-width="1.1"/>
<circle cx="315.8" cy="263.7" r="1.9" fill="#6a6a6a" fill-opacity="0.8"/>
<circle cx="323.8" cy="264.6" r="1.9" fill="#6a6a6a" fill-opacity="0.8"/>
<circle cx="313.2" cy="269.1" r="1.9" fill="#6a6a6a" fill-opacity="0.8"/>
<circle cx="315.4" cy="268.2" r="1.9" fill="#6a6a6a" fill-opacity="0.8"/>
<circle cx="318.3" cy="270.1" r="1.9" fill="#6a6a6a" fill-opacity="0.8"/>
<circle cx="320.9" cy="268.8" r="1.9" fill="#6a6a6a" fill-opacity="0.8"/>
<circle cx="323.8" cy="271.8" r="1.9" fill="#6a6a6a" fill-opacity="0.8"/>
<circle cx="320.9" cy="276.5" r="1.9" fill="#6a6a6a" fill-opacity="0.8"/>
<circle cx="318.6" cy="278.2" r="1.9" fill="#6a6a6a" fill-opacity="0.8"/>
<circle cx="307.7" cy="279.8" r="1.9" fill="#6a6a6a" fill-opacity="0.8"/>
<circle cx="310.6" cy="279.4" r="1.9" fill="#6a6a6a" fill-opacity="0.8"/>
<circle cx="328.9" cy="279.8" r="1.9" fill="#6a6a6a" fill-opacity="0.8"/>
<circle cx="313.2" cy="282.7" r="1.9" fill="#6a6a6a" fill-opacity="0.8"/>
<circle cx="318" cy="282.7" r="1.9" fill="#6a6a6a" fill-opacity="0.8"/>
<circle cx="321.2" cy="282" r="1.9" fill="#6a6a6a" fill-opacity="0.8"/>
<circle cx="324.1" cy="283.6" r="1.9" fill="#6a6a6a" fill-opacity="0.8"/>
<circle cx="326.4" cy="283.6" r="1.9" fill="#6a6a6a" fill-opacity="0.8"/>
<circle cx="318.6" cy="288.1" r="1.9" fill="#6a6a6a" fill-opacity="0.8"/>
<line x1="306.10" y1="279.80" x2="330.90" y2="279.80" stroke="#000" stroke-width="2.4"/>
<circle cx="348.9" cy="312.5" r="2.0" fill="#4f9a96" fill-opacity="0.85"/>
<circle cx="352.5" cy="315.3" r="2.0" fill="#4f9a96" fill-opacity="0.85"/>
<circle cx="356.1" cy="313.7" r="2.0" fill="#4f9a96" fill-opacity="0.85"/>
<circle cx="359.7" cy="314.5" r="2.0" fill="#4f9a96" fill-opacity="0.85"/>
<circle cx="345.3" cy="317.7" r="2.0" fill="#4f9a96" fill-opacity="0.85"/>
<circle cx="348.5" cy="319.3" r="2.0" fill="#4f9a96" fill-opacity="0.85"/>
<circle cx="356.5" cy="318.5" r="2.0" fill="#4f9a96" fill-opacity="0.85"/>
<circle cx="359.7" cy="318.5" r="2.0" fill="#4f9a96" fill-opacity="0.85"/>
<circle cx="367" cy="317.7" r="2.0" fill="#4f9a96" fill-opacity="0.85"/>
<circle cx="352.9" cy="321.7" r="2.0" fill="#4f9a96" fill-opacity="0.85"/>
<circle cx="363" cy="321.3" r="2.0" fill="#4f9a96" fill-opacity="0.85"/>
<circle cx="348.9" cy="324.1" r="2.0" fill="#4f9a96" fill-opacity="0.85"/>
<circle cx="363" cy="324.1" r="2.0" fill="#4f9a96" fill-opacity="0.85"/>
<circle cx="348.9" cy="328.5" r="2.0" fill="#4f9a96" fill-opacity="0.85"/>
<circle cx="352.5" cy="326.9" r="2.0" fill="#4f9a96" fill-opacity="0.85"/>
<circle cx="356.1" cy="328.9" r="2.0" fill="#4f9a96" fill-opacity="0.85"/>
<circle cx="359.3" cy="327.7" r="2.0" fill="#4f9a96" fill-opacity="0.85"/>
<circle cx="363" cy="328.5" r="2.0" fill="#4f9a96" fill-opacity="0.85"/>
<circle cx="354.1" cy="334.2" r="2.0" fill="#4f9a96" fill-opacity="0.85"/>
<circle cx="357.7" cy="334.2" r="2.0" fill="#4f9a96" fill-opacity="0.85"/>
<line x1="343.70" y1="320.90" x2="368.60" y2="320.90" stroke="#17a07c" stroke-width="2.2"/>
<text x="396.90" y="216.80" font-size="14.2" >e</text>
<path d="M444.0,349.5 C445.7,350.1 450.3,352.8 454.0,353.1 C457.7,353.5 462.2,352.8 466.3,351.6 C470.4,350.4 474.7,347.6 478.5,346.1 C482.3,344.6 486.1,343.1 489.0,342.6 C491.9,342.1 494.2,342.7 496.0,343.2 C497.8,343.6 498.5,344.1 500.0,345.1 C501.5,346.1 502.9,347.5 504.8,349.2 C506.8,351.0 509.4,353.5 511.7,355.6 C514.0,357.7 515.8,360.0 518.7,361.8 C521.6,363.6 525.5,365.6 529.2,366.1 C532.9,366.7 537.0,365.7 540.9,365.0 C544.8,364.2 548.7,362.7 552.6,361.4 C556.5,360.1 560.7,358.8 564.2,357.0 C567.7,355.2 571.0,353.6 573.6,350.6 C576.2,347.6 577.9,342.9 580.0,338.9 C582.1,334.9 584.7,329.7 586.2,326.5 C587.7,323.3 588.0,320.2 588.9,319.6 C589.8,319.0 590.2,319.8 591.3,323.1 C592.4,326.4 594.1,333.8 595.3,339.3 C596.5,344.9 597.1,351.3 598.3,356.5 C599.5,361.7 600.6,367.2 602.3,370.4 C604.0,373.5 605.4,374.2 608.4,375.3 C611.4,376.5 613.6,376.8 620.0,377.2 C626.4,377.6 642.2,377.6 646.6,377.7 L646.6,378.0 C642.2,378.0 626.4,378.0 620.0,378.0 C613.6,378.0 611.4,378.4 608.4,377.9 C605.4,377.3 604.0,377.1 602.3,374.8 C600.6,372.6 599.5,368.7 598.3,364.5 C597.1,360.3 596.5,354.5 595.3,349.7 C594.1,344.9 592.4,338.5 591.3,335.7 C590.2,333.0 589.8,332.8 588.9,333.2 C588.0,333.6 587.7,335.9 586.2,338.3 C584.7,340.8 582.1,344.8 580.0,347.9 C577.9,351.0 576.2,354.8 573.6,357.2 C571.0,359.6 567.7,360.9 564.2,362.4 C560.7,363.9 556.5,365.0 552.6,366.2 C548.7,367.4 544.8,368.9 540.9,369.6 C537.0,370.4 532.9,371.1 529.2,370.9 C525.5,370.6 521.6,369.4 518.7,368.2 C515.8,367.0 514.0,365.2 511.7,363.8 C509.4,362.5 506.8,361.2 504.8,360.2 C502.9,359.2 501.5,358.7 500.0,357.9 C498.5,357.1 497.8,356.1 496.0,355.4 C494.2,354.8 491.9,353.4 489.0,354.0 C486.1,354.6 482.3,356.8 478.5,358.9 C474.7,361.0 470.4,364.5 466.3,366.6 C462.2,368.6 457.7,370.7 454.0,371.3 C450.3,371.9 445.7,370.5 444.0,370.3 Z" fill="#6fb5b3" fill-opacity="0.85"/>
<path d="M444.0,369.9 C445.7,370.1 450.3,370.8 454.0,370.9 C457.7,371.0 462.2,370.7 466.3,370.4 C470.4,370.0 474.1,369.4 478.5,368.5 C482.9,367.6 489.0,365.7 492.6,365.0 C496.2,364.3 496.8,364.6 500.0,364.2 C503.2,363.8 507.8,362.6 511.7,362.5 C515.6,362.4 519.5,363.3 523.4,363.5 C527.3,363.8 531.1,364.9 535.0,364.1 C538.9,363.3 542.8,360.8 546.7,358.8 C550.6,356.9 554.5,355.2 558.4,352.4 C562.3,349.5 567.1,345.9 570.0,342.0 C572.9,338.1 574.3,333.7 575.9,328.9 C577.5,324.2 578.2,318.9 579.4,313.3 C580.6,307.8 582.0,302.0 583.2,295.7 C584.4,289.4 585.8,280.2 586.7,275.5 C587.7,270.9 588.1,267.9 588.9,267.7 C589.7,267.5 590.5,269.4 591.3,274.4 C592.1,279.5 593.1,289.5 593.9,297.9 C594.7,306.4 595.4,316.0 596.3,324.9 C597.2,333.9 598.3,344.7 599.3,351.8 C600.3,358.8 600.8,363.4 602.3,367.2 C603.8,371.0 605.4,372.8 608.4,374.5 C611.4,376.2 614.0,376.8 620.4,377.3 C626.8,377.8 642.2,377.6 646.6,377.7 L646.6,378.0 C642.2,378.0 626.8,378.2 620.4,378.0 C614.0,377.8 611.4,378.0 608.4,376.7 C605.4,375.3 603.8,373.2 602.3,370.0 C600.8,366.7 600.3,362.9 599.3,357.2 C598.3,351.5 597.2,343.0 596.3,335.9 C595.4,328.7 594.7,321.1 593.9,314.5 C593.1,307.8 592.1,299.8 591.3,295.8 C590.5,291.8 589.7,290.3 588.9,290.5 C588.1,290.6 587.7,293.0 586.7,296.7 C585.8,300.4 584.4,307.7 583.2,312.7 C582.0,317.7 580.6,322.3 579.4,326.7 C578.2,331.1 577.5,335.3 575.9,339.1 C574.3,342.9 572.9,346.3 570.0,349.4 C567.1,352.5 562.3,355.4 558.4,357.6 C554.5,359.9 550.6,361.2 546.7,363.0 C542.8,364.7 538.9,367.3 535.0,368.1 C531.1,368.8 527.3,367.8 523.4,367.5 C519.5,367.2 515.6,366.2 511.7,366.3 C507.8,366.4 503.2,367.6 500.0,368.0 C496.8,368.4 496.2,368.1 492.6,368.8 C489.0,369.5 482.9,371.4 478.5,372.3 C474.1,373.1 470.4,373.7 466.3,374.0 C462.2,374.4 457.7,374.6 454.0,374.5 C450.3,374.4 445.7,373.7 444.0,373.5 Z" fill="#4a4a4a" fill-opacity="0.85"/>
<path d="M444.0,359.9 C445.7,360.3 450.3,362.3 454.0,362.2 C457.7,362.1 462.2,360.7 466.3,359.1 C470.4,357.5 474.7,354.3 478.5,352.5 C482.3,350.7 486.1,348.8 489.0,348.3 C491.9,347.8 494.2,348.8 496.0,349.3 C497.8,349.8 498.5,350.6 500.0,351.5 C501.5,352.4 502.9,353.3 504.8,354.7 C506.8,356.1 509.4,358.0 511.7,359.7 C514.0,361.4 515.8,363.5 518.7,365.0 C521.6,366.5 525.5,368.1 529.2,368.5 C532.9,368.9 537.0,368.1 540.9,367.3 C544.8,366.5 548.7,365.1 552.6,363.8 C556.5,362.5 560.7,361.4 564.2,359.7 C567.7,358.0 571.0,356.6 573.6,353.9 C576.2,351.2 577.9,347.0 580.0,343.4 C582.1,339.8 584.7,335.2 586.2,332.4 C587.7,329.6 588.0,326.9 588.9,326.4 C589.8,325.9 590.2,326.4 591.3,329.4 C592.4,332.4 594.1,339.3 595.3,344.5 C596.5,349.7 597.1,355.8 598.3,360.5 C599.5,365.2 600.6,369.9 602.3,372.6 C604.0,375.3 605.4,375.7 608.4,376.6 C611.4,377.5 613.6,377.6 620.0,377.8 C626.4,378.0 642.2,378.0 646.6,378.0" fill="none" stroke="#128c8a" stroke-width="1.4"/>
<path d="M444.0,371.7 C445.7,371.9 450.3,372.6 454.0,372.7 C457.7,372.8 462.2,372.6 466.3,372.2 C470.4,371.8 474.1,371.3 478.5,370.4 C482.9,369.5 489.0,367.6 492.6,366.9 C496.2,366.2 496.8,366.5 500.0,366.1 C503.2,365.7 507.8,364.5 511.7,364.4 C515.6,364.3 519.5,365.2 523.4,365.5 C527.3,365.8 531.1,366.9 535.0,366.1 C538.9,365.3 542.8,362.8 546.7,360.9 C550.6,359.0 554.5,357.5 558.4,355.0 C562.3,352.5 567.1,349.2 570.0,345.7 C572.9,342.2 574.3,338.3 575.9,334.0 C577.5,329.7 578.2,325.0 579.4,320.0 C580.6,315.0 582.0,309.8 583.2,304.2 C584.4,298.6 585.8,290.3 586.7,286.1 C587.7,281.9 588.1,279.3 588.9,279.1 C589.7,278.9 590.5,280.6 591.3,285.1 C592.1,289.6 593.1,298.6 593.9,306.2 C594.7,313.8 595.4,322.3 596.3,330.4 C597.2,338.4 598.3,348.1 599.3,354.5 C600.3,360.9 600.8,365.1 602.3,368.6 C603.8,372.1 605.4,374.1 608.4,375.6 C611.4,377.1 614.0,377.4 620.4,377.8 C626.8,378.2 642.2,378.0 646.6,378.0" fill="none" stroke="#000" stroke-width="2.0"/>
<line x1="444.10" y1="242.80" x2="444.10" y2="381.80" stroke="#1a1a1a" stroke-width="1.2"/>
<line x1="443.60" y1="378.20" x2="647.00" y2="378.20" stroke="#1a1a1a" stroke-width="1.2"/>
<line x1="438.20" y1="378.10" x2="444.10" y2="378.10" stroke="#1a1a1a" stroke-width="1.2"/>
<text x="434.00" y="381.60" font-size="9.0" font-weight="bold" text-anchor="end" fill="#1a1a1a" stroke="#1a1a1a" stroke-width="0.22" >0.00</text>
<line x1="438.20" y1="344.27" x2="444.10" y2="344.27" stroke="#1a1a1a" stroke-width="1.2"/>
<text x="434.00" y="347.77" font-size="9.0" font-weight="bold" text-anchor="end" fill="#1a1a1a" stroke="#1a1a1a" stroke-width="0.22" >0.02</text>
<line x1="438.20" y1="310.44" x2="444.10" y2="310.44" stroke="#1a1a1a" stroke-width="1.2"/>
<text x="434.00" y="313.94" font-size="9.0" font-weight="bold" text-anchor="end" fill="#1a1a1a" stroke="#1a1a1a" stroke-width="0.22" >0.04</text>
<line x1="438.20" y1="276.61" x2="444.10" y2="276.61" stroke="#1a1a1a" stroke-width="1.2"/>
<text x="434.00" y="280.11" font-size="9.0" font-weight="bold" text-anchor="end" fill="#1a1a1a" stroke="#1a1a1a" stroke-width="0.22" >0.06</text>
<line x1="438.20" y1="242.78" x2="444.10" y2="242.78" stroke="#1a1a1a" stroke-width="1.2"/>
<text x="434.00" y="246.28" font-size="9.0" font-weight="bold" text-anchor="end" fill="#1a1a1a" stroke="#1a1a1a" stroke-width="0.22" >0.08</text>
<line x1="470.50" y1="378.20" x2="470.50" y2="382.80" stroke="#1a1a1a" stroke-width="1.2"/>
<line x1="521.50" y1="378.20" x2="521.50" y2="382.80" stroke="#1a1a1a" stroke-width="1.2"/>
<line x1="572.50" y1="378.20" x2="572.50" y2="382.80" stroke="#1a1a1a" stroke-width="1.2"/>
<line x1="623.50" y1="378.20" x2="623.50" y2="382.80" stroke="#1a1a1a" stroke-width="1.2"/>
<line x1="450.21" y1="378.20" x2="450.21" y2="381.00" stroke="#1a1a1a" stroke-width="0.9"/>
<line x1="455.15" y1="378.20" x2="455.15" y2="381.00" stroke="#1a1a1a" stroke-width="0.9"/>
<line x1="459.19" y1="378.20" x2="459.19" y2="381.00" stroke="#1a1a1a" stroke-width="0.9"/>
<line x1="462.60" y1="378.20" x2="462.60" y2="381.00" stroke="#1a1a1a" stroke-width="0.9"/>
<line x1="465.56" y1="378.20" x2="465.56" y2="381.00" stroke="#1a1a1a" stroke-width="0.9"/>
<line x1="468.17" y1="378.20" x2="468.17" y2="381.00" stroke="#1a1a1a" stroke-width="0.9"/>
<line x1="485.85" y1="378.20" x2="485.85" y2="381.00" stroke="#1a1a1a" stroke-width="0.9"/>
<line x1="494.83" y1="378.20" x2="494.83" y2="381.00" stroke="#1a1a1a" stroke-width="0.9"/>
<line x1="501.21" y1="378.20" x2="501.21" y2="381.00" stroke="#1a1a1a" stroke-width="0.9"/>
<line x1="506.15" y1="378.20" x2="506.15" y2="381.00" stroke="#1a1a1a" stroke-width="0.9"/>
<line x1="510.19" y1="378.20" x2="510.19" y2="381.00" stroke="#1a1a1a" stroke-width="0.9"/>
<line x1="513.60" y1="378.20" x2="513.60" y2="381.00" stroke="#1a1a1a" stroke-width="0.9"/>
<line x1="516.56" y1="378.20" x2="516.56" y2="381.00" stroke="#1a1a1a" stroke-width="0.9"/>
<line x1="519.17" y1="378.20" x2="519.17" y2="381.00" stroke="#1a1a1a" stroke-width="0.9"/>
<line x1="536.85" y1="378.20" x2="536.85" y2="381.00" stroke="#1a1a1a" stroke-width="0.9"/>
<line x1="545.83" y1="378.20" x2="545.83" y2="381.00" stroke="#1a1a1a" stroke-width="0.9"/>
<line x1="552.21" y1="378.20" x2="552.21" y2="381.00" stroke="#1a1a1a" stroke-width="0.9"/>
<line x1="557.15" y1="378.20" x2="557.15" y2="381.00" stroke="#1a1a1a" stroke-width="0.9"/>
<line x1="561.19" y1="378.20" x2="561.19" y2="381.00" stroke="#1a1a1a" stroke-width="0.9"/>
<line x1="564.60" y1="378.20" x2="564.60" y2="381.00" stroke="#1a1a1a" stroke-width="0.9"/>
<line x1="567.56" y1="378.20" x2="567.56" y2="381.00" stroke="#1a1a1a" stroke-width="0.9"/>
<line x1="570.17" y1="378.20" x2="570.17" y2="381.00" stroke="#1a1a1a" stroke-width="0.9"/>
<line x1="587.85" y1="378.20" x2="587.85" y2="381.00" stroke="#1a1a1a" stroke-width="0.9"/>
<line x1="596.83" y1="378.20" x2="596.83" y2="381.00" stroke="#1a1a1a" stroke-width="0.9"/>
<line x1="603.21" y1="378.20" x2="603.21" y2="381.00" stroke="#1a1a1a" stroke-width="0.9"/>
<line x1="608.15" y1="378.20" x2="608.15" y2="381.00" stroke="#1a1a1a" stroke-width="0.9"/>
<line x1="612.19" y1="378.20" x2="612.19" y2="381.00" stroke="#1a1a1a" stroke-width="0.9"/>
<line x1="615.60" y1="378.20" x2="615.60" y2="381.00" stroke="#1a1a1a" stroke-width="0.9"/>
<line x1="618.56" y1="378.20" x2="618.56" y2="381.00" stroke="#1a1a1a" stroke-width="0.9"/>
<line x1="621.17" y1="378.20" x2="621.17" y2="381.00" stroke="#1a1a1a" stroke-width="0.9"/>
<line x1="638.85" y1="378.20" x2="638.85" y2="381.00" stroke="#1a1a1a" stroke-width="0.9"/>
<text x="470.70" y="395.60" font-size="8.9" font-weight="bold" text-anchor="middle" fill="#1a1a1a" stroke="#1a1a1a" stroke-width="0.22" >0.01</text>
<text x="521.70" y="395.60" font-size="8.9" font-weight="bold" text-anchor="middle" fill="#1a1a1a" stroke="#1a1a1a" stroke-width="0.22" >0.1</text>
<text x="572.70" y="395.60" font-size="8.9" font-weight="bold" text-anchor="middle" fill="#1a1a1a" stroke="#1a1a1a" stroke-width="0.22" >1</text>
<text x="623.70" y="395.60" font-size="8.9" font-weight="bold" text-anchor="middle" fill="#1a1a1a" stroke="#1a1a1a" stroke-width="0.22" >10</text>
<text x="477.00" y="404.30" font-size="9" font-weight="bold" fill="#1a1a1a" stroke="#1a1a1a" stroke-width="0.22" textLength="123" lengthAdjust="spacingAndGlyphs" >Diffusion Coefficient (µm²/s)</text>
<text x="413.70" y="312.50" font-size="9" font-weight="bold" text-anchor="middle" fill="#1a1a1a" stroke="#1a1a1a" stroke-width="0.22" textLength="73.4" lengthAdjust="spacingAndGlyphs" transform="rotate(-90 413.70 312.50)" >State Occupation</text>
<line x1="480.20" y1="247.70" x2="496.00" y2="247.70" stroke="#000" stroke-width="1.8"/>
<text x="504.10" y="251.40" font-size="11" fill="#111" stroke="#111" stroke-width="0.12" textLength="32.7" lengthAdjust="spacingAndGlyphs" >DMSO</text>
<line x1="550.10" y1="247.70" x2="565.60" y2="247.70" stroke="#1c9c99" stroke-width="1.8"/>
<text x="573.20" y="251.40" font-size="11" fill="#1c9c99" stroke="#1c9c99" stroke-width="0.12" textLength="29.6" lengthAdjust="spacingAndGlyphs" >WRNi</text>
<text x="1.50" y="425.40" font-size="14.2" >f</text>
<line x1="38.70" y1="452.30" x2="38.70" y2="592.40" stroke="#1a1a1a" stroke-width="1.2"/>
<line x1="38.20" y1="587.20" x2="241.60" y2="587.20" stroke="#1a1a1a" stroke-width="1.2"/>
<line x1="33.00" y1="587.20" x2="38.70" y2="587.20" stroke="#1a1a1a" stroke-width="1.2"/>
<text x="30.00" y="590.80" font-size="9.4" font-weight="bold" text-anchor="end" fill="#1a1a1a" stroke="#1a1a1a" stroke-width="0.22" >0</text>
<line x1="33.00" y1="542.30" x2="38.70" y2="542.30" stroke="#1a1a1a" stroke-width="1.2"/>
<text x="30.00" y="545.90" font-size="9.4" font-weight="bold" text-anchor="end" fill="#1a1a1a" stroke="#1a1a1a" stroke-width="0.22" >20</text>
<line x1="33.00" y1="497.40" x2="38.70" y2="497.40" stroke="#1a1a1a" stroke-width="1.2"/>
<text x="30.00" y="501.00" font-size="9.4" font-weight="bold" text-anchor="end" fill="#1a1a1a" stroke="#1a1a1a" stroke-width="0.22" >40</text>
<line x1="33.00" y1="452.50" x2="38.70" y2="452.50" stroke="#1a1a1a" stroke-width="1.2"/>
<text x="30.00" y="456.10" font-size="9.4" font-weight="bold" text-anchor="end" fill="#1a1a1a" stroke="#1a1a1a" stroke-width="0.22" >60</text>
<line x1="106.50" y1="587.20" x2="106.50" y2="592.40" stroke="#1a1a1a" stroke-width="1.2"/>
<line x1="173.80" y1="587.20" x2="173.80" y2="592.40" stroke="#1a1a1a" stroke-width="1.2"/>
<line x1="241.10" y1="587.20" x2="241.10" y2="592.40" stroke="#1a1a1a" stroke-width="1.2"/>
<line x1="59.46" y1="587.20" x2="59.46" y2="590.60" stroke="#1a1a1a" stroke-width="0.9"/>
<line x1="71.31" y1="587.20" x2="71.31" y2="590.60" stroke="#1a1a1a" stroke-width="0.9"/>
<line x1="79.72" y1="587.20" x2="79.72" y2="590.60" stroke="#1a1a1a" stroke-width="0.9"/>
<line x1="86.24" y1="587.20" x2="86.24" y2="590.60" stroke="#1a1a1a" stroke-width="0.9"/>
<line x1="91.57" y1="587.20" x2="91.57" y2="590.60" stroke="#1a1a1a" stroke-width="0.9"/>
<line x1="96.08" y1="587.20" x2="96.08" y2="590.60" stroke="#1a1a1a" stroke-width="0.9"/>
<line x1="99.98" y1="587.20" x2="99.98" y2="590.60" stroke="#1a1a1a" stroke-width="0.9"/>
<line x1="103.42" y1="587.20" x2="103.42" y2="590.60" stroke="#1a1a1a" stroke-width="0.9"/>
<line x1="126.76" y1="587.20" x2="126.76" y2="590.60" stroke="#1a1a1a" stroke-width="0.9"/>
<line x1="138.61" y1="587.20" x2="138.61" y2="590.60" stroke="#1a1a1a" stroke-width="0.9"/>
<line x1="147.02" y1="587.20" x2="147.02" y2="590.60" stroke="#1a1a1a" stroke-width="0.9"/>
<line x1="153.54" y1="587.20" x2="153.54" y2="590.60" stroke="#1a1a1a" stroke-width="0.9"/>
<line x1="158.87" y1="587.20" x2="158.87" y2="590.60" stroke="#1a1a1a" stroke-width="0.9"/>
<line x1="163.38" y1="587.20" x2="163.38" y2="590.60" stroke="#1a1a1a" stroke-width="0.9"/>
<line x1="167.28" y1="587.20" x2="167.28" y2="590.60" stroke="#1a1a1a" stroke-width="0.9"/>
<line x1="170.72" y1="587.20" x2="170.72" y2="590.60" stroke="#1a1a1a" stroke-width="0.9"/>
<line x1="194.06" y1="587.20" x2="194.06" y2="590.60" stroke="#1a1a1a" stroke-width="0.9"/>
<line x1="205.91" y1="587.20" x2="205.91" y2="590.60" stroke="#1a1a1a" stroke-width="0.9"/>
<line x1="214.32" y1="587.20" x2="214.32" y2="590.60" stroke="#1a1a1a" stroke-width="0.9"/>
<line x1="220.84" y1="587.20" x2="220.84" y2="590.60" stroke="#1a1a1a" stroke-width="0.9"/>
<line x1="226.17" y1="587.20" x2="226.17" y2="590.60" stroke="#1a1a1a" stroke-width="0.9"/>
<line x1="230.68" y1="587.20" x2="230.68" y2="590.60" stroke="#1a1a1a" stroke-width="0.9"/>
<line x1="234.58" y1="587.20" x2="234.58" y2="590.60" stroke="#1a1a1a" stroke-width="0.9"/>
<line x1="238.02" y1="587.20" x2="238.02" y2="590.60" stroke="#1a1a1a" stroke-width="0.9"/>
<text x="106.70" y="603.20" font-size="9.4" font-weight="bold" text-anchor="middle" fill="#1a1a1a" stroke="#1a1a1a" stroke-width="0.22" >0.1</text>
<text x="174.00" y="603.20" font-size="9.4" font-weight="bold" text-anchor="middle" fill="#1a1a1a" stroke="#1a1a1a" stroke-width="0.22" >1</text>
<text x="241.30" y="603.20" font-size="9.4" font-weight="bold" text-anchor="middle" fill="#1a1a1a" stroke="#1a1a1a" stroke-width="0.22" >10</text>
<text x="43.60" y="600.00" font-size="9.0" font-weight="bold" text-anchor="end" fill="#1a1a1a" stroke="#1a1a1a" stroke-width="0.22" transform="rotate(-45 43.60 600.00)" >DMSO</text>
<text x="140.60" y="612.70" font-size="10.1" font-weight="bold" text-anchor="middle" fill="#1a1a1a" stroke="#1a1a1a" stroke-width="0.22" >[WRNi] µM</text>
<text x="13.90" y="532.20" font-size="10.3" font-weight="bold" text-anchor="middle" fill="#1a1a1a" stroke="#1a1a1a" stroke-width="0.22" textLength="71.5" lengthAdjust="spacingAndGlyphs" transform="rotate(-90 13.90 532.20)" >% of Population</text>
<path d="M38.70,533.89 L41.23,533.89 L43.76,533.90 L46.29,533.91 L48.82,533.92 L51.35,533.94 L53.88,533.96 L56.41,533.99 L58.94,534.03 L61.47,534.07 L64.00,534.11 L66.53,534.16 L69.06,534.21 L71.59,534.27 L74.12,534.34 L76.65,534.40 L79.18,534.48 L81.71,534.56 L84.24,534.64 L86.77,534.73 L89.30,534.82 L91.83,534.92 L94.36,535.02 L96.89,535.13 L99.42,535.24 L101.95,535.35 L104.48,535.48 L107.01,535.60 L109.54,535.73 L112.07,535.87 L114.60,536.01 L117.13,536.16 L119.66,536.31 L122.19,536.46 L124.72,536.62 L127.25,536.79 L129.78,536.96 L132.31,537.13 L134.84,537.31 L137.37,537.50 L139.90,537.69 L142.43,537.88 L144.96,538.08 L147.49,538.28 L150.02,538.49 L152.55,538.71 L155.08,538.93 L157.61,539.15 L160.14,539.38 L162.67,539.61 L165.20,539.85 L167.73,540.09 L170.26,540.34 L172.79,540.59 L175.32,540.85 L177.85,541.11 L180.38,541.38 L182.91,541.65 L185.44,541.93 L187.97,542.21 L190.50,542.50 L193.03,542.79 L195.56,543.08 L198.09,543.39 L200.62,543.69 L203.15,544.00 L205.68,544.32 L208.21,544.64 L210.74,544.96 L213.27,545.29 L215.80,545.63 L218.33,545.97 L220.86,546.31 L223.39,546.66 L225.92,547.02 L228.45,547.38 L230.98,547.74 L233.51,548.11 L236.04,548.48 L238.57,548.86 L241.10,549.25" fill="none" stroke="#e6338a" stroke-width="1.2"/>
<circle cx="38.70" cy="534.00" r="2.0" fill="#e6338a"/>
<circle cx="58.60" cy="534.60" r="2.0" fill="#e6338a"/>
<circle cx="78.80" cy="534.60" r="2.0" fill="#e6338a"/>
<circle cx="99.10" cy="534.00" r="2.0" fill="#e6338a"/>
<circle cx="119.20" cy="535.90" r="2.0" fill="#e6338a"/>
<circle cx="139.60" cy="537.40" r="2.0" fill="#e6338a"/>
<circle cx="159.90" cy="539.70" r="2.0" fill="#e6338a"/>
<circle cx="180.50" cy="541.90" r="2.0" fill="#e6338a"/>
<circle cx="200.80" cy="544.80" r="2.0" fill="#e6338a"/>
<circle cx="221.10" cy="546.10" r="2.0" fill="#e6338a"/>
<circle cx="241.10" cy="548.60" r="2.0" fill="#e6338a"/>
<path d="M38.70,469.42 L41.23,469.57 L43.76,469.75 L46.29,469.96 L48.82,470.20 L51.35,470.47 L53.88,470.78 L56.41,471.11 L58.94,471.47 L61.47,471.85 L64.00,472.26 L66.53,472.70 L69.06,473.16 L71.59,473.65 L74.12,474.16 L76.65,474.69 L79.18,475.24 L81.71,475.82 L84.24,476.41 L86.77,477.02 L89.30,477.65 L91.83,478.30 L94.36,478.96 L96.89,479.64 L99.42,480.34 L101.95,481.05 L104.48,481.77 L107.01,482.51 L109.54,483.26 L112.07,484.02 L114.60,484.78 L117.13,485.56 L119.66,486.35 L122.19,487.15 L124.72,487.95 L127.25,488.76 L129.78,489.57 L132.31,490.39 L134.84,491.21 L137.37,492.04 L139.90,492.87 L142.43,493.70 L144.96,494.53 L147.49,495.36 L150.02,496.19 L152.55,497.02 L155.08,497.84 L157.61,498.66 L160.14,499.48 L162.67,500.29 L165.20,501.10 L167.73,501.90 L170.26,502.70 L172.79,503.48 L175.32,504.26 L177.85,505.03 L180.38,505.79 L182.91,506.53 L185.44,507.27 L187.97,507.99 L190.50,508.69 L193.03,509.39 L195.56,510.07 L198.09,510.73 L200.62,511.37 L203.15,512.00 L205.68,512.61 L208.21,513.20 L210.74,513.77 L213.27,514.32 L215.80,514.85 L218.33,515.35 L220.86,515.83 L223.39,516.29 L225.92,516.73 L228.45,517.13 L230.98,517.52 L233.51,517.87 L236.04,518.20 L238.57,518.49 L241.10,518.76" fill="none" stroke="#1f9a97" stroke-width="1.3"/>
<path d="M36.50,464.70H40.90M38.70,464.70V474.30M36.50,474.30H40.90" fill="none" stroke="#1f9a97" stroke-width="1.2"/>
<circle cx="38.70" cy="468.90" r="2.2" fill="#1f9a97"/>
<path d="M56.40,469.50H60.80M58.60,469.50V476.00M56.40,476.00H60.80" fill="none" stroke="#1f9a97" stroke-width="1.2"/>
<circle cx="58.60" cy="472.80" r="2.2" fill="#1f9a97"/>
<path d="M76.60,471.50H81.00M78.80,471.50V477.00M76.60,477.00H81.00" fill="none" stroke="#1f9a97" stroke-width="1.2"/>
<circle cx="78.80" cy="474.20" r="2.2" fill="#1f9a97"/>
<path d="M96.90,476.70H101.30M99.10,476.70V484.40M96.90,484.40H101.30" fill="none" stroke="#1f9a97" stroke-width="1.2"/>
<circle cx="99.10" cy="480.50" r="2.2" fill="#1f9a97"/>
<path d="M117.00,482.00H121.40M119.20,482.00V489.20M117.00,489.20H121.40" fill="none" stroke="#1f9a97" stroke-width="1.2"/>
<circle cx="119.20" cy="485.70" r="2.2" fill="#1f9a97"/>
<path d="M137.40,490.00H141.80M139.60,490.00V495.00M137.40,495.00H141.80" fill="none" stroke="#1f9a97" stroke-width="1.2"/>
<circle cx="139.60" cy="492.50" r="2.2" fill="#1f9a97"/>
<path d="M157.70,497.50H162.10M159.90,497.50V502.70M157.70,502.70H162.10" fill="none" stroke="#1f9a97" stroke-width="1.2"/>
<circle cx="159.90" cy="500.20" r="2.2" fill="#1f9a97"/>
<path d="M178.30,501.40H182.70M180.50,501.40V510.40M178.30,510.40H182.70" fill="none" stroke="#1f9a97" stroke-width="1.2"/>
<circle cx="180.50" cy="506.00" r="2.2" fill="#1f9a97"/>
<path d="M198.60,509.50H203.00M200.80,509.50V513.70M198.60,513.70H203.00" fill="none" stroke="#1f9a97" stroke-width="1.2"/>
<circle cx="200.80" cy="511.40" r="2.2" fill="#1f9a97"/>
<path d="M218.90,511.80H223.30M221.10,511.80V518.70M218.90,518.70H223.30" fill="none" stroke="#1f9a97" stroke-width="1.2"/>
<circle cx="221.10" cy="515.20" r="2.2" fill="#1f9a97"/>
<path d="M238.90,515.80H243.30M241.10,515.80V522.40M238.90,522.40H243.30" fill="none" stroke="#1f9a97" stroke-width="1.2"/>
<circle cx="241.10" cy="519.10" r="2.2" fill="#1f9a97"/>
<path d="M38.70,533.34 L41.23,533.32 L43.76,533.26 L46.29,533.15 L48.82,533.00 L51.35,532.80 L53.88,532.56 L56.41,532.28 L58.94,531.97 L61.47,531.61 L64.00,531.21 L66.53,530.78 L69.06,530.31 L71.59,529.80 L74.12,529.26 L76.65,528.69 L79.18,528.09 L81.71,527.46 L84.24,526.79 L86.77,526.10 L89.30,525.38 L91.83,524.63 L94.36,523.86 L96.89,523.06 L99.42,522.24 L101.95,521.40 L104.48,520.53 L107.01,519.65 L109.54,518.74 L112.07,517.82 L114.60,516.88 L117.13,515.92 L119.66,514.94 L122.19,513.96 L124.72,512.95 L127.25,511.94 L129.78,510.91 L132.31,509.88 L134.84,508.83 L137.37,507.78 L139.90,506.72 L142.43,505.65 L144.96,504.58 L147.49,503.50 L150.02,502.42 L152.55,501.34 L155.08,500.25 L157.61,499.17 L160.14,498.09 L162.67,497.00 L165.20,495.93 L167.73,494.85 L170.26,493.78 L172.79,492.72 L175.32,491.66 L177.85,490.61 L180.38,489.57 L182.91,488.54 L185.44,487.52 L187.97,486.52 L190.50,485.52 L193.03,484.55 L195.56,483.58 L198.09,482.63 L200.62,481.70 L203.15,480.79 L205.68,479.90 L208.21,479.02 L210.74,478.17 L213.27,477.34 L215.80,476.53 L218.33,475.75 L220.86,475.00 L223.39,474.27 L225.92,473.56 L228.45,472.89 L230.98,472.24 L233.51,471.63 L236.04,471.05 L238.57,470.49 L241.10,469.98" fill="none" stroke="#111" stroke-width="1.3"/>
<path d="M36.50,528.80H40.90M38.70,528.80V539.40M36.50,539.40H40.90" fill="none" stroke="#111" stroke-width="1.2"/>
<circle cx="38.70" cy="534.00" r="2.2" fill="#000"/>
<path d="M56.40,527.80H60.80M58.60,527.80V533.00M56.40,533.00H60.80" fill="none" stroke="#111" stroke-width="1.2"/>
<circle cx="58.60" cy="530.30" r="2.2" fill="#000"/>
<path d="M76.60,526.80H81.00M78.80,526.80V532.20M76.60,532.20H81.00" fill="none" stroke="#111" stroke-width="1.2"/>
<circle cx="78.80" cy="529.20" r="2.2" fill="#000"/>
<path d="M96.90,519.50H101.30M99.10,519.50V525.50M96.90,525.50H101.30" fill="none" stroke="#111" stroke-width="1.2"/>
<circle cx="99.10" cy="522.60" r="2.2" fill="#000"/>
<path d="M117.00,511.80H121.40M119.20,511.80V518.70M117.00,518.70H121.40" fill="none" stroke="#111" stroke-width="1.2"/>
<circle cx="119.20" cy="515.30" r="2.2" fill="#000"/>
<path d="M137.40,504.00H141.80M139.60,504.00V509.00M137.40,509.00H141.80" fill="none" stroke="#111" stroke-width="1.2"/>
<circle cx="139.60" cy="506.60" r="2.2" fill="#000"/>
<path d="M157.70,494.40H162.10M159.90,494.40V500.20M157.70,500.20H162.10" fill="none" stroke="#111" stroke-width="1.2"/>
<circle cx="159.90" cy="497.50" r="2.2" fill="#000"/>
<path d="M178.30,485.30H182.70M180.50,485.30V495.60M178.30,495.60H182.70" fill="none" stroke="#111" stroke-width="1.2"/>
<circle cx="180.50" cy="490.50" r="2.2" fill="#000"/>
<path d="M198.60,478.00H203.00M200.80,478.00V483.90M198.60,483.90H203.00" fill="none" stroke="#111" stroke-width="1.2"/>
<circle cx="200.80" cy="480.90" r="2.2" fill="#000"/>
<path d="M218.90,471.30H223.30M221.10,471.30V480.10M218.90,480.10H223.30" fill="none" stroke="#111" stroke-width="1.2"/>
<circle cx="221.10" cy="475.30" r="2.2" fill="#000"/>
<path d="M238.90,466.00H243.30M241.10,466.00V473.40M238.90,473.40H243.30" fill="none" stroke="#111" stroke-width="1.2"/>
<circle cx="241.10" cy="469.90" r="2.2" fill="#000"/>
<line x1="60.90" y1="453.90" x2="75.90" y2="453.90" stroke="#111" stroke-width="1.2"/>
<circle cx="68.60" cy="453.90" r="2.0" fill="#000"/>
<text x="84.40" y="457.20" font-size="10.6" fill="#111" stroke="#111" stroke-width="0.12" textLength="30.5" lengthAdjust="spacingAndGlyphs" >Bound</text>
<line x1="128.60" y1="453.90" x2="143.10" y2="453.90" stroke="#e6338a" stroke-width="1.2"/>
<circle cx="135.80" cy="453.90" r="2.0" fill="#e6338a"/>
<text x="151.80" y="457.20" font-size="10.6" fill="#e6338a" stroke="#e6338a" stroke-width="0.12" textLength="23" lengthAdjust="spacingAndGlyphs" >Slow</text>
<line x1="182.10" y1="453.90" x2="196.70" y2="453.90" stroke="#1f9a97" stroke-width="1.2"/>
<circle cx="189.70" cy="453.90" r="2.0" fill="#1f9a97"/>
<text x="205.50" y="457.20" font-size="10.6" fill="#1f9a97" stroke="#1f9a97" stroke-width="0.12" textLength="20.2" lengthAdjust="spacingAndGlyphs" >Fast</text>
<path d="M57.7,576.6 L67.0,575.6 L77.4,574.1 L84.7,575.0 L84.7,578 L57.7,578 Z" fill="#555"/>
<path d="M84.7,575.0 L90.0,573.5 L96.4,570.0 L97.6,568.1 L97.6,578 L84.7,578 Z" fill="#f08cb4"/>
<path d="M97.6,568.1 L99.5,565.0 L100.8,558.4 L102.3,550.0 L103.4,546.7 L104.6,547.5 L105.9,551.1 L107.0,560.0 L108.1,571.5 L110.3,577.3 L112.0,577.6 L112.0,578 L97.6,578 Z" fill="#5db8aa"/>
<path d="M57.7,576.6 C59.2,576.4 63.7,576.0 67.0,575.6 C70.3,575.2 74.5,574.2 77.4,574.1 C80.4,574.0 82.6,575.1 84.7,575.0 C86.8,574.9 88.0,574.3 90.0,573.5 C92.0,572.7 94.8,571.4 96.4,570.0 C98.0,568.6 98.8,566.9 99.5,565.0 C100.2,563.1 100.3,560.9 100.8,558.4 C101.3,555.9 101.9,552.0 102.3,550.0 C102.7,548.0 103.0,547.1 103.4,546.7 C103.8,546.3 104.2,546.8 104.6,547.5 C105.0,548.2 105.5,549.0 105.9,551.1 C106.3,553.2 106.6,556.6 107.0,560.0 C107.4,563.4 107.5,568.6 108.1,571.5 C108.6,574.4 109.3,576.2 110.3,577.3 C111.3,578.4 113.4,577.9 114.0,578.0" fill="none" stroke="#111" stroke-width="1.0"/>
<line x1="57.70" y1="536.50" x2="57.70" y2="578.30" stroke="#111" stroke-width="1.0"/>
<line x1="57.20" y1="578.00" x2="122.00" y2="578.00" stroke="#111" stroke-width="1.0"/>
<line x1="84.70" y1="549.60" x2="84.70" y2="578.00" stroke="#f28ab2" stroke-width="0.7" stroke-dasharray="1.6 1.4"/>
<line x1="97.60" y1="549.60" x2="97.60" y2="578.00" stroke="#f28ab2" stroke-width="0.7" stroke-dasharray="1.6 1.4"/>
<line x1="97.90" y1="543.00" x2="97.90" y2="549.00" stroke="#7cc8c0" stroke-width="0.7" stroke-dasharray="1.6 1.4"/>
<line x1="110.30" y1="543.00" x2="110.30" y2="578.00" stroke="#7cc8c0" stroke-width="0.7" stroke-dasharray="1.6 1.4"/>
<line x1="57.70" y1="568.30" x2="84.70" y2="568.30" stroke="#aaa" stroke-width="0.8" stroke-dasharray="2 1.6"/>
<line x1="71.60" y1="563.50" x2="71.60" y2="568.30" stroke="#aaa" stroke-width="0.7"/>
<text x="46.80" y="559.50" font-size="6.8" font-weight="bold" text-anchor="middle" fill="#111" stroke="#111" stroke-width="0.22" transform="rotate(-90 46.80 559.50)" >State</text>
<text x="55.30" y="558.40" font-size="6.8" font-weight="bold" text-anchor="middle" fill="#111" stroke="#111" stroke-width="0.22" textLength="36.5" lengthAdjust="spacingAndGlyphs" transform="rotate(-90 55.30 558.40)" >Occupation</text>
<text x="60.60" y="562.20" font-size="6.9" font-weight="bold" fill="#9a9a9a" stroke="#9a9a9a" stroke-width="0.22" textLength="19.7" lengthAdjust="spacingAndGlyphs" >Bound</text>
<text x="84.00" y="549.00" font-size="6.9" font-weight="bold" fill="#e6338a" stroke="#e6338a" stroke-width="0.22" textLength="13.9" lengthAdjust="spacingAndGlyphs" >Slow</text>
<text x="97.90" y="542.40" font-size="6.9" font-weight="bold" fill="#1f9a97" stroke="#1f9a97" stroke-width="0.22" textLength="12.4" lengthAdjust="spacingAndGlyphs" >Fast</text>
<text x="60.60" y="584.60" font-size="7.3" font-weight="bold" fill="#111" stroke="#111" stroke-width="0.22" textLength="49.7" lengthAdjust="spacingAndGlyphs" >Diff. coefficient</text>
<text x="111.00" y="584.60" font-size="5.6" fill="#111" stroke="#111" stroke-width="0.12" textLength="19" lengthAdjust="spacingAndGlyphs" >(µm²/s)</text>
<text x="247.90" y="426.20" font-size="14.2" >g</text>
<line x1="295.80" y1="456.60" x2="295.80" y2="586.70" stroke="#1a1a1a" stroke-width="1.2"/>
<line x1="295.30" y1="586.20" x2="382.20" y2="586.20" stroke="#1a1a1a" stroke-width="1.2"/>
<line x1="291.00" y1="586.20" x2="295.80" y2="586.20" stroke="#1a1a1a" stroke-width="1.2"/>
<text x="288.40" y="589.70" font-size="9.0" font-weight="bold" text-anchor="end" fill="#1a1a1a" stroke="#1a1a1a" stroke-width="0.22" >0.0</text>
<line x1="291.00" y1="543.10" x2="295.80" y2="543.10" stroke="#1a1a1a" stroke-width="1.2"/>
<text x="288.40" y="546.60" font-size="9.0" font-weight="bold" text-anchor="end" fill="#1a1a1a" stroke="#1a1a1a" stroke-width="0.22" >0.2</text>
<line x1="291.00" y1="500.00" x2="295.80" y2="500.00" stroke="#1a1a1a" stroke-width="1.2"/>
<text x="288.40" y="503.50" font-size="9.0" font-weight="bold" text-anchor="end" fill="#1a1a1a" stroke="#1a1a1a" stroke-width="0.22" >0.4</text>
<line x1="291.00" y1="456.90" x2="295.80" y2="456.90" stroke="#1a1a1a" stroke-width="1.2"/>
<text x="288.40" y="460.40" font-size="9.0" font-weight="bold" text-anchor="end" fill="#1a1a1a" stroke="#1a1a1a" stroke-width="0.22" >0.6</text>
<line x1="319.20" y1="586.20" x2="319.20" y2="589.80" stroke="#1a1a1a" stroke-width="1.2"/>
<line x1="358.50" y1="586.20" x2="358.50" y2="589.80" stroke="#1a1a1a" stroke-width="1.2"/>
<text x="324.60" y="597.00" font-size="9.5" font-weight="bold" text-anchor="end" fill="#1a1a1a" stroke="#1a1a1a" stroke-width="0.22" transform="rotate(-45 324.60 597.00)" >DMSO</text>
<text x="363.60" y="597.60" font-size="9.5" font-weight="bold" text-anchor="end" fill="#1a1a1a" stroke="#1a1a1a" stroke-width="0.22" transform="rotate(-45 363.60 597.60)" >WRNi</text>
<text x="267.00" y="519.70" font-size="9.4" font-weight="bold" text-anchor="middle" fill="#1a1a1a" stroke="#1a1a1a" stroke-width="0.22" textLength="69" lengthAdjust="spacingAndGlyphs" transform="rotate(-90 267.00 519.70)" >Fraction Bound</text>
<text x="308.30" y="438.70" font-size="10.3" fill="#111" stroke="#111" stroke-width="0.12" textLength="50.2" lengthAdjust="spacingAndGlyphs" >P = 0.0002</text>
<path d="M318.6,450.9V444.5H351.8V450.9" fill="none" stroke="#111" stroke-width="1.1"/>
<rect x="307.4" y="525.2" width="23.5" height="61" fill="#000"/>
<path d="M313.2,521.9H325.1M319.2,521.9V525.2" fill="none" stroke="#111" stroke-width="1.3"/>
<circle cx="319.00" cy="521.40" r="2.0" fill="#9a9a9a"/>
<circle cx="314.70" cy="527.70" r="2.0" fill="#9a9a9a"/>
<circle cx="322.80" cy="526.20" r="2.0" fill="#9a9a9a"/>
<rect x="346.7" y="470.7" width="23.5" height="115.5" fill="#0c8a87"/>
<path d="M353,464H364.3M358.6,464V477.5M353,477.5H364.3" fill="none" stroke="#0f7f7d" stroke-width="1.4"/>
<circle cx="358.70" cy="462.40" r="2.2" fill="#0ab0d0"/>
<circle cx="354.80" cy="474.70" r="2.2" fill="#0ab0d0"/>
<circle cx="362.50" cy="474.70" r="2.2" fill="#0ab0d0"/>
<text x="395.70" y="425.90" font-size="14.2" >h</text>
<line x1="444.70" y1="452.20" x2="444.70" y2="592.50" stroke="#1a1a1a" stroke-width="1.2"/>
<line x1="647.90" y1="452.10" x2="647.90" y2="587.80" stroke="#1a1a1a" stroke-width="1.2"/>
<line x1="444.20" y1="587.30" x2="647.90" y2="587.30" stroke="#1a1a1a" stroke-width="1.2"/>
<line x1="439.00" y1="587.30" x2="444.70" y2="587.30" stroke="#1a1a1a" stroke-width="1.2"/>
<text x="435.30" y="590.90" font-size="9.1" font-weight="bold" text-anchor="end" fill="#1a1a1a" stroke="#1a1a1a" stroke-width="0.22" >60</text>
<line x1="439.00" y1="542.25" x2="444.70" y2="542.25" stroke="#1a1a1a" stroke-width="1.2"/>
<text x="435.30" y="545.85" font-size="9.1" font-weight="bold" text-anchor="end" fill="#1a1a1a" stroke="#1a1a1a" stroke-width="0.22" >80</text>
<line x1="439.00" y1="497.20" x2="444.70" y2="497.20" stroke="#1a1a1a" stroke-width="1.2"/>
<text x="435.30" y="500.80" font-size="9.1" font-weight="bold" text-anchor="end" fill="#1a1a1a" stroke="#1a1a1a" stroke-width="0.22" >100</text>
<line x1="439.00" y1="452.15" x2="444.70" y2="452.15" stroke="#1a1a1a" stroke-width="1.2"/>
<text x="435.30" y="455.75" font-size="9.1" font-weight="bold" text-anchor="end" fill="#1a1a1a" stroke="#1a1a1a" stroke-width="0.22" >120</text>
<line x1="647.90" y1="587.30" x2="652.60" y2="587.30" stroke="#1a1a1a" stroke-width="1.2"/>
<text x="654.40" y="590.80" font-size="9.3" font-weight="bold" fill="#1a1a1a" stroke="#1a1a1a" stroke-width="0.22" >20</text>
<line x1="647.90" y1="560.26" x2="652.60" y2="560.26" stroke="#1a1a1a" stroke-width="1.2"/>
<text x="654.40" y="563.76" font-size="9.3" font-weight="bold" fill="#1a1a1a" stroke="#1a1a1a" stroke-width="0.22" >40</text>
<line x1="647.90" y1="533.22" x2="652.60" y2="533.22" stroke="#1a1a1a" stroke-width="1.2"/>
<text x="654.40" y="536.72" font-size="9.3" font-weight="bold" fill="#1a1a1a" stroke="#1a1a1a" stroke-width="0.22" >60</text>
<line x1="647.90" y1="506.18" x2="652.60" y2="506.18" stroke="#1a1a1a" stroke-width="1.2"/>
<text x="654.40" y="509.68" font-size="9.3" font-weight="bold" fill="#1a1a1a" stroke="#1a1a1a" stroke-width="0.22" >80</text>
<line x1="647.90" y1="479.14" x2="652.60" y2="479.14" stroke="#1a1a1a" stroke-width="1.2"/>
<text x="654.40" y="482.64" font-size="9.3" font-weight="bold" fill="#1a1a1a" stroke="#1a1a1a" stroke-width="0.22" >100</text>
<line x1="647.90" y1="452.10" x2="652.60" y2="452.10" stroke="#1a1a1a" stroke-width="1.2"/>
<text x="654.40" y="455.60" font-size="9.3" font-weight="bold" fill="#1a1a1a" stroke="#1a1a1a" stroke-width="0.22" >120</text>
<line x1="444.70" y1="587.30" x2="444.70" y2="592.50" stroke="#1a1a1a" stroke-width="1.2"/>
<text x="444.80" y="602.30" font-size="9.2" font-weight="bold" text-anchor="middle" fill="#1a1a1a" stroke="#1a1a1a" stroke-width="0.22" >0</text>
<line x1="502.80" y1="587.30" x2="502.80" y2="592.50" stroke="#1a1a1a" stroke-width="1.2"/>
<text x="502.90" y="602.30" font-size="9.2" font-weight="bold" text-anchor="middle" fill="#1a1a1a" stroke="#1a1a1a" stroke-width="0.22" >2</text>
<line x1="560.90" y1="587.30" x2="560.90" y2="592.50" stroke="#1a1a1a" stroke-width="1.2"/>
<text x="561.00" y="602.30" font-size="9.2" font-weight="bold" text-anchor="middle" fill="#1a1a1a" stroke="#1a1a1a" stroke-width="0.22" >4</text>
<line x1="619.00" y1="587.30" x2="619.00" y2="592.50" stroke="#1a1a1a" stroke-width="1.2"/>
<text x="619.10" y="602.30" font-size="9.2" font-weight="bold" text-anchor="middle" fill="#1a1a1a" stroke="#1a1a1a" stroke-width="0.22" >6</text>
<text x="543.70" y="611.80" font-size="9.4" font-weight="bold" text-anchor="middle" fill="#1a1a1a" stroke="#1a1a1a" stroke-width="0.22" textLength="35.4" lengthAdjust="spacingAndGlyphs" >Time (h)</text>
<text x="417.30" y="519.50" font-size="9.0" font-weight="bold" text-anchor="middle" fill="#1a1a1a" stroke="#1a1a1a" stroke-width="0.22" textLength="135.8" lengthAdjust="spacingAndGlyphs" transform="rotate(-90 417.30 519.50)" >Diffusion Coefficient (% of DMSO)</text>
<text x="677.60" y="522.20" font-size="9.9" font-weight="bold" text-anchor="middle" fill="#16a397" stroke="#16a397" stroke-width="0.22" textLength="103.5" lengthAdjust="spacingAndGlyphs" transform="rotate(90 677.60 522.20)" >Spot Density (% DMSO)</text>
<path d="M444.70,491.90 L446.34,491.90 L447.98,491.90 L449.62,491.90 L451.26,491.90 L452.90,491.90 L454.54,491.90 L456.18,491.90 L457.82,491.91 L459.46,491.91 L461.10,491.91 L462.74,491.91 L464.38,491.91 L466.02,491.91 L467.66,491.91 L469.30,491.91 L470.94,491.91 L472.58,491.92 L474.22,491.92 L475.86,491.92 L477.50,491.92 L479.14,491.93 L480.78,491.93 L482.42,491.93 L484.06,491.94 L485.70,491.94 L487.34,491.95 L488.98,491.96 L490.62,491.96 L492.26,491.97 L493.90,491.98 L495.54,491.99 L497.18,492.01 L498.82,492.02 L500.46,492.04 L502.10,492.05 L503.74,492.07 L505.38,492.10 L507.02,492.12 L508.66,492.15 L510.30,492.19 L511.94,492.23 L513.58,492.27 L515.22,492.32 L516.86,492.38 L518.50,492.44 L520.14,492.51 L521.78,492.59 L523.42,492.69 L525.06,492.79 L526.70,492.91 L528.34,493.04 L529.98,493.19 L531.62,493.36 L533.26,493.56 L534.90,493.77 L536.54,494.02 L538.18,494.29 L539.82,494.60 L541.46,494.95 L543.10,495.33 L544.74,495.77 L546.38,496.25 L548.02,496.80 L549.66,497.40 L551.30,498.07 L552.94,498.81 L554.58,499.63 L556.22,500.53 L557.86,501.52 L559.50,502.60 L561.14,503.77 L562.78,505.05 L564.42,506.42 L566.06,507.89 L567.70,509.46 L569.34,511.12 L570.98,512.86 L572.62,514.69 L574.26,516.59 L575.90,518.54 L577.54,520.53 L579.18,522.56 L580.82,524.60 L582.46,526.63 L584.10,528.65 L585.74,530.63 L587.38,532.56 L589.02,534.43 L590.66,536.23 L592.30,537.94 L593.94,539.57 L595.58,541.10 L597.22,542.53 L598.86,543.86 L600.50,545.10 L602.14,546.23 L603.78,547.28 L605.42,548.23 L607.06,549.10 L608.70,549.89 L610.34,550.60 L611.98,551.24 L613.62,551.82 L615.26,552.34 L616.90,552.81 L618.54,553.22 L620.18,553.59 L621.82,553.92 L623.46,554.22 L625.10,554.48 L626.74,554.71 L628.38,554.92 L630.02,555.10 L631.66,555.27 L633.30,555.41 L634.94,555.54 L636.58,555.65 L638.22,555.75 L639.86,555.84 L641.50,555.92" fill="none" stroke="#16a397" stroke-width="1.4"/>
<circle cx="446.10" cy="484.00" r="2.4" fill="#16a397"/>
<path d="M455.30,479.00H459.70M457.50,479.00V485.70M455.30,485.70H459.70" fill="none" stroke="#16a397" stroke-width="1.2"/>
<circle cx="457.50" cy="482.30" r="2.4" fill="#16a397"/>
<path d="M467.60,478.40H472.00M469.80,478.40V487.50M467.60,487.50H472.00" fill="none" stroke="#16a397" stroke-width="1.2"/>
<circle cx="469.80" cy="482.80" r="2.4" fill="#16a397"/>
<path d="M480.70,489.00H485.10M482.90,489.00V495.40M480.70,495.40H485.10" fill="none" stroke="#16a397" stroke-width="1.2"/>
<circle cx="482.90" cy="492.20" r="2.4" fill="#16a397"/>
<path d="M492.50,498.90H496.90M494.70,498.90V505.00M492.50,505.00H496.90" fill="none" stroke="#16a397" stroke-width="1.2"/>
<circle cx="494.70" cy="501.90" r="2.4" fill="#16a397"/>
<path d="M503.80,498.00H508.20M506.00,498.00V505.00M503.80,505.00H508.20" fill="none" stroke="#16a397" stroke-width="1.2"/>
<circle cx="506.00" cy="501.50" r="2.4" fill="#16a397"/>
<circle cx="519.40" cy="494.50" r="2.4" fill="#16a397"/>
<path d="M528.50,486.00H532.90M530.70,486.00V493.70M528.50,493.70H532.90" fill="none" stroke="#16a397" stroke-width="1.2"/>
<circle cx="530.70" cy="490.10" r="2.4" fill="#16a397"/>
<circle cx="543.50" cy="506.50" r="2.4" fill="#16a397"/>
<path d="M553.90,492.40H558.30M556.10,492.40V498.40M553.90,498.40H558.30" fill="none" stroke="#16a397" stroke-width="1.2"/>
<circle cx="556.10" cy="495.40" r="2.4" fill="#16a397"/>
<path d="M565.30,502.00H569.70M567.50,502.00V507.50M565.30,507.50H569.70" fill="none" stroke="#16a397" stroke-width="1.2"/>
<circle cx="567.50" cy="504.70" r="2.4" fill="#16a397"/>
<path d="M578.40,526.00H582.80M580.60,526.00V530.50M578.40,530.50H582.80" fill="none" stroke="#16a397" stroke-width="1.2"/>
<circle cx="580.60" cy="528.30" r="2.4" fill="#16a397"/>
<path d="M590.00,533.00H594.40M592.20,533.00V540.00M590.00,540.00H594.40" fill="none" stroke="#16a397" stroke-width="1.2"/>
<circle cx="592.20" cy="536.60" r="2.4" fill="#16a397"/>
<path d="M602.10,540.00H606.50M604.30,540.00V545.00M602.10,545.00H606.50" fill="none" stroke="#16a397" stroke-width="1.2"/>
<circle cx="604.30" cy="542.70" r="2.4" fill="#16a397"/>
<circle cx="617.10" cy="550.90" r="2.4" fill="#16a397"/>
<circle cx="629.00" cy="555.30" r="2.4" fill="#16a397"/>
<circle cx="640.40" cy="553.70" r="2.4" fill="#16a397"/>
<path d="M444.7,497.5 C445.1,498.6 445.7,501.8 447.0,504.2 C448.3,506.6 450.6,509.9 452.3,512.0 C454.1,514.1 454.6,515.2 457.5,517.0 C460.4,518.8 465.6,521.1 469.8,522.6 C474.0,524.1 478.8,525.1 482.9,526.1 C487.0,527.1 490.2,527.6 494.7,528.7 C499.2,529.9 504.5,531.7 510.0,533.0 C515.5,534.3 521.8,535.6 527.6,536.6 C533.5,537.6 539.7,538.4 545.1,539.2 C550.5,540.0 550.9,540.5 560.0,541.5 C569.1,542.5 586.4,544.0 600.0,545.5 C613.6,547.0 634.6,549.8 641.5,550.6" fill="none" stroke="#111" stroke-width="1.3"/>
<path d="M444.00,496.70H448.20M446.10,496.70V501.10M444.00,501.10H448.20" fill="none" stroke="#111" stroke-width="1.2"/>
<circle cx="446.10" cy="498.90" r="2.4" fill="#111"/>
<path d="M455.40,516.50H459.60M457.50,516.50V520.90M455.40,520.90H459.60" fill="none" stroke="#111" stroke-width="1.2"/>
<circle cx="457.50" cy="518.70" r="2.4" fill="#111"/>
<path d="M467.70,521.20H471.90M469.80,521.20V525.60M467.70,525.60H471.90" fill="none" stroke="#111" stroke-width="1.2"/>
<circle cx="469.80" cy="523.40" r="2.4" fill="#111"/>
<path d="M480.80,523.50H485.00M482.90,523.50V527.90M480.80,527.90H485.00" fill="none" stroke="#111" stroke-width="1.2"/>
<circle cx="482.90" cy="525.70" r="2.4" fill="#111"/>
<path d="M492.60,526.00H496.80M494.70,526.00V530.40M492.60,530.40H496.80" fill="none" stroke="#111" stroke-width="1.2"/>
<circle cx="494.70" cy="528.20" r="2.4" fill="#111"/>
<path d="M503.90,532.60H508.10M506.00,532.60V537.00M503.90,537.00H508.10" fill="none" stroke="#111" stroke-width="1.2"/>
<circle cx="506.00" cy="534.80" r="2.4" fill="#111"/>
<path d="M517.30,535.80H521.50M519.40,535.80V540.20M517.30,540.20H521.50" fill="none" stroke="#111" stroke-width="1.2"/>
<circle cx="519.40" cy="538.00" r="2.4" fill="#111"/>
<path d="M528.60,535.20H532.80M530.70,535.20V539.60M528.60,539.60H532.80" fill="none" stroke="#111" stroke-width="1.2"/>
<circle cx="530.70" cy="537.40" r="2.4" fill="#111"/>
<path d="M541.40,535.20H545.60M543.50,535.20V539.60M541.40,539.60H545.60" fill="none" stroke="#111" stroke-width="1.2"/>
<circle cx="543.50" cy="537.40" r="2.4" fill="#111"/>
<path d="M554.00,534.70H558.20M556.10,534.70V539.10M554.00,539.10H558.20" fill="none" stroke="#111" stroke-width="1.2"/>
<circle cx="556.10" cy="536.90" r="2.4" fill="#111"/>
<path d="M565.40,538.80H569.60M567.50,538.80V543.20M565.40,543.20H569.60" fill="none" stroke="#111" stroke-width="1.2"/>
<circle cx="567.50" cy="541.00" r="2.4" fill="#111"/>
<path d="M578.40,536.00H582.80M580.60,536.00V544.00M578.40,544.00H582.80" fill="none" stroke="#111" stroke-width="1.2"/>
<circle cx="580.60" cy="539.70" r="2.4" fill="#111"/>
<path d="M590.10,547.00H594.30M592.20,547.00V551.40M590.10,551.40H594.30" fill="none" stroke="#111" stroke-width="1.2"/>
<circle cx="592.20" cy="549.20" r="2.4" fill="#111"/>
<path d="M602.20,547.00H606.40M604.30,547.00V551.40M602.20,551.40H606.40" fill="none" stroke="#111" stroke-width="1.2"/>
<circle cx="604.30" cy="549.20" r="2.4" fill="#111"/>
<path d="M615.00,548.40H619.20M617.10,548.40V552.80M615.00,552.80H619.20" fill="none" stroke="#111" stroke-width="1.2"/>
<circle cx="617.10" cy="550.60" r="2.4" fill="#111"/>
<path d="M626.90,548.70H631.10M629.00,548.70V553.10M626.90,553.10H631.10" fill="none" stroke="#111" stroke-width="1.2"/>
<circle cx="629.00" cy="550.90" r="2.4" fill="#111"/>
<path d="M638.30,546.30H642.50M640.40,546.30V550.70M638.30,550.70H642.50" fill="none" stroke="#111" stroke-width="1.2"/>
<circle cx="640.40" cy="548.50" r="2.4" fill="#111"/>
<line x1="454.40" y1="451.10" x2="469.90" y2="451.10" stroke="#111" stroke-width="1.2"/>
<circle cx="461.70" cy="451.10" r="2.0" fill="#111"/>
<text x="470.40" y="455.20" font-size="11.8" fill="#111" stroke="#111" stroke-width="0.12" textLength="79.7" lengthAdjust="spacingAndGlyphs" >WRN Diffusion</text>
<line x1="558.00" y1="451.10" x2="574.10" y2="451.10" stroke="#16a397" stroke-width="1.2"/>
<circle cx="566.20" cy="451.10" r="2.0" fill="#16a397"/>
<text x="575.00" y="455.20" font-size="11.8" fill="#16a397" stroke="#16a397" stroke-width="0.12" textLength="68.3" lengthAdjust="spacingAndGlyphs" >WRN Levels</text>
</svg></body></html>
